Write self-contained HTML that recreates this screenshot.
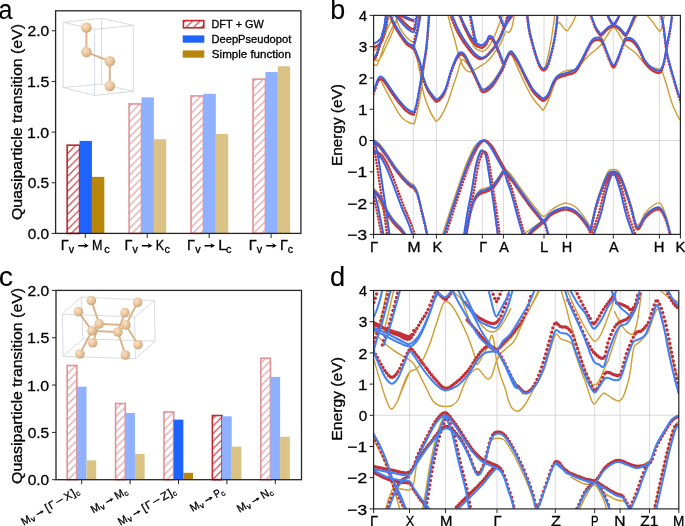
<!DOCTYPE html>
<html><head><meta charset="utf-8"><style>html,body{margin:0;padding:0;background:#fff;}#w{width:685px;height:526px;overflow:hidden;will-change:transform;}svg{display:block;}text{font-family:"Liberation Sans", sans-serif;}</style></head>
<body><div id="w"><svg width="685" height="526" viewBox="0 0 685 526" font-family='"Liberation Sans", sans-serif' fill="#000" style="font-kerning:none"><defs>
<clipPath id="clipb"><rect x="373.6" y="15.4" width="306.8" height="219"/></clipPath>
<clipPath id="clipd"><rect x="373.6" y="290.5" width="305.2" height="218.4"/></clipPath>
<pattern id="hatchS" patternUnits="userSpaceOnUse" width="7.6" height="7.6" patternTransform="translate(0.6,0)">
<path d="M-2,2 L2,-2 M0,7.6 L7.6,0 M5.6,9.6 L9.6,5.6" stroke="#c1272d" stroke-width="1.15"/></pattern>
<pattern id="hatchL" patternUnits="userSpaceOnUse" width="7.6" height="7.6" patternTransform="translate(0.6,0)">
<path d="M-2,2 L2,-2 M0,7.6 L7.6,0 M5.6,9.6 L9.6,5.6" stroke="#df9396" stroke-width="1.15"/></pattern>
<radialGradient id="atomg" cx="0.38" cy="0.35" r="0.7">
<stop offset="0" stop-color="#f7e2c6"/><stop offset="0.55" stop-color="#e9c49a"/><stop offset="1" stop-color="#c9a27a"/></radialGradient>
</defs><rect x="67.17" y="145.17" width="12.39" height="88.23" fill="url(#hatchS)" stroke="#c1272d" stroke-width="1.6"/>
<rect x="79.56" y="140.91" width="12.39" height="92.49" fill="#1f63ff"/>
<rect x="91.94" y="176.87" width="12.39" height="56.53" fill="#b8860b"/>
<rect x="129.11" y="103.94" width="12.39" height="129.46" fill="url(#hatchL)" stroke="#df9396" stroke-width="1.6"/>
<rect x="141.50" y="97.35" width="12.39" height="136.05" fill="#8fb1ff"/>
<rect x="153.88" y="139.29" width="12.39" height="94.11" fill="#dbc285"/>
<rect x="191.05" y="95.94" width="12.39" height="137.46" fill="url(#hatchL)" stroke="#df9396" stroke-width="1.6"/>
<rect x="203.44" y="93.81" width="12.39" height="139.59" fill="#8fb1ff"/>
<rect x="215.82" y="133.92" width="12.39" height="99.48" fill="#dbc285"/>
<rect x="252.99" y="79.12" width="12.39" height="154.28" fill="url(#hatchL)" stroke="#df9396" stroke-width="1.6"/>
<rect x="265.38" y="72.03" width="12.39" height="161.37" fill="#8fb1ff"/>
<rect x="277.76" y="66.26" width="12.39" height="167.14" fill="#dbc285"/>
<rect x="55.6" y="10.8" width="245.3" height="222.6" fill="none" stroke="#262626" stroke-width="1.3"/>
<line x1="51.6" y1="233.40" x2="55.6" y2="233.40" stroke="#262626" stroke-width="1"/>
<text transform="translate(27.70,239.00) scale(1.0179,1)" font-size="15.2" fill="#000" stroke="#000" stroke-width="0.3">0.0</text>
<line x1="51.6" y1="182.75" x2="55.6" y2="182.75" stroke="#262626" stroke-width="1"/>
<text transform="translate(27.69,188.35) scale(1.0202,1)" font-size="15.2" fill="#000" stroke="#000" stroke-width="0.3">0.5</text>
<line x1="51.6" y1="132.10" x2="55.6" y2="132.10" stroke="#262626" stroke-width="1"/>
<text transform="translate(27.09,137.70) scale(1.0476,1)" font-size="15.2" fill="#000" stroke="#000" stroke-width="0.3">1.0</text>
<line x1="51.6" y1="81.45" x2="55.6" y2="81.45" stroke="#262626" stroke-width="1"/>
<text transform="translate(27.08,87.05) scale(1.0500,1)" font-size="15.2" fill="#000" stroke="#000" stroke-width="0.3">1.5</text>
<line x1="51.6" y1="30.80" x2="55.6" y2="30.80" stroke="#262626" stroke-width="1"/>
<text transform="translate(27.52,36.40) scale(1.0267,1)" font-size="15.2" fill="#000" stroke="#000" stroke-width="0.3">2.0</text>
<line x1="85.30" y1="233.4" x2="85.30" y2="238.0" stroke="#262626" stroke-width="1"/>
<text transform="translate(60.71,250.20) scale(1.0222,1)" font-size="14.2" fill="#000" stroke="#000" stroke-width="0.3">Γ</text>
<text transform="translate(68.86,253.00) scale(1.0747,1)" font-size="10" fill="#000" stroke="#000" stroke-width="0.3">v</text>
<path d="M78.20,244.93 L85.13,244.93 L83.94,243.04 L88.70,245.70 L83.94,248.36 L85.13,246.47 L78.20,246.47 Z" fill="#000"/>
<text transform="translate(92.07,250.20) scale(0.8843,1)" font-size="14.2" fill="#000" stroke="#000" stroke-width="0.3">M</text>
<text transform="translate(104.34,252.90) scale(1.0901,1)" font-size="10" fill="#000" stroke="#000" stroke-width="0.3">c</text>
<line x1="147.24" y1="233.4" x2="147.24" y2="238.0" stroke="#262626" stroke-width="1"/>
<text transform="translate(124.41,250.20) scale(1.0222,1)" font-size="14.2" fill="#000" stroke="#000" stroke-width="0.3">Γ</text>
<text transform="translate(132.56,253.00) scale(1.0747,1)" font-size="10" fill="#000" stroke="#000" stroke-width="0.3">v</text>
<path d="M141.90,244.93 L148.83,244.93 L147.64,243.04 L152.40,245.70 L147.64,248.36 L148.83,246.47 L141.90,246.47 Z" fill="#000"/>
<text transform="translate(155.77,250.20) scale(0.8838,1)" font-size="14.2" fill="#000" stroke="#000" stroke-width="0.3">K</text>
<text transform="translate(164.44,252.90) scale(1.0901,1)" font-size="10" fill="#000" stroke="#000" stroke-width="0.3">c</text>
<line x1="209.18" y1="233.4" x2="209.18" y2="238.0" stroke="#262626" stroke-width="1"/>
<text transform="translate(187.01,250.20) scale(1.0222,1)" font-size="14.2" fill="#000" stroke="#000" stroke-width="0.3">Γ</text>
<text transform="translate(195.16,253.00) scale(1.0747,1)" font-size="10" fill="#000" stroke="#000" stroke-width="0.3">v</text>
<path d="M204.50,244.93 L211.43,244.93 L210.24,243.04 L215.00,245.70 L210.24,248.36 L211.43,246.47 L204.50,246.47 Z" fill="#000"/>
<text transform="translate(218.13,250.20) scale(1.0861,1)" font-size="14.2" fill="#000" stroke="#000" stroke-width="0.3">L</text>
<text transform="translate(226.04,252.90) scale(1.0901,1)" font-size="10" fill="#000" stroke="#000" stroke-width="0.3">c</text>
<line x1="271.12" y1="233.4" x2="271.12" y2="238.0" stroke="#262626" stroke-width="1"/>
<text transform="translate(248.71,250.20) scale(1.0222,1)" font-size="14.2" fill="#000" stroke="#000" stroke-width="0.3">Γ</text>
<text transform="translate(256.86,253.00) scale(1.0747,1)" font-size="10" fill="#000" stroke="#000" stroke-width="0.3">v</text>
<path d="M266.20,244.93 L273.13,244.93 L271.94,243.04 L276.70,245.70 L271.94,248.36 L273.13,246.47 L266.20,246.47 Z" fill="#000"/>
<text transform="translate(279.91,250.20) scale(1.0222,1)" font-size="14.2" fill="#000" stroke="#000" stroke-width="0.3">Γ</text>
<text transform="translate(287.64,252.90) scale(1.0901,1)" font-size="10" fill="#000" stroke="#000" stroke-width="0.3">c</text>
<text transform="translate(21.50,220.05) rotate(-90) scale(1.1361,1)" font-size="14" stroke="#000" stroke-width="0.3">Quasiparticle transition (eV)</text>
<rect x="183.4" y="20.6" width="20.4" height="7.2" fill="url(#hatchS)" stroke="#c1272d" stroke-width="1.6"/>
<rect x="182.7" y="35.4" width="21.6" height="7.3" fill="#1f63ff"/>
<rect x="182.7" y="50.4" width="21.6" height="7.3" fill="#b8860b"/>
<text transform="translate(211.50,27.80) scale(1.0198,1)" font-size="10.7" fill="#000" stroke="#000" stroke-width="0.3">DFT + GW</text>
<text transform="translate(211.49,42.80) scale(1.0397,1)" font-size="10.7" fill="#000" stroke="#000" stroke-width="0.3">DeepPseudopot</text>
<text transform="translate(211.87,57.80) scale(1.0823,1)" font-size="10.7" fill="#000" stroke="#000" stroke-width="0.3">Simple function</text>
<rect x="67.18" y="365.46" width="9.68" height="114.24" fill="url(#hatchL)" stroke="#df9396" stroke-width="1.6"/>
<rect x="76.86" y="386.66" width="9.68" height="93.04" fill="#8fb1ff"/>
<rect x="86.54" y="460.39" width="9.68" height="19.31" fill="#dbc285"/>
<rect x="115.58" y="403.51" width="9.68" height="76.19" fill="url(#hatchL)" stroke="#df9396" stroke-width="1.6"/>
<rect x="125.26" y="412.97" width="9.68" height="66.73" fill="#8fb1ff"/>
<rect x="134.94" y="453.86" width="9.68" height="25.84" fill="#dbc285"/>
<rect x="163.98" y="411.93" width="9.68" height="67.77" fill="url(#hatchL)" stroke="#df9396" stroke-width="1.6"/>
<rect x="173.66" y="419.60" width="9.68" height="60.10" fill="#1f63ff"/>
<rect x="183.34" y="472.79" width="9.68" height="6.91" fill="#b8860b"/>
<rect x="212.38" y="415.53" width="9.68" height="64.17" fill="url(#hatchS)" stroke="#c1272d" stroke-width="1.6"/>
<rect x="222.06" y="416.28" width="9.68" height="63.42" fill="#8fb1ff"/>
<rect x="231.74" y="446.57" width="9.68" height="33.13" fill="#dbc285"/>
<rect x="260.78" y="358.26" width="9.68" height="121.44" fill="url(#hatchL)" stroke="#df9396" stroke-width="1.6"/>
<rect x="270.46" y="376.91" width="9.68" height="102.79" fill="#8fb1ff"/>
<rect x="280.14" y="436.73" width="9.68" height="42.97" fill="#dbc285"/>
<rect x="56.0" y="290.4" width="245.5" height="189.3" fill="none" stroke="#262626" stroke-width="1.3"/>
<line x1="52.0" y1="479.70" x2="56.0" y2="479.70" stroke="#262626" stroke-width="1"/>
<text transform="translate(27.70,485.30) scale(1.0179,1)" font-size="15.2" fill="#000" stroke="#000" stroke-width="0.3">0.0</text>
<line x1="52.0" y1="432.38" x2="56.0" y2="432.38" stroke="#262626" stroke-width="1"/>
<text transform="translate(27.69,437.98) scale(1.0202,1)" font-size="15.2" fill="#000" stroke="#000" stroke-width="0.3">0.5</text>
<line x1="52.0" y1="385.05" x2="56.0" y2="385.05" stroke="#262626" stroke-width="1"/>
<text transform="translate(27.09,390.65) scale(1.0476,1)" font-size="15.2" fill="#000" stroke="#000" stroke-width="0.3">1.0</text>
<line x1="52.0" y1="337.72" x2="56.0" y2="337.72" stroke="#262626" stroke-width="1"/>
<text transform="translate(27.08,343.32) scale(1.0500,1)" font-size="15.2" fill="#000" stroke="#000" stroke-width="0.3">1.5</text>
<line x1="52.0" y1="290.40" x2="56.0" y2="290.40" stroke="#262626" stroke-width="1"/>
<text transform="translate(27.52,296.00) scale(1.0267,1)" font-size="15.2" fill="#000" stroke="#000" stroke-width="0.3">2.0</text>
<text transform="translate(21.50,483.95) rotate(-90) scale(1.1361,1)" font-size="14" stroke="#000" stroke-width="0.3">Quasiparticle transition (eV)</text>
<line x1="81.70" y1="479.7" x2="81.70" y2="484.2" stroke="#262626" stroke-width="1"/>
<g transform="translate(23.56,525.74) rotate(-30)">
<text transform="translate(0.18,0.00) scale(0.9971,1)" font-size="10.9" fill="#000" stroke="#000" stroke-width="0.3">M</text>
<text transform="translate(9.61,1.64) scale(1.0787,1)" font-size="7.63" fill="#000" stroke="#000" stroke-width="0.3">v</text>
<path d="M16.84,-3.54 L22.20,-3.54 L21.27,-5.01 L24.98,-2.94 L21.27,-0.87 L22.20,-2.34 L16.84,-2.34 Z" fill="#000"/>
<text transform="translate(27.53,0.00) scale(1.0567,1)" font-size="10.9" fill="#000" stroke="#000" stroke-width="0.3">[</text>
<text transform="translate(31.77,0.00) scale(1.0206,1)" font-size="10.9" fill="#000" stroke="#000" stroke-width="0.3">Γ</text>
<text transform="translate(39.46,0.00) scale(1.2885,1)" font-size="10.9" fill="#000" stroke="#000" stroke-width="0.3">−</text>
<text transform="translate(49.52,0.00) scale(1.0023,1)" font-size="10.9" fill="#000" stroke="#000" stroke-width="0.3">X</text>
<text transform="translate(57.74,0.00) scale(1.0567,1)" font-size="10.9" fill="#000" stroke="#000" stroke-width="0.3">]</text>
<text transform="translate(61.24,1.64) scale(1.0205,1)" font-size="7.63" fill="#000" stroke="#000" stroke-width="0.3">c</text>
</g>
<line x1="130.10" y1="479.7" x2="130.10" y2="484.2" stroke="#262626" stroke-width="1"/>
<g transform="translate(93.14,513.51) rotate(-30)">
<text transform="translate(0.18,0.00) scale(0.9971,1)" font-size="10.9" fill="#000" stroke="#000" stroke-width="0.3">M</text>
<text transform="translate(9.61,1.64) scale(1.0787,1)" font-size="7.63" fill="#000" stroke="#000" stroke-width="0.3">v</text>
<path d="M16.84,-3.54 L22.20,-3.54 L21.27,-5.01 L24.98,-2.94 L21.27,-0.87 L22.20,-2.34 L16.84,-2.34 Z" fill="#000"/>
<text transform="translate(27.46,0.00) scale(0.9971,1)" font-size="10.9" fill="#000" stroke="#000" stroke-width="0.3">M</text>
<text transform="translate(36.78,1.64) scale(1.0205,1)" font-size="7.63" fill="#000" stroke="#000" stroke-width="0.3">c</text>
</g>
<line x1="178.50" y1="479.7" x2="178.50" y2="484.2" stroke="#262626" stroke-width="1"/>
<g transform="translate(120.36,525.74) rotate(-30)">
<text transform="translate(0.18,0.00) scale(0.9971,1)" font-size="10.9" fill="#000" stroke="#000" stroke-width="0.3">M</text>
<text transform="translate(9.61,1.64) scale(1.0787,1)" font-size="7.63" fill="#000" stroke="#000" stroke-width="0.3">v</text>
<path d="M16.84,-3.54 L22.20,-3.54 L21.27,-5.01 L24.98,-2.94 L21.27,-0.87 L22.20,-2.34 L16.84,-2.34 Z" fill="#000"/>
<text transform="translate(27.53,0.00) scale(1.0567,1)" font-size="10.9" fill="#000" stroke="#000" stroke-width="0.3">[</text>
<text transform="translate(31.77,0.00) scale(1.0206,1)" font-size="10.9" fill="#000" stroke="#000" stroke-width="0.3">Γ</text>
<text transform="translate(39.46,0.00) scale(1.2885,1)" font-size="10.9" fill="#000" stroke="#000" stroke-width="0.3">−</text>
<text transform="translate(49.55,0.00) scale(1.0952,1)" font-size="10.9" fill="#000" stroke="#000" stroke-width="0.3">Z</text>
<text transform="translate(57.74,0.00) scale(1.0567,1)" font-size="10.9" fill="#000" stroke="#000" stroke-width="0.3">]</text>
<text transform="translate(61.24,1.64) scale(1.0205,1)" font-size="7.63" fill="#000" stroke="#000" stroke-width="0.3">c</text>
</g>
<line x1="226.90" y1="479.7" x2="226.90" y2="484.2" stroke="#262626" stroke-width="1"/>
<g transform="translate(192.40,512.09) rotate(-30)">
<text transform="translate(0.18,0.00) scale(0.9971,1)" font-size="10.9" fill="#000" stroke="#000" stroke-width="0.3">M</text>
<text transform="translate(9.61,1.64) scale(1.0787,1)" font-size="7.63" fill="#000" stroke="#000" stroke-width="0.3">v</text>
<path d="M16.84,-3.54 L22.20,-3.54 L21.27,-5.01 L24.98,-2.94 L21.27,-0.87 L22.20,-2.34 L16.84,-2.34 Z" fill="#000"/>
<text transform="translate(27.57,0.00) scale(0.8831,1)" font-size="10.9" fill="#000" stroke="#000" stroke-width="0.3">P</text>
<text transform="translate(33.95,1.64) scale(1.0205,1)" font-size="7.63" fill="#000" stroke="#000" stroke-width="0.3">c</text>
</g>
<line x1="275.30" y1="479.7" x2="275.30" y2="484.2" stroke="#262626" stroke-width="1"/>
<g transform="translate(239.43,512.88) rotate(-30)">
<text transform="translate(0.18,0.00) scale(0.9971,1)" font-size="10.9" fill="#000" stroke="#000" stroke-width="0.3">M</text>
<text transform="translate(9.61,1.64) scale(1.0787,1)" font-size="7.63" fill="#000" stroke="#000" stroke-width="0.3">v</text>
<path d="M16.84,-3.54 L22.20,-3.54 L21.27,-5.01 L24.98,-2.94 L21.27,-0.87 L22.20,-2.34 L16.84,-2.34 Z" fill="#000"/>
<text transform="translate(27.47,0.00) scale(0.9882,1)" font-size="10.9" fill="#000" stroke="#000" stroke-width="0.3">N</text>
<text transform="translate(35.53,1.64) scale(1.0205,1)" font-size="7.63" fill="#000" stroke="#000" stroke-width="0.3">c</text>
</g>
<line x1="63.1" y1="22.3" x2="101.6" y2="18.3" stroke="#c9cbd6" stroke-width="0.7"/>
<line x1="101.6" y1="18.3" x2="133.4" y2="25.4" stroke="#c9cbd6" stroke-width="0.7"/>
<line x1="133.4" y1="25.4" x2="94.6" y2="29.3" stroke="#c9cbd6" stroke-width="0.7"/>
<line x1="94.6" y1="29.3" x2="63.1" y2="22.3" stroke="#c9cbd6" stroke-width="0.7"/>
<line x1="63.1" y1="87.5" x2="101.6" y2="84.0" stroke="#c9cbd6" stroke-width="0.7"/>
<line x1="101.6" y1="84.0" x2="133.4" y2="91.3" stroke="#c9cbd6" stroke-width="0.7"/>
<line x1="133.4" y1="91.3" x2="94.6" y2="95.5" stroke="#c9cbd6" stroke-width="0.7"/>
<line x1="94.6" y1="95.5" x2="63.1" y2="87.5" stroke="#c9cbd6" stroke-width="0.7"/>
<line x1="63.1" y1="22.3" x2="63.1" y2="87.5" stroke="#c9cbd6" stroke-width="0.7"/>
<line x1="101.6" y1="18.3" x2="101.6" y2="84.0" stroke="#c9cbd6" stroke-width="0.7"/>
<line x1="133.4" y1="25.4" x2="133.4" y2="91.3" stroke="#c9cbd6" stroke-width="0.7"/>
<line x1="94.6" y1="29.3" x2="94.6" y2="95.5" stroke="#c9cbd6" stroke-width="0.7"/>
<line x1="86.4" y1="27.5" x2="86.4" y2="52.1" stroke="#d9b48a" stroke-width="2.0"/>
<line x1="86.4" y1="52.1" x2="109.8" y2="61.3" stroke="#d9b48a" stroke-width="2.0"/>
<line x1="109.8" y1="61.3" x2="109.8" y2="86.0" stroke="#d9b48a" stroke-width="2.0"/>
<circle cx="86.40" cy="27.50" r="5.3" fill="url(#atomg)"/>
<circle cx="86.40" cy="52.10" r="5.3" fill="url(#atomg)"/>
<circle cx="109.80" cy="61.30" r="5.3" fill="url(#atomg)"/>
<circle cx="109.80" cy="86.00" r="5.3" fill="url(#atomg)"/>
<line x1="81.4" y1="297" x2="154.4" y2="300.5" stroke="#c9cbd6" stroke-width="0.7"/>
<line x1="154.4" y1="300.5" x2="134.6" y2="317" stroke="#c9cbd6" stroke-width="0.7"/>
<line x1="134.6" y1="317" x2="62.4" y2="314.1" stroke="#c9cbd6" stroke-width="0.7"/>
<line x1="62.4" y1="314.1" x2="81.4" y2="297" stroke="#c9cbd6" stroke-width="0.7"/>
<line x1="82.8" y1="338.9" x2="155.1" y2="341.1" stroke="#c9cbd6" stroke-width="0.7"/>
<line x1="155.1" y1="341.1" x2="135.4" y2="358.6" stroke="#c9cbd6" stroke-width="0.7"/>
<line x1="135.4" y1="358.6" x2="63.1" y2="356.4" stroke="#c9cbd6" stroke-width="0.7"/>
<line x1="63.1" y1="356.4" x2="82.8" y2="338.9" stroke="#c9cbd6" stroke-width="0.7"/>
<line x1="81.4" y1="297" x2="82.8" y2="338.9" stroke="#c9cbd6" stroke-width="0.7"/>
<line x1="154.4" y1="300.5" x2="155.1" y2="341.1" stroke="#c9cbd6" stroke-width="0.7"/>
<line x1="62.4" y1="314.1" x2="63.1" y2="356.4" stroke="#c9cbd6" stroke-width="0.7"/>
<line x1="134.6" y1="317" x2="135.4" y2="358.6" stroke="#c9cbd6" stroke-width="0.7"/>
<line x1="78.4" y1="311.6" x2="91.9" y2="330.9" stroke="#d9b48a" stroke-width="2.0"/>
<line x1="91.3" y1="300.5" x2="99.2" y2="323.9" stroke="#d9b48a" stroke-width="2.0"/>
<line x1="99.2" y1="323.9" x2="125.9" y2="325" stroke="#d9b48a" stroke-width="2.0"/>
<line x1="91.9" y1="330.9" x2="117.9" y2="332" stroke="#d9b48a" stroke-width="2.0"/>
<line x1="91.9" y1="330.9" x2="79.9" y2="354" stroke="#d9b48a" stroke-width="2.0"/>
<line x1="99.2" y1="323.9" x2="92.7" y2="342.8" stroke="#d9b48a" stroke-width="2.0"/>
<line x1="137.6" y1="302.4" x2="125.9" y2="325" stroke="#d9b48a" stroke-width="2.0"/>
<line x1="124.9" y1="312.6" x2="117.9" y2="332" stroke="#d9b48a" stroke-width="2.0"/>
<line x1="125.9" y1="325" x2="138" y2="344.7" stroke="#d9b48a" stroke-width="2.0"/>
<line x1="117.9" y1="332" x2="125.4" y2="355" stroke="#d9b48a" stroke-width="2.0"/>
<line x1="99.2" y1="323.9" x2="91.9" y2="330.9" stroke="#d9b48a" stroke-width="2.0"/>
<line x1="125.9" y1="325" x2="117.9" y2="332" stroke="#d9b48a" stroke-width="2.0"/>
<circle cx="91.30" cy="300.50" r="4.8" fill="url(#atomg)"/>
<circle cx="137.60" cy="302.40" r="4.8" fill="url(#atomg)"/>
<circle cx="78.40" cy="311.60" r="4.8" fill="url(#atomg)"/>
<circle cx="124.90" cy="312.60" r="4.8" fill="url(#atomg)"/>
<circle cx="99.20" cy="323.90" r="4.8" fill="url(#atomg)"/>
<circle cx="125.90" cy="325.00" r="4.8" fill="url(#atomg)"/>
<circle cx="91.90" cy="330.90" r="4.8" fill="url(#atomg)"/>
<circle cx="117.90" cy="332.00" r="4.8" fill="url(#atomg)"/>
<circle cx="92.70" cy="342.80" r="4.8" fill="url(#atomg)"/>
<circle cx="138.00" cy="344.70" r="4.8" fill="url(#atomg)"/>
<circle cx="79.90" cy="354.00" r="4.8" fill="url(#atomg)"/>
<circle cx="125.40" cy="355.00" r="4.8" fill="url(#atomg)"/>
<text transform="translate(-1.57,18.80) scale(0.8969,1)" font-size="28" fill="#000" stroke="#000" stroke-width="0.1">a</text>
<text transform="translate(330.37,18.80) scale(0.9609,1)" font-size="28" fill="#000" stroke="#000" stroke-width="0.1">b</text>
<text transform="translate(-1.21,285.50) scale(1.0189,1)" font-size="28" fill="#000" stroke="#000" stroke-width="0.1">c</text>
<text transform="translate(329.95,285.60) scale(0.9768,1)" font-size="28" fill="#000" stroke="#000" stroke-width="0.1">d</text>
<line x1="413.3" y1="15.4" x2="413.3" y2="234.4" stroke="#d0d0d0" stroke-width="0.8"/>
<line x1="436.4" y1="15.4" x2="436.4" y2="234.4" stroke="#d0d0d0" stroke-width="0.8"/>
<line x1="482.3" y1="15.4" x2="482.3" y2="234.4" stroke="#d0d0d0" stroke-width="0.8"/>
<line x1="503.4" y1="15.4" x2="503.4" y2="234.4" stroke="#d0d0d0" stroke-width="0.8"/>
<line x1="544.0" y1="15.4" x2="544.0" y2="234.4" stroke="#d0d0d0" stroke-width="0.8"/>
<line x1="566.6" y1="15.4" x2="566.6" y2="234.4" stroke="#d0d0d0" stroke-width="0.8"/>
<line x1="613.3" y1="15.4" x2="613.3" y2="234.4" stroke="#d0d0d0" stroke-width="0.8"/>
<line x1="659.4" y1="15.4" x2="659.4" y2="234.4" stroke="#d0d0d0" stroke-width="0.8"/>
<line x1="373.6" y1="140.54" x2="680.4" y2="140.54" stroke="#d0d0d0" stroke-width="0.8"/>
<line x1="409.5" y1="290.5" x2="409.5" y2="508.9" stroke="#d0d0d0" stroke-width="0.8"/>
<line x1="445.6" y1="290.5" x2="445.6" y2="508.9" stroke="#d0d0d0" stroke-width="0.8"/>
<line x1="497.0" y1="290.5" x2="497.0" y2="508.9" stroke="#d0d0d0" stroke-width="0.8"/>
<line x1="555.3" y1="290.5" x2="555.3" y2="508.9" stroke="#d0d0d0" stroke-width="0.8"/>
<line x1="594.7" y1="290.5" x2="594.7" y2="508.9" stroke="#d0d0d0" stroke-width="0.8"/>
<line x1="620.1" y1="290.5" x2="620.1" y2="508.9" stroke="#d0d0d0" stroke-width="0.8"/>
<line x1="649.5" y1="290.5" x2="649.5" y2="508.9" stroke="#d0d0d0" stroke-width="0.8"/>
<line x1="373.6" y1="415.30" x2="678.8" y2="415.30" stroke="#d0d0d0" stroke-width="0.8"/>
<g clip-path="url(#clipb)">
<path d="M373.6,91.0C374.1,89.8 375.6,85.8 376.5,84.0C377.4,82.2 378.4,80.7 379.0,80.0C379.6,79.3 379.5,78.3 380.4,79.6C381.3,80.8 383.1,85.1 384.4,87.5C385.6,89.9 386.7,91.9 387.9,94.1C389.1,96.3 390.2,98.5 391.4,100.6C392.6,102.7 393.7,104.7 394.9,106.7C396.1,108.8 397.3,111.2 398.4,112.9C399.5,114.6 400.4,115.7 401.5,117.0C402.6,118.3 404.1,119.6 405.3,120.5C406.6,121.4 407.8,122.0 409.0,122.5C410.2,123.0 411.7,123.5 412.6,123.6C413.5,123.7 413.5,124.8 414.2,123.3C414.9,121.8 415.7,119.0 416.6,114.9C417.5,110.8 418.9,103.5 419.8,98.8C420.7,94.1 421.2,91.2 421.8,86.7C422.4,82.2 423.0,76.5 423.5,72.0C424.0,67.5 424.5,63.7 425.0,60.0C425.5,56.3 426.0,54.7 426.5,50.0C427.0,45.3 427.5,38.0 428.0,32.0C428.5,26.0 429.2,17.0 429.5,14.0M394.5,24.0C395.8,26.3 400.1,34.3 402.4,37.6C404.6,40.9 406.1,41.9 408.0,44.0C409.9,46.1 412.3,47.9 413.7,50.1C415.1,52.3 415.7,54.3 416.6,57.4C417.5,60.5 418.4,65.0 419.1,68.5C419.8,72.0 420.5,75.3 421.0,78.4C421.5,81.5 421.6,83.9 422.2,87.0C422.8,90.1 423.5,93.4 424.7,97.2C425.9,101.0 427.9,106.5 429.5,110.1C431.1,113.7 433.2,117.2 434.4,119.0C435.6,120.8 435.4,121.5 436.5,121.1C437.6,120.7 439.1,119.4 440.9,116.5C442.7,113.6 445.4,108.4 447.3,103.6C449.2,98.8 450.9,92.8 452.5,87.9C454.1,83.0 455.8,78.4 457.1,74.2C458.4,70.0 459.6,65.2 460.5,62.8C461.4,60.3 461.7,59.6 462.5,59.5C463.3,59.4 464.2,60.7 465.5,62.0C466.8,63.3 468.4,65.0 470.0,67.5C471.6,70.0 473.5,74.1 475.0,77.0C476.5,79.9 477.6,82.9 479.0,85.0C480.4,87.1 481.6,89.5 483.3,89.6C485.0,89.7 487.1,87.4 489.0,85.6C490.9,83.8 492.9,81.3 494.7,78.8C496.5,76.3 498.5,73.4 500.0,70.8C501.5,68.2 502.3,65.5 503.5,63.0C504.7,60.5 505.9,57.7 507.0,56.0C508.1,54.3 508.4,50.8 510.2,52.8C512.0,54.8 515.3,62.8 517.8,68.1C520.3,73.4 522.9,79.7 525.4,84.8C527.9,89.9 530.5,94.7 533.0,98.5C535.5,102.3 538.9,105.8 540.7,107.6C542.5,109.4 542.2,111.3 543.7,109.5C545.2,107.7 547.8,101.9 549.8,97.0C551.8,92.1 554.2,84.1 555.9,80.2C557.5,76.3 557.9,75.4 559.7,73.8C561.5,72.2 564.3,71.2 566.9,70.4C569.5,69.7 573.3,70.2 575.5,69.3C577.7,68.4 578.4,66.6 580.0,65.0C581.6,63.4 583.2,61.4 585.0,59.5C586.8,57.6 588.8,55.5 590.7,53.8C592.6,52.1 594.5,50.9 596.4,49.2C598.3,47.5 600.2,46.0 602.1,43.5C604.0,41.0 605.9,37.1 607.8,34.4C609.7,31.7 611.6,27.5 613.5,27.5C615.4,27.5 617.3,31.5 619.2,34.4C621.1,37.2 623.0,42.1 624.9,44.6C626.8,47.1 628.7,47.7 630.6,49.2C632.5,50.7 633.9,51.3 636.3,53.8C638.7,56.3 642.7,61.8 645.0,64.0C647.3,66.2 647.8,66.1 650.2,67.0C652.7,67.9 657.6,68.1 659.7,69.3C661.8,70.5 662.0,71.7 663.0,74.0C664.0,76.3 664.4,77.7 666.0,82.9C667.6,88.2 670.5,99.3 672.8,105.5C675.1,111.7 678.8,117.8 680.0,120.2M447.7,14.0C448.2,16.2 449.8,22.7 451.0,27.0C452.2,31.3 453.6,35.5 454.8,40.0C456.0,44.5 457.2,50.2 458.2,53.7C459.2,57.2 460.2,58.9 461.0,61.0C461.8,63.1 462.1,64.7 463.0,66.2C463.9,67.7 465.1,69.2 466.2,70.2C467.3,71.2 468.5,71.8 469.6,71.9C470.8,72.0 472.0,71.4 473.1,70.8C474.2,70.2 475.2,69.3 476.5,68.5C477.8,67.7 479.5,66.7 481.0,65.7C482.5,64.8 484.1,64.0 485.6,62.8C487.1,61.5 488.7,59.9 490.2,58.2C491.7,56.5 493.1,54.8 494.7,52.5C496.3,50.2 498.5,47.2 500.0,44.6C501.5,42.0 502.5,39.2 503.5,37.0C504.5,34.8 505.1,32.2 506.0,31.5C506.9,30.8 508.0,33.2 509.0,32.5C510.0,31.8 511.1,30.1 512.0,27.0C512.9,23.9 514.1,16.2 514.5,14.0M589.6,14.0C590.5,16.1 593.6,22.9 595.3,26.4C597.0,29.9 598.7,32.7 600.0,35.0C601.3,37.3 602.5,39.2 603.0,40.0M637.4,14.0C636.5,16.1 633.4,22.9 631.7,26.4C630.0,29.9 628.3,32.7 627.0,35.0C625.7,37.3 624.5,39.2 624.0,40.0M373.6,64.0C374.1,64.2 375.6,66.4 376.7,65.2C377.8,64.0 379.1,60.3 380.4,56.8C381.7,53.3 382.8,48.6 384.5,44.3C386.2,39.9 388.9,34.7 390.8,30.7C392.7,26.7 394.6,23.0 396.0,20.2C397.4,17.4 398.5,15.0 399.0,14.0M373.6,51.0C374.3,50.5 376.6,49.5 378.0,48.0C379.4,46.5 380.7,45.0 382.0,42.0C383.3,39.0 384.8,34.7 386.0,30.0C387.2,25.3 388.5,16.7 389.0,14.0M557.0,24.0C557.5,23.8 558.7,22.4 559.7,22.9C560.7,23.4 561.8,25.7 563.0,27.0C564.2,28.3 565.7,30.8 566.9,30.8C568.1,30.8 569.0,28.5 570.0,27.0C571.0,25.5 572.1,24.0 573.2,21.8C574.3,19.6 576.0,15.3 576.6,14.0M555.0,14.0C554.5,17.5 553.0,28.7 552.0,35.0C551.0,41.3 550.0,47.2 549.0,52.0C548.0,56.8 546.9,61.0 546.0,64.0C545.1,67.0 544.5,69.5 543.7,70.0C542.9,70.5 542.0,68.7 541.0,67.0C540.0,65.3 539.2,63.3 538.0,60.0C536.8,56.7 535.3,52.0 534.0,47.0C532.7,42.0 531.0,35.5 530.0,30.0C529.0,24.5 528.3,16.7 528.0,14.0M373.6,139.5C374.6,140.2 377.3,141.5 379.6,144.0C381.9,146.5 384.7,150.8 387.2,154.5C389.7,158.2 392.3,162.5 394.8,166.0C397.3,169.5 399.9,172.5 402.4,175.3C404.9,178.1 408.1,181.2 410.0,182.8C411.9,184.4 412.5,183.4 413.8,185.0C415.1,186.6 416.3,188.3 417.6,192.5C418.9,196.7 420.7,205.2 421.8,210.0C422.9,214.8 423.6,216.8 424.5,221.0C425.4,225.2 426.8,232.7 427.3,235.0M373.6,188.5C374.3,189.2 376.4,190.9 377.7,192.5C379.0,194.1 380.2,195.8 381.5,198.0C382.8,200.2 384.0,203.0 385.3,205.5C386.6,208.0 387.5,210.4 389.1,213.0C390.7,215.6 392.9,218.7 394.8,221.0C396.7,223.3 398.6,224.7 400.5,227.0C402.4,229.3 405.1,233.7 406.0,235.0M378.0,200.0C378.8,201.2 381.2,203.9 382.5,207.2C383.8,210.5 384.9,215.4 386.0,220.0C387.1,224.6 388.5,232.5 389.0,235.0M482.5,149.6C482.1,149.9 481.0,149.0 479.9,151.5C478.8,154.0 477.2,158.2 475.9,164.5C474.6,170.8 473.2,181.1 471.9,189.0C470.6,196.9 469.1,204.3 468.0,212.0C466.9,219.7 465.5,231.2 465.0,235.0M482.5,149.6C483.1,150.4 484.7,149.7 485.9,154.5C487.1,159.3 488.6,170.1 489.9,178.5C491.2,186.9 492.6,195.6 493.9,205.0C495.2,214.4 496.9,230.0 497.5,235.0M466.5,235.0C467.2,231.3 469.1,219.4 470.5,213.0C471.9,206.6 473.4,200.3 475.0,196.5C476.6,192.7 478.8,191.2 480.0,190.0C481.2,188.8 481.2,189.4 482.5,189.0C483.8,188.6 486.2,188.2 488.0,187.5C489.8,186.8 491.2,186.3 493.0,184.5C494.8,182.7 497.2,179.0 499.0,176.5C500.8,174.0 502.1,170.0 503.9,169.5C505.7,169.0 507.3,170.5 510.0,173.5C512.7,176.5 516.7,182.9 520.0,187.5C523.3,192.1 527.0,197.1 530.0,201.0C533.0,204.9 535.7,208.4 538.0,211.0C540.3,213.6 541.7,216.6 543.8,216.5C545.9,216.4 548.0,212.4 550.6,210.5C553.2,208.6 557.0,206.2 559.7,205.0C562.4,203.8 564.3,202.8 566.9,203.1C569.5,203.4 572.9,205.1 575.5,207.0C578.1,208.9 580.2,211.8 582.3,214.5C584.4,217.2 586.6,220.9 588.0,223.0C589.4,225.1 589.2,230.1 590.5,227.0C591.8,223.9 593.9,211.7 595.9,204.5C597.9,197.3 600.6,189.5 602.7,184.0C604.8,178.5 606.5,173.9 608.3,171.5C610.1,169.1 611.6,169.6 613.3,169.6C615.0,169.6 616.7,169.1 618.5,171.5C620.3,173.9 622.1,178.5 624.2,184.0C626.3,189.5 628.7,197.7 630.9,204.5C633.1,211.3 634.8,223.7 637.2,225.0C639.7,226.3 642.9,215.8 645.6,212.5C648.3,209.2 651.2,206.6 653.6,205.0C656.0,203.4 658.0,202.3 659.7,203.1C661.4,203.8 662.5,206.8 663.7,209.5C664.9,212.2 665.9,215.2 667.1,219.5C668.3,223.8 670.4,232.4 671.0,235.0M522.0,235.0C523.0,234.3 525.8,232.5 528.0,231.0C530.2,229.5 532.4,227.9 535.0,226.0C537.6,224.1 542.3,220.6 543.8,219.5M458.7,14.0C459.6,16.2 462.2,22.9 464.0,27.0C465.8,31.1 467.4,35.0 469.2,38.5C471.0,42.0 473.4,45.9 475.0,47.9C476.6,49.9 477.2,49.6 478.5,50.2C479.8,50.8 481.2,51.6 482.6,51.4C484.0,51.2 485.4,50.2 486.7,49.0C488.0,47.8 489.0,46.4 490.2,44.4C491.4,42.4 492.9,39.4 494.0,37.0C495.1,34.6 496.0,32.5 497.0,30.0C498.0,27.5 499.0,24.7 500.0,22.0C501.0,19.3 502.5,15.3 503.0,14.0M373.6,59.6C374.3,59.8 376.4,60.9 377.6,60.5C378.8,60.1 379.7,59.2 381.0,57.0C382.3,54.8 384.0,50.8 385.5,47.5C387.0,44.2 388.8,40.5 390.1,37.5C391.4,34.5 392.3,32.8 393.5,29.5C394.7,26.2 396.7,20.6 397.5,18.0C398.3,15.4 398.3,14.7 398.5,14.0M396.0,18.0C396.7,19.8 398.4,25.5 400.3,28.8C402.2,32.1 404.9,35.6 407.2,37.9C409.4,40.2 412.3,42.1 413.8,42.5C415.3,42.9 415.3,42.1 416.0,40.0C416.7,37.9 417.4,34.3 418.0,30.0C418.6,25.7 419.2,16.7 419.5,14.0M383.0,40.0C383.8,38.0 386.2,31.3 387.8,27.7C389.4,24.1 391.4,20.9 392.4,18.6C393.4,16.3 393.7,14.8 394.0,14.0M442.5,235.0C443.8,230.8 447.8,218.0 450.5,209.8C453.2,201.6 455.8,193.6 458.5,185.9C461.2,178.2 463.8,170.1 466.5,163.5C469.2,156.9 472.1,150.1 474.8,146.2C477.5,142.3 480.6,141.0 482.5,140.2C484.4,139.4 485.4,141.3 486.0,141.5M646.0,14.0C647.0,15.2 649.7,18.2 652.0,21.0C654.3,23.8 658.0,30.5 659.7,31.0C661.5,31.5 661.7,26.8 662.5,24.0C663.3,21.2 664.2,15.7 664.5,14.0" fill="none" stroke="#cf9f36" stroke-width="1.45" stroke-linejoin="round"/>
<path d="M372.2,93.5a1.35,1.35 0 1,0 2.7,0a1.35,1.35 0 1,0 -2.7,0M373.3,90.7a1.35,1.35 0 1,0 2.7,0a1.35,1.35 0 1,0 -2.7,0M374.3,88.0a1.35,1.35 0 1,0 2.7,0a1.35,1.35 0 1,0 -2.7,0M375.3,85.0a1.35,1.35 0 1,0 2.7,0a1.35,1.35 0 1,0 -2.7,0M376.3,82.3a1.35,1.35 0 1,0 2.7,0a1.35,1.35 0 1,0 -2.7,0M377.4,80.3a1.35,1.35 0 1,0 2.7,0a1.35,1.35 0 1,0 -2.7,0M378.5,79.3a1.35,1.35 0 1,0 2.7,0a1.35,1.35 0 1,0 -2.7,0M379.5,79.1a1.35,1.35 0 1,0 2.7,0a1.35,1.35 0 1,0 -2.7,0M380.6,79.4a1.35,1.35 0 1,0 2.7,0a1.35,1.35 0 1,0 -2.7,0M381.6,80.2a1.35,1.35 0 1,0 2.7,0a1.35,1.35 0 1,0 -2.7,0M382.6,81.3a1.35,1.35 0 1,0 2.7,0a1.35,1.35 0 1,0 -2.7,0M383.7,82.9a1.35,1.35 0 1,0 2.7,0a1.35,1.35 0 1,0 -2.7,0M384.8,84.3a1.35,1.35 0 1,0 2.7,0a1.35,1.35 0 1,0 -2.7,0M385.8,85.8a1.35,1.35 0 1,0 2.7,0a1.35,1.35 0 1,0 -2.7,0M386.8,87.3a1.35,1.35 0 1,0 2.7,0a1.35,1.35 0 1,0 -2.7,0M387.8,88.9a1.35,1.35 0 1,0 2.7,0a1.35,1.35 0 1,0 -2.7,0M388.8,90.4a1.35,1.35 0 1,0 2.7,0a1.35,1.35 0 1,0 -2.7,0M389.8,91.9a1.35,1.35 0 1,0 2.7,0a1.35,1.35 0 1,0 -2.7,0M390.8,93.4a1.35,1.35 0 1,0 2.7,0a1.35,1.35 0 1,0 -2.7,0M391.9,94.9a1.35,1.35 0 1,0 2.7,0a1.35,1.35 0 1,0 -2.7,0M392.9,96.4a1.35,1.35 0 1,0 2.7,0a1.35,1.35 0 1,0 -2.7,0M394.0,98.0a1.35,1.35 0 1,0 2.7,0a1.35,1.35 0 1,0 -2.7,0M395.1,99.4a1.35,1.35 0 1,0 2.7,0a1.35,1.35 0 1,0 -2.7,0M396.2,101.0a1.35,1.35 0 1,0 2.7,0a1.35,1.35 0 1,0 -2.7,0M397.3,102.5a1.35,1.35 0 1,0 2.7,0a1.35,1.35 0 1,0 -2.7,0M398.4,103.7a1.35,1.35 0 1,0 2.7,0a1.35,1.35 0 1,0 -2.7,0M399.5,105.0a1.35,1.35 0 1,0 2.7,0a1.35,1.35 0 1,0 -2.7,0M400.5,106.2a1.35,1.35 0 1,0 2.7,0a1.35,1.35 0 1,0 -2.7,0M401.7,107.5a1.35,1.35 0 1,0 2.7,0a1.35,1.35 0 1,0 -2.7,0M402.7,108.8a1.35,1.35 0 1,0 2.7,0a1.35,1.35 0 1,0 -2.7,0M403.8,109.8a1.35,1.35 0 1,0 2.7,0a1.35,1.35 0 1,0 -2.7,0M404.8,110.7a1.35,1.35 0 1,0 2.7,0a1.35,1.35 0 1,0 -2.7,0M405.9,111.5a1.35,1.35 0 1,0 2.7,0a1.35,1.35 0 1,0 -2.7,0M407.0,112.3a1.35,1.35 0 1,0 2.7,0a1.35,1.35 0 1,0 -2.7,0M408.0,113.0a1.35,1.35 0 1,0 2.7,0a1.35,1.35 0 1,0 -2.7,0M409.1,113.6a1.35,1.35 0 1,0 2.7,0a1.35,1.35 0 1,0 -2.7,0M410.2,114.0a1.35,1.35 0 1,0 2.7,0a1.35,1.35 0 1,0 -2.7,0M411.3,114.4a1.35,1.35 0 1,0 2.7,0a1.35,1.35 0 1,0 -2.7,0M412.5,114.5a1.35,1.35 0 1,0 2.7,0a1.35,1.35 0 1,0 -2.7,0M413.6,112.1a1.35,1.35 0 1,0 2.7,0a1.35,1.35 0 1,0 -2.7,0M414.6,109.0a1.35,1.35 0 1,0 2.7,0a1.35,1.35 0 1,0 -2.7,0M415.3,106.0a1.35,1.35 0 1,0 2.7,0a1.35,1.35 0 1,0 -2.7,0M415.9,102.9a1.35,1.35 0 1,0 2.7,0a1.35,1.35 0 1,0 -2.7,0M416.5,99.8a1.35,1.35 0 1,0 2.7,0a1.35,1.35 0 1,0 -2.7,0M417.0,96.7a1.35,1.35 0 1,0 2.7,0a1.35,1.35 0 1,0 -2.7,0M417.6,93.6a1.35,1.35 0 1,0 2.7,0a1.35,1.35 0 1,0 -2.7,0M418.1,90.6a1.35,1.35 0 1,0 2.7,0a1.35,1.35 0 1,0 -2.7,0M418.6,87.6a1.35,1.35 0 1,0 2.7,0a1.35,1.35 0 1,0 -2.7,0M419.1,84.5a1.35,1.35 0 1,0 2.7,0a1.35,1.35 0 1,0 -2.7,0M419.7,81.5a1.35,1.35 0 1,0 2.7,0a1.35,1.35 0 1,0 -2.7,0M420.1,78.5a1.35,1.35 0 1,0 2.7,0a1.35,1.35 0 1,0 -2.7,0M420.6,75.5a1.35,1.35 0 1,0 2.7,0a1.35,1.35 0 1,0 -2.7,0M421.1,72.5a1.35,1.35 0 1,0 2.7,0a1.35,1.35 0 1,0 -2.7,0M421.7,69.4a1.35,1.35 0 1,0 2.7,0a1.35,1.35 0 1,0 -2.7,0M422.2,66.4a1.35,1.35 0 1,0 2.7,0a1.35,1.35 0 1,0 -2.7,0M422.7,63.4a1.35,1.35 0 1,0 2.7,0a1.35,1.35 0 1,0 -2.7,0M423.2,60.4a1.35,1.35 0 1,0 2.7,0a1.35,1.35 0 1,0 -2.7,0M423.8,57.4a1.35,1.35 0 1,0 2.7,0a1.35,1.35 0 1,0 -2.7,0M424.3,54.3a1.35,1.35 0 1,0 2.7,0a1.35,1.35 0 1,0 -2.7,0M424.7,51.3a1.35,1.35 0 1,0 2.7,0a1.35,1.35 0 1,0 -2.7,0M425.1,48.2a1.35,1.35 0 1,0 2.7,0a1.35,1.35 0 1,0 -2.7,0M425.4,45.1a1.35,1.35 0 1,0 2.7,0a1.35,1.35 0 1,0 -2.7,0M425.7,42.0a1.35,1.35 0 1,0 2.7,0a1.35,1.35 0 1,0 -2.7,0M426.0,38.9a1.35,1.35 0 1,0 2.7,0a1.35,1.35 0 1,0 -2.7,0M426.3,35.8a1.35,1.35 0 1,0 2.7,0a1.35,1.35 0 1,0 -2.7,0M426.5,32.7a1.35,1.35 0 1,0 2.7,0a1.35,1.35 0 1,0 -2.7,0M426.8,29.5a1.35,1.35 0 1,0 2.7,0a1.35,1.35 0 1,0 -2.7,0M427.0,26.4a1.35,1.35 0 1,0 2.7,0a1.35,1.35 0 1,0 -2.7,0M427.2,23.2a1.35,1.35 0 1,0 2.7,0a1.35,1.35 0 1,0 -2.7,0M427.4,20.2a1.35,1.35 0 1,0 2.7,0a1.35,1.35 0 1,0 -2.7,0M427.6,17.2a1.35,1.35 0 1,0 2.7,0a1.35,1.35 0 1,0 -2.7,0M388.6,16.2a1.35,1.35 0 1,0 2.7,0a1.35,1.35 0 1,0 -2.7,0M389.7,18.8a1.35,1.35 0 1,0 2.7,0a1.35,1.35 0 1,0 -2.7,0M390.7,21.3a1.35,1.35 0 1,0 2.7,0a1.35,1.35 0 1,0 -2.7,0M391.8,23.5a1.35,1.35 0 1,0 2.7,0a1.35,1.35 0 1,0 -2.7,0M392.9,25.6a1.35,1.35 0 1,0 2.7,0a1.35,1.35 0 1,0 -2.7,0M394.0,27.5a1.35,1.35 0 1,0 2.7,0a1.35,1.35 0 1,0 -2.7,0M395.0,29.3a1.35,1.35 0 1,0 2.7,0a1.35,1.35 0 1,0 -2.7,0M396.1,31.1a1.35,1.35 0 1,0 2.7,0a1.35,1.35 0 1,0 -2.7,0M397.1,32.8a1.35,1.35 0 1,0 2.7,0a1.35,1.35 0 1,0 -2.7,0M398.2,34.5a1.35,1.35 0 1,0 2.7,0a1.35,1.35 0 1,0 -2.7,0M399.2,36.0a1.35,1.35 0 1,0 2.7,0a1.35,1.35 0 1,0 -2.7,0M400.3,37.6a1.35,1.35 0 1,0 2.7,0a1.35,1.35 0 1,0 -2.7,0M401.4,39.2a1.35,1.35 0 1,0 2.7,0a1.35,1.35 0 1,0 -2.7,0M402.5,40.7a1.35,1.35 0 1,0 2.7,0a1.35,1.35 0 1,0 -2.7,0M403.6,42.1a1.35,1.35 0 1,0 2.7,0a1.35,1.35 0 1,0 -2.7,0M404.7,43.4a1.35,1.35 0 1,0 2.7,0a1.35,1.35 0 1,0 -2.7,0M405.7,44.5a1.35,1.35 0 1,0 2.7,0a1.35,1.35 0 1,0 -2.7,0M406.8,45.3a1.35,1.35 0 1,0 2.7,0a1.35,1.35 0 1,0 -2.7,0M407.8,46.0a1.35,1.35 0 1,0 2.7,0a1.35,1.35 0 1,0 -2.7,0M408.9,46.6a1.35,1.35 0 1,0 2.7,0a1.35,1.35 0 1,0 -2.7,0M410.0,47.2a1.35,1.35 0 1,0 2.7,0a1.35,1.35 0 1,0 -2.7,0M411.1,47.9a1.35,1.35 0 1,0 2.7,0a1.35,1.35 0 1,0 -2.7,0M412.2,48.8a1.35,1.35 0 1,0 2.7,0a1.35,1.35 0 1,0 -2.7,0M413.3,50.2a1.35,1.35 0 1,0 2.7,0a1.35,1.35 0 1,0 -2.7,0M414.3,52.8a1.35,1.35 0 1,0 2.7,0a1.35,1.35 0 1,0 -2.7,0M415.4,55.7a1.35,1.35 0 1,0 2.7,0a1.35,1.35 0 1,0 -2.7,0M416.4,58.3a1.35,1.35 0 1,0 2.7,0a1.35,1.35 0 1,0 -2.7,0M417.5,61.0a1.35,1.35 0 1,0 2.7,0a1.35,1.35 0 1,0 -2.7,0M418.5,64.0a1.35,1.35 0 1,0 2.7,0a1.35,1.35 0 1,0 -2.7,0M419.2,66.9a1.35,1.35 0 1,0 2.7,0a1.35,1.35 0 1,0 -2.7,0M419.8,69.9a1.35,1.35 0 1,0 2.7,0a1.35,1.35 0 1,0 -2.7,0M420.5,73.0a1.35,1.35 0 1,0 2.7,0a1.35,1.35 0 1,0 -2.7,0M421.1,76.0a1.35,1.35 0 1,0 2.7,0a1.35,1.35 0 1,0 -2.7,0M421.9,79.1a1.35,1.35 0 1,0 2.7,0a1.35,1.35 0 1,0 -2.7,0M422.8,82.0a1.35,1.35 0 1,0 2.7,0a1.35,1.35 0 1,0 -2.7,0M423.8,84.9a1.35,1.35 0 1,0 2.7,0a1.35,1.35 0 1,0 -2.7,0M424.9,87.5a1.35,1.35 0 1,0 2.7,0a1.35,1.35 0 1,0 -2.7,0M425.9,89.5a1.35,1.35 0 1,0 2.7,0a1.35,1.35 0 1,0 -2.7,0M427.0,91.3a1.35,1.35 0 1,0 2.7,0a1.35,1.35 0 1,0 -2.7,0M428.0,92.9a1.35,1.35 0 1,0 2.7,0a1.35,1.35 0 1,0 -2.7,0M429.1,94.6a1.35,1.35 0 1,0 2.7,0a1.35,1.35 0 1,0 -2.7,0M430.1,96.0a1.35,1.35 0 1,0 2.7,0a1.35,1.35 0 1,0 -2.7,0M431.1,97.4a1.35,1.35 0 1,0 2.7,0a1.35,1.35 0 1,0 -2.7,0M432.2,98.7a1.35,1.35 0 1,0 2.7,0a1.35,1.35 0 1,0 -2.7,0M433.3,100.2a1.35,1.35 0 1,0 2.7,0a1.35,1.35 0 1,0 -2.7,0M434.4,101.4a1.35,1.35 0 1,0 2.7,0a1.35,1.35 0 1,0 -2.7,0M435.6,101.4a1.35,1.35 0 1,0 2.7,0a1.35,1.35 0 1,0 -2.7,0M436.7,101.0a1.35,1.35 0 1,0 2.7,0a1.35,1.35 0 1,0 -2.7,0M437.7,100.3a1.35,1.35 0 1,0 2.7,0a1.35,1.35 0 1,0 -2.7,0M438.8,99.3a1.35,1.35 0 1,0 2.7,0a1.35,1.35 0 1,0 -2.7,0M439.8,98.1a1.35,1.35 0 1,0 2.7,0a1.35,1.35 0 1,0 -2.7,0M440.9,96.9a1.35,1.35 0 1,0 2.7,0a1.35,1.35 0 1,0 -2.7,0M441.9,95.5a1.35,1.35 0 1,0 2.7,0a1.35,1.35 0 1,0 -2.7,0M442.9,93.7a1.35,1.35 0 1,0 2.7,0a1.35,1.35 0 1,0 -2.7,0M444.0,91.3a1.35,1.35 0 1,0 2.7,0a1.35,1.35 0 1,0 -2.7,0M445.0,88.6a1.35,1.35 0 1,0 2.7,0a1.35,1.35 0 1,0 -2.7,0M446.0,85.7a1.35,1.35 0 1,0 2.7,0a1.35,1.35 0 1,0 -2.7,0M446.8,82.8a1.35,1.35 0 1,0 2.7,0a1.35,1.35 0 1,0 -2.7,0M447.7,79.7a1.35,1.35 0 1,0 2.7,0a1.35,1.35 0 1,0 -2.7,0M448.5,76.8a1.35,1.35 0 1,0 2.7,0a1.35,1.35 0 1,0 -2.7,0M449.4,73.8a1.35,1.35 0 1,0 2.7,0a1.35,1.35 0 1,0 -2.7,0M450.4,70.8a1.35,1.35 0 1,0 2.7,0a1.35,1.35 0 1,0 -2.7,0M451.4,67.9a1.35,1.35 0 1,0 2.7,0a1.35,1.35 0 1,0 -2.7,0M452.5,65.2a1.35,1.35 0 1,0 2.7,0a1.35,1.35 0 1,0 -2.7,0M453.5,62.8a1.35,1.35 0 1,0 2.7,0a1.35,1.35 0 1,0 -2.7,0M454.6,60.5a1.35,1.35 0 1,0 2.7,0a1.35,1.35 0 1,0 -2.7,0M455.6,58.5a1.35,1.35 0 1,0 2.7,0a1.35,1.35 0 1,0 -2.7,0M456.7,56.8a1.35,1.35 0 1,0 2.7,0a1.35,1.35 0 1,0 -2.7,0M457.7,55.4a1.35,1.35 0 1,0 2.7,0a1.35,1.35 0 1,0 -2.7,0M458.8,54.6a1.35,1.35 0 1,0 2.7,0a1.35,1.35 0 1,0 -2.7,0M460.0,54.3a1.35,1.35 0 1,0 2.7,0a1.35,1.35 0 1,0 -2.7,0M461.1,54.7a1.35,1.35 0 1,0 2.7,0a1.35,1.35 0 1,0 -2.7,0M462.3,55.7a1.35,1.35 0 1,0 2.7,0a1.35,1.35 0 1,0 -2.7,0M463.4,57.0a1.35,1.35 0 1,0 2.7,0a1.35,1.35 0 1,0 -2.7,0M464.4,58.7a1.35,1.35 0 1,0 2.7,0a1.35,1.35 0 1,0 -2.7,0M465.5,60.8a1.35,1.35 0 1,0 2.7,0a1.35,1.35 0 1,0 -2.7,0M466.6,62.8a1.35,1.35 0 1,0 2.7,0a1.35,1.35 0 1,0 -2.7,0M467.7,64.9a1.35,1.35 0 1,0 2.7,0a1.35,1.35 0 1,0 -2.7,0M468.7,66.9a1.35,1.35 0 1,0 2.7,0a1.35,1.35 0 1,0 -2.7,0M469.8,69.0a1.35,1.35 0 1,0 2.7,0a1.35,1.35 0 1,0 -2.7,0M470.8,71.1a1.35,1.35 0 1,0 2.7,0a1.35,1.35 0 1,0 -2.7,0M471.8,73.2a1.35,1.35 0 1,0 2.7,0a1.35,1.35 0 1,0 -2.7,0M472.8,75.3a1.35,1.35 0 1,0 2.7,0a1.35,1.35 0 1,0 -2.7,0M473.9,77.5a1.35,1.35 0 1,0 2.7,0a1.35,1.35 0 1,0 -2.7,0M474.9,79.8a1.35,1.35 0 1,0 2.7,0a1.35,1.35 0 1,0 -2.7,0M476.0,82.3a1.35,1.35 0 1,0 2.7,0a1.35,1.35 0 1,0 -2.7,0M477.0,84.6a1.35,1.35 0 1,0 2.7,0a1.35,1.35 0 1,0 -2.7,0M478.1,86.9a1.35,1.35 0 1,0 2.7,0a1.35,1.35 0 1,0 -2.7,0M479.1,89.4a1.35,1.35 0 1,0 2.7,0a1.35,1.35 0 1,0 -2.7,0M480.2,91.1a1.35,1.35 0 1,0 2.7,0a1.35,1.35 0 1,0 -2.7,0M481.3,91.9a1.35,1.35 0 1,0 2.7,0a1.35,1.35 0 1,0 -2.7,0M482.3,92.0a1.35,1.35 0 1,0 2.7,0a1.35,1.35 0 1,0 -2.7,0M483.5,91.7a1.35,1.35 0 1,0 2.7,0a1.35,1.35 0 1,0 -2.7,0M484.5,91.3a1.35,1.35 0 1,0 2.7,0a1.35,1.35 0 1,0 -2.7,0M485.6,90.7a1.35,1.35 0 1,0 2.7,0a1.35,1.35 0 1,0 -2.7,0M486.7,90.0a1.35,1.35 0 1,0 2.7,0a1.35,1.35 0 1,0 -2.7,0M487.8,89.2a1.35,1.35 0 1,0 2.7,0a1.35,1.35 0 1,0 -2.7,0M488.9,88.2a1.35,1.35 0 1,0 2.7,0a1.35,1.35 0 1,0 -2.7,0M490.1,87.0a1.35,1.35 0 1,0 2.7,0a1.35,1.35 0 1,0 -2.7,0M491.1,85.9a1.35,1.35 0 1,0 2.7,0a1.35,1.35 0 1,0 -2.7,0M492.1,84.6a1.35,1.35 0 1,0 2.7,0a1.35,1.35 0 1,0 -2.7,0M493.1,83.2a1.35,1.35 0 1,0 2.7,0a1.35,1.35 0 1,0 -2.7,0M494.1,81.7a1.35,1.35 0 1,0 2.7,0a1.35,1.35 0 1,0 -2.7,0M495.1,80.0a1.35,1.35 0 1,0 2.7,0a1.35,1.35 0 1,0 -2.7,0M496.1,78.4a1.35,1.35 0 1,0 2.7,0a1.35,1.35 0 1,0 -2.7,0M497.2,76.6a1.35,1.35 0 1,0 2.7,0a1.35,1.35 0 1,0 -2.7,0M498.2,74.8a1.35,1.35 0 1,0 2.7,0a1.35,1.35 0 1,0 -2.7,0M499.3,73.0a1.35,1.35 0 1,0 2.7,0a1.35,1.35 0 1,0 -2.7,0M500.4,71.2a1.35,1.35 0 1,0 2.7,0a1.35,1.35 0 1,0 -2.7,0M501.5,69.2a1.35,1.35 0 1,0 2.7,0a1.35,1.35 0 1,0 -2.7,0M502.5,67.0a1.35,1.35 0 1,0 2.7,0a1.35,1.35 0 1,0 -2.7,0M503.6,64.2a1.35,1.35 0 1,0 2.7,0a1.35,1.35 0 1,0 -2.7,0M504.6,61.5a1.35,1.35 0 1,0 2.7,0a1.35,1.35 0 1,0 -2.7,0M505.6,59.2a1.35,1.35 0 1,0 2.7,0a1.35,1.35 0 1,0 -2.7,0M506.7,56.8a1.35,1.35 0 1,0 2.7,0a1.35,1.35 0 1,0 -2.7,0M507.8,54.6a1.35,1.35 0 1,0 2.7,0a1.35,1.35 0 1,0 -2.7,0M508.9,53.5a1.35,1.35 0 1,0 2.7,0a1.35,1.35 0 1,0 -2.7,0M509.9,53.6a1.35,1.35 0 1,0 2.7,0a1.35,1.35 0 1,0 -2.7,0M511.0,54.5a1.35,1.35 0 1,0 2.7,0a1.35,1.35 0 1,0 -2.7,0M512.1,55.7a1.35,1.35 0 1,0 2.7,0a1.35,1.35 0 1,0 -2.7,0M513.2,57.3a1.35,1.35 0 1,0 2.7,0a1.35,1.35 0 1,0 -2.7,0M514.2,58.9a1.35,1.35 0 1,0 2.7,0a1.35,1.35 0 1,0 -2.7,0M515.3,60.6a1.35,1.35 0 1,0 2.7,0a1.35,1.35 0 1,0 -2.7,0M516.3,62.4a1.35,1.35 0 1,0 2.7,0a1.35,1.35 0 1,0 -2.7,0M517.4,64.3a1.35,1.35 0 1,0 2.7,0a1.35,1.35 0 1,0 -2.7,0M518.4,66.3a1.35,1.35 0 1,0 2.7,0a1.35,1.35 0 1,0 -2.7,0M519.5,68.5a1.35,1.35 0 1,0 2.7,0a1.35,1.35 0 1,0 -2.7,0M520.6,70.8a1.35,1.35 0 1,0 2.7,0a1.35,1.35 0 1,0 -2.7,0M521.6,72.9a1.35,1.35 0 1,0 2.7,0a1.35,1.35 0 1,0 -2.7,0M522.7,75.2a1.35,1.35 0 1,0 2.7,0a1.35,1.35 0 1,0 -2.7,0M523.8,77.4a1.35,1.35 0 1,0 2.7,0a1.35,1.35 0 1,0 -2.7,0M524.8,79.4a1.35,1.35 0 1,0 2.7,0a1.35,1.35 0 1,0 -2.7,0M525.9,81.5a1.35,1.35 0 1,0 2.7,0a1.35,1.35 0 1,0 -2.7,0M527.0,83.6a1.35,1.35 0 1,0 2.7,0a1.35,1.35 0 1,0 -2.7,0M528.0,85.6a1.35,1.35 0 1,0 2.7,0a1.35,1.35 0 1,0 -2.7,0M529.1,87.5a1.35,1.35 0 1,0 2.7,0a1.35,1.35 0 1,0 -2.7,0M530.2,89.4a1.35,1.35 0 1,0 2.7,0a1.35,1.35 0 1,0 -2.7,0M531.3,91.0a1.35,1.35 0 1,0 2.7,0a1.35,1.35 0 1,0 -2.7,0M532.4,92.6a1.35,1.35 0 1,0 2.7,0a1.35,1.35 0 1,0 -2.7,0M533.4,93.8a1.35,1.35 0 1,0 2.7,0a1.35,1.35 0 1,0 -2.7,0M534.5,95.0a1.35,1.35 0 1,0 2.7,0a1.35,1.35 0 1,0 -2.7,0M535.6,96.0a1.35,1.35 0 1,0 2.7,0a1.35,1.35 0 1,0 -2.7,0M536.7,97.0a1.35,1.35 0 1,0 2.7,0a1.35,1.35 0 1,0 -2.7,0M537.8,97.9a1.35,1.35 0 1,0 2.7,0a1.35,1.35 0 1,0 -2.7,0M538.9,98.9a1.35,1.35 0 1,0 2.7,0a1.35,1.35 0 1,0 -2.7,0M539.9,99.7a1.35,1.35 0 1,0 2.7,0a1.35,1.35 0 1,0 -2.7,0M540.9,100.5a1.35,1.35 0 1,0 2.7,0a1.35,1.35 0 1,0 -2.7,0M542.0,100.7a1.35,1.35 0 1,0 2.7,0a1.35,1.35 0 1,0 -2.7,0M543.1,100.2a1.35,1.35 0 1,0 2.7,0a1.35,1.35 0 1,0 -2.7,0M544.2,99.4a1.35,1.35 0 1,0 2.7,0a1.35,1.35 0 1,0 -2.7,0M545.3,98.4a1.35,1.35 0 1,0 2.7,0a1.35,1.35 0 1,0 -2.7,0M546.4,97.0a1.35,1.35 0 1,0 2.7,0a1.35,1.35 0 1,0 -2.7,0M547.4,95.2a1.35,1.35 0 1,0 2.7,0a1.35,1.35 0 1,0 -2.7,0M548.4,92.9a1.35,1.35 0 1,0 2.7,0a1.35,1.35 0 1,0 -2.7,0M549.4,90.2a1.35,1.35 0 1,0 2.7,0a1.35,1.35 0 1,0 -2.7,0M550.4,87.5a1.35,1.35 0 1,0 2.7,0a1.35,1.35 0 1,0 -2.7,0M551.4,85.2a1.35,1.35 0 1,0 2.7,0a1.35,1.35 0 1,0 -2.7,0M552.5,83.2a1.35,1.35 0 1,0 2.7,0a1.35,1.35 0 1,0 -2.7,0M553.5,81.2a1.35,1.35 0 1,0 2.7,0a1.35,1.35 0 1,0 -2.7,0M554.6,79.6a1.35,1.35 0 1,0 2.7,0a1.35,1.35 0 1,0 -2.7,0M555.7,78.6a1.35,1.35 0 1,0 2.7,0a1.35,1.35 0 1,0 -2.7,0M556.8,77.8a1.35,1.35 0 1,0 2.7,0a1.35,1.35 0 1,0 -2.7,0M557.8,77.3a1.35,1.35 0 1,0 2.7,0a1.35,1.35 0 1,0 -2.7,0M559.0,76.9a1.35,1.35 0 1,0 2.7,0a1.35,1.35 0 1,0 -2.7,0M560.1,76.5a1.35,1.35 0 1,0 2.7,0a1.35,1.35 0 1,0 -2.7,0M561.2,76.2a1.35,1.35 0 1,0 2.7,0a1.35,1.35 0 1,0 -2.7,0M562.2,75.9a1.35,1.35 0 1,0 2.7,0a1.35,1.35 0 1,0 -2.7,0M563.2,75.6a1.35,1.35 0 1,0 2.7,0a1.35,1.35 0 1,0 -2.7,0M564.2,75.3a1.35,1.35 0 1,0 2.7,0a1.35,1.35 0 1,0 -2.7,0M565.4,75.0a1.35,1.35 0 1,0 2.7,0a1.35,1.35 0 1,0 -2.7,0M566.5,74.6a1.35,1.35 0 1,0 2.7,0a1.35,1.35 0 1,0 -2.7,0M567.7,74.2a1.35,1.35 0 1,0 2.7,0a1.35,1.35 0 1,0 -2.7,0M568.9,73.9a1.35,1.35 0 1,0 2.7,0a1.35,1.35 0 1,0 -2.7,0M570.0,73.6a1.35,1.35 0 1,0 2.7,0a1.35,1.35 0 1,0 -2.7,0M571.2,73.3a1.35,1.35 0 1,0 2.7,0a1.35,1.35 0 1,0 -2.7,0M572.3,72.8a1.35,1.35 0 1,0 2.7,0a1.35,1.35 0 1,0 -2.7,0M573.3,72.2a1.35,1.35 0 1,0 2.7,0a1.35,1.35 0 1,0 -2.7,0M574.4,71.3a1.35,1.35 0 1,0 2.7,0a1.35,1.35 0 1,0 -2.7,0M575.5,70.0a1.35,1.35 0 1,0 2.7,0a1.35,1.35 0 1,0 -2.7,0M576.5,68.6a1.35,1.35 0 1,0 2.7,0a1.35,1.35 0 1,0 -2.7,0M577.6,66.8a1.35,1.35 0 1,0 2.7,0a1.35,1.35 0 1,0 -2.7,0M578.7,64.9a1.35,1.35 0 1,0 2.7,0a1.35,1.35 0 1,0 -2.7,0M579.7,63.0a1.35,1.35 0 1,0 2.7,0a1.35,1.35 0 1,0 -2.7,0M580.8,61.0a1.35,1.35 0 1,0 2.7,0a1.35,1.35 0 1,0 -2.7,0M581.8,59.1a1.35,1.35 0 1,0 2.7,0a1.35,1.35 0 1,0 -2.7,0M582.8,57.1a1.35,1.35 0 1,0 2.7,0a1.35,1.35 0 1,0 -2.7,0M583.9,54.8a1.35,1.35 0 1,0 2.7,0a1.35,1.35 0 1,0 -2.7,0M584.9,52.7a1.35,1.35 0 1,0 2.7,0a1.35,1.35 0 1,0 -2.7,0M586.0,50.6a1.35,1.35 0 1,0 2.7,0a1.35,1.35 0 1,0 -2.7,0M587.0,48.5a1.35,1.35 0 1,0 2.7,0a1.35,1.35 0 1,0 -2.7,0M588.1,46.5a1.35,1.35 0 1,0 2.7,0a1.35,1.35 0 1,0 -2.7,0M589.1,44.5a1.35,1.35 0 1,0 2.7,0a1.35,1.35 0 1,0 -2.7,0M590.3,42.8a1.35,1.35 0 1,0 2.7,0a1.35,1.35 0 1,0 -2.7,0M591.3,41.5a1.35,1.35 0 1,0 2.7,0a1.35,1.35 0 1,0 -2.7,0M592.4,40.8a1.35,1.35 0 1,0 2.7,0a1.35,1.35 0 1,0 -2.7,0M593.5,40.3a1.35,1.35 0 1,0 2.7,0a1.35,1.35 0 1,0 -2.7,0M594.5,40.1a1.35,1.35 0 1,0 2.7,0a1.35,1.35 0 1,0 -2.7,0M595.6,39.9a1.35,1.35 0 1,0 2.7,0a1.35,1.35 0 1,0 -2.7,0M596.7,39.9a1.35,1.35 0 1,0 2.7,0a1.35,1.35 0 1,0 -2.7,0M597.8,40.0a1.35,1.35 0 1,0 2.7,0a1.35,1.35 0 1,0 -2.7,0M598.9,40.3a1.35,1.35 0 1,0 2.7,0a1.35,1.35 0 1,0 -2.7,0M600.0,41.2a1.35,1.35 0 1,0 2.7,0a1.35,1.35 0 1,0 -2.7,0M601.0,42.8a1.35,1.35 0 1,0 2.7,0a1.35,1.35 0 1,0 -2.7,0M602.0,45.0a1.35,1.35 0 1,0 2.7,0a1.35,1.35 0 1,0 -2.7,0M603.1,47.6a1.35,1.35 0 1,0 2.7,0a1.35,1.35 0 1,0 -2.7,0M604.1,50.3a1.35,1.35 0 1,0 2.7,0a1.35,1.35 0 1,0 -2.7,0M605.2,53.1a1.35,1.35 0 1,0 2.7,0a1.35,1.35 0 1,0 -2.7,0M606.3,56.0a1.35,1.35 0 1,0 2.7,0a1.35,1.35 0 1,0 -2.7,0M607.3,58.7a1.35,1.35 0 1,0 2.7,0a1.35,1.35 0 1,0 -2.7,0M608.4,61.1a1.35,1.35 0 1,0 2.7,0a1.35,1.35 0 1,0 -2.7,0M609.5,63.7a1.35,1.35 0 1,0 2.7,0a1.35,1.35 0 1,0 -2.7,0M610.5,65.8a1.35,1.35 0 1,0 2.7,0a1.35,1.35 0 1,0 -2.7,0M611.5,67.1a1.35,1.35 0 1,0 2.7,0a1.35,1.35 0 1,0 -2.7,0M612.6,67.3a1.35,1.35 0 1,0 2.7,0a1.35,1.35 0 1,0 -2.7,0M613.6,66.2a1.35,1.35 0 1,0 2.7,0a1.35,1.35 0 1,0 -2.7,0M614.6,64.3a1.35,1.35 0 1,0 2.7,0a1.35,1.35 0 1,0 -2.7,0M615.6,62.0a1.35,1.35 0 1,0 2.7,0a1.35,1.35 0 1,0 -2.7,0M616.7,59.6a1.35,1.35 0 1,0 2.7,0a1.35,1.35 0 1,0 -2.7,0M617.7,57.2a1.35,1.35 0 1,0 2.7,0a1.35,1.35 0 1,0 -2.7,0M618.7,54.3a1.35,1.35 0 1,0 2.7,0a1.35,1.35 0 1,0 -2.7,0M619.7,51.4a1.35,1.35 0 1,0 2.7,0a1.35,1.35 0 1,0 -2.7,0M620.8,48.5a1.35,1.35 0 1,0 2.7,0a1.35,1.35 0 1,0 -2.7,0M621.8,45.5a1.35,1.35 0 1,0 2.7,0a1.35,1.35 0 1,0 -2.7,0M622.9,42.6a1.35,1.35 0 1,0 2.7,0a1.35,1.35 0 1,0 -2.7,0M623.9,40.6a1.35,1.35 0 1,0 2.7,0a1.35,1.35 0 1,0 -2.7,0M625.0,39.9a1.35,1.35 0 1,0 2.7,0a1.35,1.35 0 1,0 -2.7,0M626.2,40.0a1.35,1.35 0 1,0 2.7,0a1.35,1.35 0 1,0 -2.7,0M627.3,40.1a1.35,1.35 0 1,0 2.7,0a1.35,1.35 0 1,0 -2.7,0M628.4,40.2a1.35,1.35 0 1,0 2.7,0a1.35,1.35 0 1,0 -2.7,0M629.4,40.5a1.35,1.35 0 1,0 2.7,0a1.35,1.35 0 1,0 -2.7,0M630.5,41.0a1.35,1.35 0 1,0 2.7,0a1.35,1.35 0 1,0 -2.7,0M631.5,41.7a1.35,1.35 0 1,0 2.7,0a1.35,1.35 0 1,0 -2.7,0M632.6,42.7a1.35,1.35 0 1,0 2.7,0a1.35,1.35 0 1,0 -2.7,0M633.7,43.9a1.35,1.35 0 1,0 2.7,0a1.35,1.35 0 1,0 -2.7,0M634.8,45.3a1.35,1.35 0 1,0 2.7,0a1.35,1.35 0 1,0 -2.7,0M635.8,46.8a1.35,1.35 0 1,0 2.7,0a1.35,1.35 0 1,0 -2.7,0M636.9,48.4a1.35,1.35 0 1,0 2.7,0a1.35,1.35 0 1,0 -2.7,0M637.9,50.3a1.35,1.35 0 1,0 2.7,0a1.35,1.35 0 1,0 -2.7,0M639.0,52.7a1.35,1.35 0 1,0 2.7,0a1.35,1.35 0 1,0 -2.7,0M640.0,55.0a1.35,1.35 0 1,0 2.7,0a1.35,1.35 0 1,0 -2.7,0M641.0,57.5a1.35,1.35 0 1,0 2.7,0a1.35,1.35 0 1,0 -2.7,0M642.0,59.8a1.35,1.35 0 1,0 2.7,0a1.35,1.35 0 1,0 -2.7,0M643.1,61.9a1.35,1.35 0 1,0 2.7,0a1.35,1.35 0 1,0 -2.7,0M644.2,63.6a1.35,1.35 0 1,0 2.7,0a1.35,1.35 0 1,0 -2.7,0M645.3,65.0a1.35,1.35 0 1,0 2.7,0a1.35,1.35 0 1,0 -2.7,0M646.4,66.4a1.35,1.35 0 1,0 2.7,0a1.35,1.35 0 1,0 -2.7,0M647.5,67.5a1.35,1.35 0 1,0 2.7,0a1.35,1.35 0 1,0 -2.7,0M648.6,68.6a1.35,1.35 0 1,0 2.7,0a1.35,1.35 0 1,0 -2.7,0M649.8,69.5a1.35,1.35 0 1,0 2.7,0a1.35,1.35 0 1,0 -2.7,0M650.9,70.3a1.35,1.35 0 1,0 2.7,0a1.35,1.35 0 1,0 -2.7,0M652.0,71.0a1.35,1.35 0 1,0 2.7,0a1.35,1.35 0 1,0 -2.7,0M653.1,71.6a1.35,1.35 0 1,0 2.7,0a1.35,1.35 0 1,0 -2.7,0M654.1,72.1a1.35,1.35 0 1,0 2.7,0a1.35,1.35 0 1,0 -2.7,0M655.1,72.5a1.35,1.35 0 1,0 2.7,0a1.35,1.35 0 1,0 -2.7,0M656.3,72.8a1.35,1.35 0 1,0 2.7,0a1.35,1.35 0 1,0 -2.7,0M657.4,72.9a1.35,1.35 0 1,0 2.7,0a1.35,1.35 0 1,0 -2.7,0M658.5,72.5a1.35,1.35 0 1,0 2.7,0a1.35,1.35 0 1,0 -2.7,0M659.5,71.7a1.35,1.35 0 1,0 2.7,0a1.35,1.35 0 1,0 -2.7,0M660.5,70.1a1.35,1.35 0 1,0 2.7,0a1.35,1.35 0 1,0 -2.7,0M661.5,67.4a1.35,1.35 0 1,0 2.7,0a1.35,1.35 0 1,0 -2.7,0M662.4,64.4a1.35,1.35 0 1,0 2.7,0a1.35,1.35 0 1,0 -2.7,0M663.1,61.4a1.35,1.35 0 1,0 2.7,0a1.35,1.35 0 1,0 -2.7,0M663.7,58.4a1.35,1.35 0 1,0 2.7,0a1.35,1.35 0 1,0 -2.7,0M664.3,55.2a1.35,1.35 0 1,0 2.7,0a1.35,1.35 0 1,0 -2.7,0M664.8,52.2a1.35,1.35 0 1,0 2.7,0a1.35,1.35 0 1,0 -2.7,0M665.3,49.2a1.35,1.35 0 1,0 2.7,0a1.35,1.35 0 1,0 -2.7,0M665.8,46.2a1.35,1.35 0 1,0 2.7,0a1.35,1.35 0 1,0 -2.7,0M666.4,43.2a1.35,1.35 0 1,0 2.7,0a1.35,1.35 0 1,0 -2.7,0M667.0,40.1a1.35,1.35 0 1,0 2.7,0a1.35,1.35 0 1,0 -2.7,0M667.6,37.0a1.35,1.35 0 1,0 2.7,0a1.35,1.35 0 1,0 -2.7,0M668.2,34.0a1.35,1.35 0 1,0 2.7,0a1.35,1.35 0 1,0 -2.7,0M668.7,30.9a1.35,1.35 0 1,0 2.7,0a1.35,1.35 0 1,0 -2.7,0M669.3,27.8a1.35,1.35 0 1,0 2.7,0a1.35,1.35 0 1,0 -2.7,0M669.7,24.6a1.35,1.35 0 1,0 2.7,0a1.35,1.35 0 1,0 -2.7,0M670.1,21.4a1.35,1.35 0 1,0 2.7,0a1.35,1.35 0 1,0 -2.7,0M670.5,18.4a1.35,1.35 0 1,0 2.7,0a1.35,1.35 0 1,0 -2.7,0M458.5,16.5a1.35,1.35 0 1,0 2.7,0a1.35,1.35 0 1,0 -2.7,0M459.6,19.1a1.35,1.35 0 1,0 2.7,0a1.35,1.35 0 1,0 -2.7,0M460.6,21.7a1.35,1.35 0 1,0 2.7,0a1.35,1.35 0 1,0 -2.7,0M461.7,24.3a1.35,1.35 0 1,0 2.7,0a1.35,1.35 0 1,0 -2.7,0M462.7,26.7a1.35,1.35 0 1,0 2.7,0a1.35,1.35 0 1,0 -2.7,0M463.8,28.9a1.35,1.35 0 1,0 2.7,0a1.35,1.35 0 1,0 -2.7,0M464.8,30.9a1.35,1.35 0 1,0 2.7,0a1.35,1.35 0 1,0 -2.7,0M465.9,32.9a1.35,1.35 0 1,0 2.7,0a1.35,1.35 0 1,0 -2.7,0M467.0,34.9a1.35,1.35 0 1,0 2.7,0a1.35,1.35 0 1,0 -2.7,0M468.0,36.6a1.35,1.35 0 1,0 2.7,0a1.35,1.35 0 1,0 -2.7,0M469.0,38.3a1.35,1.35 0 1,0 2.7,0a1.35,1.35 0 1,0 -2.7,0M470.1,39.9a1.35,1.35 0 1,0 2.7,0a1.35,1.35 0 1,0 -2.7,0M471.3,41.5a1.35,1.35 0 1,0 2.7,0a1.35,1.35 0 1,0 -2.7,0M472.3,42.9a1.35,1.35 0 1,0 2.7,0a1.35,1.35 0 1,0 -2.7,0M473.3,44.2a1.35,1.35 0 1,0 2.7,0a1.35,1.35 0 1,0 -2.7,0M474.5,45.3a1.35,1.35 0 1,0 2.7,0a1.35,1.35 0 1,0 -2.7,0M475.5,46.1a1.35,1.35 0 1,0 2.7,0a1.35,1.35 0 1,0 -2.7,0M476.7,46.6a1.35,1.35 0 1,0 2.7,0a1.35,1.35 0 1,0 -2.7,0M477.9,47.1a1.35,1.35 0 1,0 2.7,0a1.35,1.35 0 1,0 -2.7,0M478.9,47.5a1.35,1.35 0 1,0 2.7,0a1.35,1.35 0 1,0 -2.7,0M480.0,47.7a1.35,1.35 0 1,0 2.7,0a1.35,1.35 0 1,0 -2.7,0M481.0,47.6a1.35,1.35 0 1,0 2.7,0a1.35,1.35 0 1,0 -2.7,0M482.1,46.9a1.35,1.35 0 1,0 2.7,0a1.35,1.35 0 1,0 -2.7,0M483.2,45.9a1.35,1.35 0 1,0 2.7,0a1.35,1.35 0 1,0 -2.7,0M484.3,44.8a1.35,1.35 0 1,0 2.7,0a1.35,1.35 0 1,0 -2.7,0M485.3,43.4a1.35,1.35 0 1,0 2.7,0a1.35,1.35 0 1,0 -2.7,0M486.4,41.2a1.35,1.35 0 1,0 2.7,0a1.35,1.35 0 1,0 -2.7,0M487.4,38.8a1.35,1.35 0 1,0 2.7,0a1.35,1.35 0 1,0 -2.7,0M488.5,38.3a1.35,1.35 0 1,0 2.7,0a1.35,1.35 0 1,0 -2.7,0M489.6,38.5a1.35,1.35 0 1,0 2.7,0a1.35,1.35 0 1,0 -2.7,0M490.7,39.3a1.35,1.35 0 1,0 2.7,0a1.35,1.35 0 1,0 -2.7,0M491.7,40.5a1.35,1.35 0 1,0 2.7,0a1.35,1.35 0 1,0 -2.7,0M492.8,42.5a1.35,1.35 0 1,0 2.7,0a1.35,1.35 0 1,0 -2.7,0M493.9,44.9a1.35,1.35 0 1,0 2.7,0a1.35,1.35 0 1,0 -2.7,0M494.9,47.2a1.35,1.35 0 1,0 2.7,0a1.35,1.35 0 1,0 -2.7,0M495.9,49.5a1.35,1.35 0 1,0 2.7,0a1.35,1.35 0 1,0 -2.7,0M496.9,51.9a1.35,1.35 0 1,0 2.7,0a1.35,1.35 0 1,0 -2.7,0M498.0,54.5a1.35,1.35 0 1,0 2.7,0a1.35,1.35 0 1,0 -2.7,0M499.0,57.2a1.35,1.35 0 1,0 2.7,0a1.35,1.35 0 1,0 -2.7,0M500.1,60.0a1.35,1.35 0 1,0 2.7,0a1.35,1.35 0 1,0 -2.7,0M501.1,62.7a1.35,1.35 0 1,0 2.7,0a1.35,1.35 0 1,0 -2.7,0M502.2,65.6a1.35,1.35 0 1,0 2.7,0a1.35,1.35 0 1,0 -2.7,0M448.8,15.0a1.35,1.35 0 1,0 2.7,0a1.35,1.35 0 1,0 -2.7,0M449.9,17.6a1.35,1.35 0 1,0 2.7,0a1.35,1.35 0 1,0 -2.7,0M450.9,20.2a1.35,1.35 0 1,0 2.7,0a1.35,1.35 0 1,0 -2.7,0M452.0,22.8a1.35,1.35 0 1,0 2.7,0a1.35,1.35 0 1,0 -2.7,0M453.0,25.4a1.35,1.35 0 1,0 2.7,0a1.35,1.35 0 1,0 -2.7,0M454.1,27.8a1.35,1.35 0 1,0 2.7,0a1.35,1.35 0 1,0 -2.7,0M455.1,30.0a1.35,1.35 0 1,0 2.7,0a1.35,1.35 0 1,0 -2.7,0M456.2,32.1a1.35,1.35 0 1,0 2.7,0a1.35,1.35 0 1,0 -2.7,0M457.3,34.1a1.35,1.35 0 1,0 2.7,0a1.35,1.35 0 1,0 -2.7,0M458.4,36.0a1.35,1.35 0 1,0 2.7,0a1.35,1.35 0 1,0 -2.7,0M459.5,37.8a1.35,1.35 0 1,0 2.7,0a1.35,1.35 0 1,0 -2.7,0M460.5,39.5a1.35,1.35 0 1,0 2.7,0a1.35,1.35 0 1,0 -2.7,0M461.6,41.1a1.35,1.35 0 1,0 2.7,0a1.35,1.35 0 1,0 -2.7,0M462.6,42.7a1.35,1.35 0 1,0 2.7,0a1.35,1.35 0 1,0 -2.7,0M463.7,44.1a1.35,1.35 0 1,0 2.7,0a1.35,1.35 0 1,0 -2.7,0M464.7,45.6a1.35,1.35 0 1,0 2.7,0a1.35,1.35 0 1,0 -2.7,0M465.8,46.9a1.35,1.35 0 1,0 2.7,0a1.35,1.35 0 1,0 -2.7,0M466.9,48.4a1.35,1.35 0 1,0 2.7,0a1.35,1.35 0 1,0 -2.7,0M467.9,49.7a1.35,1.35 0 1,0 2.7,0a1.35,1.35 0 1,0 -2.7,0M469.0,51.1a1.35,1.35 0 1,0 2.7,0a1.35,1.35 0 1,0 -2.7,0M470.0,52.4a1.35,1.35 0 1,0 2.7,0a1.35,1.35 0 1,0 -2.7,0M471.1,53.5a1.35,1.35 0 1,0 2.7,0a1.35,1.35 0 1,0 -2.7,0M472.1,54.7a1.35,1.35 0 1,0 2.7,0a1.35,1.35 0 1,0 -2.7,0M473.2,55.7a1.35,1.35 0 1,0 2.7,0a1.35,1.35 0 1,0 -2.7,0M474.3,56.5a1.35,1.35 0 1,0 2.7,0a1.35,1.35 0 1,0 -2.7,0M475.4,57.3a1.35,1.35 0 1,0 2.7,0a1.35,1.35 0 1,0 -2.7,0M476.4,58.0a1.35,1.35 0 1,0 2.7,0a1.35,1.35 0 1,0 -2.7,0M477.6,58.6a1.35,1.35 0 1,0 2.7,0a1.35,1.35 0 1,0 -2.7,0M478.7,58.9a1.35,1.35 0 1,0 2.7,0a1.35,1.35 0 1,0 -2.7,0M479.8,58.8a1.35,1.35 0 1,0 2.7,0a1.35,1.35 0 1,0 -2.7,0M480.8,58.6a1.35,1.35 0 1,0 2.7,0a1.35,1.35 0 1,0 -2.7,0M481.9,58.2a1.35,1.35 0 1,0 2.7,0a1.35,1.35 0 1,0 -2.7,0M483.1,57.6a1.35,1.35 0 1,0 2.7,0a1.35,1.35 0 1,0 -2.7,0M484.1,56.9a1.35,1.35 0 1,0 2.7,0a1.35,1.35 0 1,0 -2.7,0M485.2,55.9a1.35,1.35 0 1,0 2.7,0a1.35,1.35 0 1,0 -2.7,0M486.2,54.9a1.35,1.35 0 1,0 2.7,0a1.35,1.35 0 1,0 -2.7,0M487.3,53.8a1.35,1.35 0 1,0 2.7,0a1.35,1.35 0 1,0 -2.7,0M488.3,52.7a1.35,1.35 0 1,0 2.7,0a1.35,1.35 0 1,0 -2.7,0M489.3,51.5a1.35,1.35 0 1,0 2.7,0a1.35,1.35 0 1,0 -2.7,0M490.3,50.4a1.35,1.35 0 1,0 2.7,0a1.35,1.35 0 1,0 -2.7,0M491.4,49.1a1.35,1.35 0 1,0 2.7,0a1.35,1.35 0 1,0 -2.7,0M492.4,47.8a1.35,1.35 0 1,0 2.7,0a1.35,1.35 0 1,0 -2.7,0M493.5,46.2a1.35,1.35 0 1,0 2.7,0a1.35,1.35 0 1,0 -2.7,0M494.5,44.5a1.35,1.35 0 1,0 2.7,0a1.35,1.35 0 1,0 -2.7,0M495.6,42.7a1.35,1.35 0 1,0 2.7,0a1.35,1.35 0 1,0 -2.7,0M496.6,40.9a1.35,1.35 0 1,0 2.7,0a1.35,1.35 0 1,0 -2.7,0M497.6,38.9a1.35,1.35 0 1,0 2.7,0a1.35,1.35 0 1,0 -2.7,0M498.7,36.7a1.35,1.35 0 1,0 2.7,0a1.35,1.35 0 1,0 -2.7,0M499.7,34.3a1.35,1.35 0 1,0 2.7,0a1.35,1.35 0 1,0 -2.7,0M500.7,31.8a1.35,1.35 0 1,0 2.7,0a1.35,1.35 0 1,0 -2.7,0M501.7,29.4a1.35,1.35 0 1,0 2.7,0a1.35,1.35 0 1,0 -2.7,0M502.7,27.1a1.35,1.35 0 1,0 2.7,0a1.35,1.35 0 1,0 -2.7,0M503.8,24.3a1.35,1.35 0 1,0 2.7,0a1.35,1.35 0 1,0 -2.7,0M504.6,21.4a1.35,1.35 0 1,0 2.7,0a1.35,1.35 0 1,0 -2.7,0M505.3,18.4a1.35,1.35 0 1,0 2.7,0a1.35,1.35 0 1,0 -2.7,0M505.9,15.5a1.35,1.35 0 1,0 2.7,0a1.35,1.35 0 1,0 -2.7,0M497.6,15.5a1.35,1.35 0 1,0 2.7,0a1.35,1.35 0 1,0 -2.7,0M498.7,18.0a1.35,1.35 0 1,0 2.7,0a1.35,1.35 0 1,0 -2.7,0M499.7,20.6a1.35,1.35 0 1,0 2.7,0a1.35,1.35 0 1,0 -2.7,0M500.8,23.1a1.35,1.35 0 1,0 2.7,0a1.35,1.35 0 1,0 -2.7,0M501.8,25.8a1.35,1.35 0 1,0 2.7,0a1.35,1.35 0 1,0 -2.7,0M502.9,26.5a1.35,1.35 0 1,0 2.7,0a1.35,1.35 0 1,0 -2.7,0M503.9,25.6a1.35,1.35 0 1,0 2.7,0a1.35,1.35 0 1,0 -2.7,0M504.9,24.1a1.35,1.35 0 1,0 2.7,0a1.35,1.35 0 1,0 -2.7,0M506.0,22.4a1.35,1.35 0 1,0 2.7,0a1.35,1.35 0 1,0 -2.7,0M507.0,21.0a1.35,1.35 0 1,0 2.7,0a1.35,1.35 0 1,0 -2.7,0M508.1,19.6a1.35,1.35 0 1,0 2.7,0a1.35,1.35 0 1,0 -2.7,0M509.2,18.1a1.35,1.35 0 1,0 2.7,0a1.35,1.35 0 1,0 -2.7,0M510.3,16.6a1.35,1.35 0 1,0 2.7,0a1.35,1.35 0 1,0 -2.7,0M468.0,14.0a1.35,1.35 0 1,0 2.7,0a1.35,1.35 0 1,0 -2.7,0M468.7,17.1a1.35,1.35 0 1,0 2.7,0a1.35,1.35 0 1,0 -2.7,0M469.3,20.1a1.35,1.35 0 1,0 2.7,0a1.35,1.35 0 1,0 -2.7,0M469.8,23.1a1.35,1.35 0 1,0 2.7,0a1.35,1.35 0 1,0 -2.7,0M470.4,26.1a1.35,1.35 0 1,0 2.7,0a1.35,1.35 0 1,0 -2.7,0M471.0,29.1a1.35,1.35 0 1,0 2.7,0a1.35,1.35 0 1,0 -2.7,0M471.6,32.2a1.35,1.35 0 1,0 2.7,0a1.35,1.35 0 1,0 -2.7,0M472.2,35.2a1.35,1.35 0 1,0 2.7,0a1.35,1.35 0 1,0 -2.7,0M472.8,38.1a1.35,1.35 0 1,0 2.7,0a1.35,1.35 0 1,0 -2.7,0M473.9,40.5a1.35,1.35 0 1,0 2.7,0a1.35,1.35 0 1,0 -2.7,0M525.6,15.5a1.35,1.35 0 1,0 2.7,0a1.35,1.35 0 1,0 -2.7,0M526.0,18.6a1.35,1.35 0 1,0 2.7,0a1.35,1.35 0 1,0 -2.7,0M526.4,21.7a1.35,1.35 0 1,0 2.7,0a1.35,1.35 0 1,0 -2.7,0M526.8,24.9a1.35,1.35 0 1,0 2.7,0a1.35,1.35 0 1,0 -2.7,0M527.2,27.9a1.35,1.35 0 1,0 2.7,0a1.35,1.35 0 1,0 -2.7,0M527.7,30.9a1.35,1.35 0 1,0 2.7,0a1.35,1.35 0 1,0 -2.7,0M528.3,33.9a1.35,1.35 0 1,0 2.7,0a1.35,1.35 0 1,0 -2.7,0M529.0,36.8a1.35,1.35 0 1,0 2.7,0a1.35,1.35 0 1,0 -2.7,0M529.8,39.7a1.35,1.35 0 1,0 2.7,0a1.35,1.35 0 1,0 -2.7,0M530.5,42.6a1.35,1.35 0 1,0 2.7,0a1.35,1.35 0 1,0 -2.7,0M531.3,45.5a1.35,1.35 0 1,0 2.7,0a1.35,1.35 0 1,0 -2.7,0M532.1,48.5a1.35,1.35 0 1,0 2.7,0a1.35,1.35 0 1,0 -2.7,0M533.0,51.4a1.35,1.35 0 1,0 2.7,0a1.35,1.35 0 1,0 -2.7,0M533.8,54.3a1.35,1.35 0 1,0 2.7,0a1.35,1.35 0 1,0 -2.7,0M534.8,57.4a1.35,1.35 0 1,0 2.7,0a1.35,1.35 0 1,0 -2.7,0M535.7,60.3a1.35,1.35 0 1,0 2.7,0a1.35,1.35 0 1,0 -2.7,0M536.7,63.1a1.35,1.35 0 1,0 2.7,0a1.35,1.35 0 1,0 -2.7,0M537.7,65.4a1.35,1.35 0 1,0 2.7,0a1.35,1.35 0 1,0 -2.7,0M538.7,67.1a1.35,1.35 0 1,0 2.7,0a1.35,1.35 0 1,0 -2.7,0M539.8,68.7a1.35,1.35 0 1,0 2.7,0a1.35,1.35 0 1,0 -2.7,0M541.0,69.9a1.35,1.35 0 1,0 2.7,0a1.35,1.35 0 1,0 -2.7,0M542.0,70.3a1.35,1.35 0 1,0 2.7,0a1.35,1.35 0 1,0 -2.7,0M543.0,70.1a1.35,1.35 0 1,0 2.7,0a1.35,1.35 0 1,0 -2.7,0M544.1,69.4a1.35,1.35 0 1,0 2.7,0a1.35,1.35 0 1,0 -2.7,0M545.1,68.3a1.35,1.35 0 1,0 2.7,0a1.35,1.35 0 1,0 -2.7,0M546.1,66.5a1.35,1.35 0 1,0 2.7,0a1.35,1.35 0 1,0 -2.7,0M547.2,63.9a1.35,1.35 0 1,0 2.7,0a1.35,1.35 0 1,0 -2.7,0M548.1,60.9a1.35,1.35 0 1,0 2.7,0a1.35,1.35 0 1,0 -2.7,0M549.0,57.9a1.35,1.35 0 1,0 2.7,0a1.35,1.35 0 1,0 -2.7,0M549.8,54.9a1.35,1.35 0 1,0 2.7,0a1.35,1.35 0 1,0 -2.7,0M550.6,51.9a1.35,1.35 0 1,0 2.7,0a1.35,1.35 0 1,0 -2.7,0M551.3,48.8a1.35,1.35 0 1,0 2.7,0a1.35,1.35 0 1,0 -2.7,0M552.0,45.8a1.35,1.35 0 1,0 2.7,0a1.35,1.35 0 1,0 -2.7,0M552.6,42.8a1.35,1.35 0 1,0 2.7,0a1.35,1.35 0 1,0 -2.7,0M553.2,39.8a1.35,1.35 0 1,0 2.7,0a1.35,1.35 0 1,0 -2.7,0M553.7,36.8a1.35,1.35 0 1,0 2.7,0a1.35,1.35 0 1,0 -2.7,0M554.2,33.7a1.35,1.35 0 1,0 2.7,0a1.35,1.35 0 1,0 -2.7,0M554.6,30.7a1.35,1.35 0 1,0 2.7,0a1.35,1.35 0 1,0 -2.7,0M555.0,27.6a1.35,1.35 0 1,0 2.7,0a1.35,1.35 0 1,0 -2.7,0M555.4,24.4a1.35,1.35 0 1,0 2.7,0a1.35,1.35 0 1,0 -2.7,0M555.7,21.3a1.35,1.35 0 1,0 2.7,0a1.35,1.35 0 1,0 -2.7,0M555.9,18.2a1.35,1.35 0 1,0 2.7,0a1.35,1.35 0 1,0 -2.7,0M589.4,15.5a1.35,1.35 0 1,0 2.7,0a1.35,1.35 0 1,0 -2.7,0M590.4,18.5a1.35,1.35 0 1,0 2.7,0a1.35,1.35 0 1,0 -2.7,0M591.4,21.5a1.35,1.35 0 1,0 2.7,0a1.35,1.35 0 1,0 -2.7,0M592.5,24.4a1.35,1.35 0 1,0 2.7,0a1.35,1.35 0 1,0 -2.7,0M593.5,26.9a1.35,1.35 0 1,0 2.7,0a1.35,1.35 0 1,0 -2.7,0M594.5,29.1a1.35,1.35 0 1,0 2.7,0a1.35,1.35 0 1,0 -2.7,0M595.6,30.9a1.35,1.35 0 1,0 2.7,0a1.35,1.35 0 1,0 -2.7,0M596.7,32.5a1.35,1.35 0 1,0 2.7,0a1.35,1.35 0 1,0 -2.7,0M597.8,33.9a1.35,1.35 0 1,0 2.7,0a1.35,1.35 0 1,0 -2.7,0M598.9,35.4a1.35,1.35 0 1,0 2.7,0a1.35,1.35 0 1,0 -2.7,0M600.1,35.3a1.35,1.35 0 1,0 2.7,0a1.35,1.35 0 1,0 -2.7,0M601.2,34.4a1.35,1.35 0 1,0 2.7,0a1.35,1.35 0 1,0 -2.7,0M602.3,33.2a1.35,1.35 0 1,0 2.7,0a1.35,1.35 0 1,0 -2.7,0M603.4,32.0a1.35,1.35 0 1,0 2.7,0a1.35,1.35 0 1,0 -2.7,0M604.5,30.8a1.35,1.35 0 1,0 2.7,0a1.35,1.35 0 1,0 -2.7,0M605.6,29.7a1.35,1.35 0 1,0 2.7,0a1.35,1.35 0 1,0 -2.7,0M606.6,28.9a1.35,1.35 0 1,0 2.7,0a1.35,1.35 0 1,0 -2.7,0M607.8,28.0a1.35,1.35 0 1,0 2.7,0a1.35,1.35 0 1,0 -2.7,0M608.9,27.3a1.35,1.35 0 1,0 2.7,0a1.35,1.35 0 1,0 -2.7,0M610.0,26.7a1.35,1.35 0 1,0 2.7,0a1.35,1.35 0 1,0 -2.7,0M611.1,26.3a1.35,1.35 0 1,0 2.7,0a1.35,1.35 0 1,0 -2.7,0M612.1,26.2a1.35,1.35 0 1,0 2.7,0a1.35,1.35 0 1,0 -2.7,0M613.3,26.3a1.35,1.35 0 1,0 2.7,0a1.35,1.35 0 1,0 -2.7,0M614.4,26.7a1.35,1.35 0 1,0 2.7,0a1.35,1.35 0 1,0 -2.7,0M615.5,27.3a1.35,1.35 0 1,0 2.7,0a1.35,1.35 0 1,0 -2.7,0M616.6,28.0a1.35,1.35 0 1,0 2.7,0a1.35,1.35 0 1,0 -2.7,0M617.7,28.9a1.35,1.35 0 1,0 2.7,0a1.35,1.35 0 1,0 -2.7,0M618.7,29.8a1.35,1.35 0 1,0 2.7,0a1.35,1.35 0 1,0 -2.7,0M619.7,30.9a1.35,1.35 0 1,0 2.7,0a1.35,1.35 0 1,0 -2.7,0M620.8,32.2a1.35,1.35 0 1,0 2.7,0a1.35,1.35 0 1,0 -2.7,0M621.8,33.4a1.35,1.35 0 1,0 2.7,0a1.35,1.35 0 1,0 -2.7,0M622.8,34.6a1.35,1.35 0 1,0 2.7,0a1.35,1.35 0 1,0 -2.7,0M623.9,35.6a1.35,1.35 0 1,0 2.7,0a1.35,1.35 0 1,0 -2.7,0M625.1,34.7a1.35,1.35 0 1,0 2.7,0a1.35,1.35 0 1,0 -2.7,0M626.2,33.0a1.35,1.35 0 1,0 2.7,0a1.35,1.35 0 1,0 -2.7,0M627.3,30.9a1.35,1.35 0 1,0 2.7,0a1.35,1.35 0 1,0 -2.7,0M628.3,28.6a1.35,1.35 0 1,0 2.7,0a1.35,1.35 0 1,0 -2.7,0M629.4,26.1a1.35,1.35 0 1,0 2.7,0a1.35,1.35 0 1,0 -2.7,0M630.5,23.6a1.35,1.35 0 1,0 2.7,0a1.35,1.35 0 1,0 -2.7,0M631.5,21.1a1.35,1.35 0 1,0 2.7,0a1.35,1.35 0 1,0 -2.7,0M632.5,18.6a1.35,1.35 0 1,0 2.7,0a1.35,1.35 0 1,0 -2.7,0M633.6,16.2a1.35,1.35 0 1,0 2.7,0a1.35,1.35 0 1,0 -2.7,0M605.9,15.0a1.35,1.35 0 1,0 2.7,0a1.35,1.35 0 1,0 -2.7,0M606.9,17.3a1.35,1.35 0 1,0 2.7,0a1.35,1.35 0 1,0 -2.7,0M608.0,19.4a1.35,1.35 0 1,0 2.7,0a1.35,1.35 0 1,0 -2.7,0M609.1,21.3a1.35,1.35 0 1,0 2.7,0a1.35,1.35 0 1,0 -2.7,0M610.2,23.2a1.35,1.35 0 1,0 2.7,0a1.35,1.35 0 1,0 -2.7,0M611.3,24.6a1.35,1.35 0 1,0 2.7,0a1.35,1.35 0 1,0 -2.7,0M612.3,25.1a1.35,1.35 0 1,0 2.7,0a1.35,1.35 0 1,0 -2.7,0M613.3,24.3a1.35,1.35 0 1,0 2.7,0a1.35,1.35 0 1,0 -2.7,0M614.3,22.8a1.35,1.35 0 1,0 2.7,0a1.35,1.35 0 1,0 -2.7,0M615.4,20.9a1.35,1.35 0 1,0 2.7,0a1.35,1.35 0 1,0 -2.7,0M616.5,19.0a1.35,1.35 0 1,0 2.7,0a1.35,1.35 0 1,0 -2.7,0M617.6,16.8a1.35,1.35 0 1,0 2.7,0a1.35,1.35 0 1,0 -2.7,0M372.2,47.7a1.35,1.35 0 1,0 2.7,0a1.35,1.35 0 1,0 -2.7,0M373.4,47.2a1.35,1.35 0 1,0 2.7,0a1.35,1.35 0 1,0 -2.7,0M374.6,46.6a1.35,1.35 0 1,0 2.7,0a1.35,1.35 0 1,0 -2.7,0M375.6,46.1a1.35,1.35 0 1,0 2.7,0a1.35,1.35 0 1,0 -2.7,0M376.8,45.2a1.35,1.35 0 1,0 2.7,0a1.35,1.35 0 1,0 -2.7,0M377.9,44.3a1.35,1.35 0 1,0 2.7,0a1.35,1.35 0 1,0 -2.7,0M378.9,43.2a1.35,1.35 0 1,0 2.7,0a1.35,1.35 0 1,0 -2.7,0M380.0,41.8a1.35,1.35 0 1,0 2.7,0a1.35,1.35 0 1,0 -2.7,0M381.0,39.9a1.35,1.35 0 1,0 2.7,0a1.35,1.35 0 1,0 -2.7,0M382.1,37.2a1.35,1.35 0 1,0 2.7,0a1.35,1.35 0 1,0 -2.7,0M383.0,34.2a1.35,1.35 0 1,0 2.7,0a1.35,1.35 0 1,0 -2.7,0M383.8,31.3a1.35,1.35 0 1,0 2.7,0a1.35,1.35 0 1,0 -2.7,0M384.5,28.2a1.35,1.35 0 1,0 2.7,0a1.35,1.35 0 1,0 -2.7,0M385.0,25.0a1.35,1.35 0 1,0 2.7,0a1.35,1.35 0 1,0 -2.7,0M385.4,21.8a1.35,1.35 0 1,0 2.7,0a1.35,1.35 0 1,0 -2.7,0M385.8,18.7a1.35,1.35 0 1,0 2.7,0a1.35,1.35 0 1,0 -2.7,0M372.2,59.3a1.35,1.35 0 1,0 2.7,0a1.35,1.35 0 1,0 -2.7,0M373.4,58.7a1.35,1.35 0 1,0 2.7,0a1.35,1.35 0 1,0 -2.7,0M374.5,57.4a1.35,1.35 0 1,0 2.7,0a1.35,1.35 0 1,0 -2.7,0M375.5,55.1a1.35,1.35 0 1,0 2.7,0a1.35,1.35 0 1,0 -2.7,0M376.5,52.4a1.35,1.35 0 1,0 2.7,0a1.35,1.35 0 1,0 -2.7,0M377.5,49.4a1.35,1.35 0 1,0 2.7,0a1.35,1.35 0 1,0 -2.7,0M378.4,46.4a1.35,1.35 0 1,0 2.7,0a1.35,1.35 0 1,0 -2.7,0M379.3,43.4a1.35,1.35 0 1,0 2.7,0a1.35,1.35 0 1,0 -2.7,0M379.9,40.2a1.35,1.35 0 1,0 2.7,0a1.35,1.35 0 1,0 -2.7,0M380.6,37.2a1.35,1.35 0 1,0 2.7,0a1.35,1.35 0 1,0 -2.7,0M381.4,34.1a1.35,1.35 0 1,0 2.7,0a1.35,1.35 0 1,0 -2.7,0M382.3,31.1a1.35,1.35 0 1,0 2.7,0a1.35,1.35 0 1,0 -2.7,0M383.0,28.1a1.35,1.35 0 1,0 2.7,0a1.35,1.35 0 1,0 -2.7,0M383.5,25.1a1.35,1.35 0 1,0 2.7,0a1.35,1.35 0 1,0 -2.7,0M383.9,22.1a1.35,1.35 0 1,0 2.7,0a1.35,1.35 0 1,0 -2.7,0M384.3,19.0a1.35,1.35 0 1,0 2.7,0a1.35,1.35 0 1,0 -2.7,0M384.6,16.0a1.35,1.35 0 1,0 2.7,0a1.35,1.35 0 1,0 -2.7,0M411.3,48.0a1.35,1.35 0 1,0 2.7,0a1.35,1.35 0 1,0 -2.7,0M412.0,45.1a1.35,1.35 0 1,0 2.7,0a1.35,1.35 0 1,0 -2.7,0M412.7,42.0a1.35,1.35 0 1,0 2.7,0a1.35,1.35 0 1,0 -2.7,0M413.4,39.1a1.35,1.35 0 1,0 2.7,0a1.35,1.35 0 1,0 -2.7,0M414.1,36.1a1.35,1.35 0 1,0 2.7,0a1.35,1.35 0 1,0 -2.7,0M414.8,33.1a1.35,1.35 0 1,0 2.7,0a1.35,1.35 0 1,0 -2.7,0M415.5,30.1a1.35,1.35 0 1,0 2.7,0a1.35,1.35 0 1,0 -2.7,0M416.1,27.0a1.35,1.35 0 1,0 2.7,0a1.35,1.35 0 1,0 -2.7,0M416.7,23.9a1.35,1.35 0 1,0 2.7,0a1.35,1.35 0 1,0 -2.7,0M417.2,20.9a1.35,1.35 0 1,0 2.7,0a1.35,1.35 0 1,0 -2.7,0M417.7,17.7a1.35,1.35 0 1,0 2.7,0a1.35,1.35 0 1,0 -2.7,0M418.2,14.7a1.35,1.35 0 1,0 2.7,0a1.35,1.35 0 1,0 -2.7,0M392.6,11.0a1.35,1.35 0 1,0 2.7,0a1.35,1.35 0 1,0 -2.7,0M393.7,12.2a1.35,1.35 0 1,0 2.7,0a1.35,1.35 0 1,0 -2.7,0M394.8,13.5a1.35,1.35 0 1,0 2.7,0a1.35,1.35 0 1,0 -2.7,0M395.9,14.7a1.35,1.35 0 1,0 2.7,0a1.35,1.35 0 1,0 -2.7,0M397.0,15.9a1.35,1.35 0 1,0 2.7,0a1.35,1.35 0 1,0 -2.7,0M398.0,17.1a1.35,1.35 0 1,0 2.7,0a1.35,1.35 0 1,0 -2.7,0M399.1,18.4a1.35,1.35 0 1,0 2.7,0a1.35,1.35 0 1,0 -2.7,0M400.1,19.5a1.35,1.35 0 1,0 2.7,0a1.35,1.35 0 1,0 -2.7,0M401.2,20.7a1.35,1.35 0 1,0 2.7,0a1.35,1.35 0 1,0 -2.7,0M402.2,21.9a1.35,1.35 0 1,0 2.7,0a1.35,1.35 0 1,0 -2.7,0M403.3,23.1a1.35,1.35 0 1,0 2.7,0a1.35,1.35 0 1,0 -2.7,0M404.4,24.2a1.35,1.35 0 1,0 2.7,0a1.35,1.35 0 1,0 -2.7,0M405.4,25.2a1.35,1.35 0 1,0 2.7,0a1.35,1.35 0 1,0 -2.7,0M406.6,26.2a1.35,1.35 0 1,0 2.7,0a1.35,1.35 0 1,0 -2.7,0M407.6,27.1a1.35,1.35 0 1,0 2.7,0a1.35,1.35 0 1,0 -2.7,0M408.8,28.0a1.35,1.35 0 1,0 2.7,0a1.35,1.35 0 1,0 -2.7,0M409.9,28.7a1.35,1.35 0 1,0 2.7,0a1.35,1.35 0 1,0 -2.7,0M410.9,29.2a1.35,1.35 0 1,0 2.7,0a1.35,1.35 0 1,0 -2.7,0M412.0,29.2a1.35,1.35 0 1,0 2.7,0a1.35,1.35 0 1,0 -2.7,0M413.0,28.0a1.35,1.35 0 1,0 2.7,0a1.35,1.35 0 1,0 -2.7,0M413.8,25.1a1.35,1.35 0 1,0 2.7,0a1.35,1.35 0 1,0 -2.7,0M414.2,22.0a1.35,1.35 0 1,0 2.7,0a1.35,1.35 0 1,0 -2.7,0M414.6,19.0a1.35,1.35 0 1,0 2.7,0a1.35,1.35 0 1,0 -2.7,0M415.3,16.0a1.35,1.35 0 1,0 2.7,0a1.35,1.35 0 1,0 -2.7,0M415.8,12.9a1.35,1.35 0 1,0 2.7,0a1.35,1.35 0 1,0 -2.7,0M398.6,15.0a1.35,1.35 0 1,0 2.7,0a1.35,1.35 0 1,0 -2.7,0M399.7,15.5a1.35,1.35 0 1,0 2.7,0a1.35,1.35 0 1,0 -2.7,0M400.7,16.1a1.35,1.35 0 1,0 2.7,0a1.35,1.35 0 1,0 -2.7,0M401.9,16.7a1.35,1.35 0 1,0 2.7,0a1.35,1.35 0 1,0 -2.7,0M402.9,17.2a1.35,1.35 0 1,0 2.7,0a1.35,1.35 0 1,0 -2.7,0M404.0,17.8a1.35,1.35 0 1,0 2.7,0a1.35,1.35 0 1,0 -2.7,0M405.0,18.2a1.35,1.35 0 1,0 2.7,0a1.35,1.35 0 1,0 -2.7,0M406.1,18.8a1.35,1.35 0 1,0 2.7,0a1.35,1.35 0 1,0 -2.7,0M407.2,19.2a1.35,1.35 0 1,0 2.7,0a1.35,1.35 0 1,0 -2.7,0M408.3,19.6a1.35,1.35 0 1,0 2.7,0a1.35,1.35 0 1,0 -2.7,0M409.4,20.0a1.35,1.35 0 1,0 2.7,0a1.35,1.35 0 1,0 -2.7,0M410.4,20.3a1.35,1.35 0 1,0 2.7,0a1.35,1.35 0 1,0 -2.7,0M411.5,20.7a1.35,1.35 0 1,0 2.7,0a1.35,1.35 0 1,0 -2.7,0M372.2,142.1a1.35,1.35 0 1,0 2.7,0a1.35,1.35 0 1,0 -2.7,0M373.4,142.9a1.35,1.35 0 1,0 2.7,0a1.35,1.35 0 1,0 -2.7,0M374.4,143.7a1.35,1.35 0 1,0 2.7,0a1.35,1.35 0 1,0 -2.7,0M375.5,144.4a1.35,1.35 0 1,0 2.7,0a1.35,1.35 0 1,0 -2.7,0M376.6,145.4a1.35,1.35 0 1,0 2.7,0a1.35,1.35 0 1,0 -2.7,0M377.7,146.4a1.35,1.35 0 1,0 2.7,0a1.35,1.35 0 1,0 -2.7,0M378.8,147.6a1.35,1.35 0 1,0 2.7,0a1.35,1.35 0 1,0 -2.7,0M379.8,148.9a1.35,1.35 0 1,0 2.7,0a1.35,1.35 0 1,0 -2.7,0M380.9,150.3a1.35,1.35 0 1,0 2.7,0a1.35,1.35 0 1,0 -2.7,0M381.9,151.8a1.35,1.35 0 1,0 2.7,0a1.35,1.35 0 1,0 -2.7,0M383.1,153.4a1.35,1.35 0 1,0 2.7,0a1.35,1.35 0 1,0 -2.7,0M384.2,155.0a1.35,1.35 0 1,0 2.7,0a1.35,1.35 0 1,0 -2.7,0M385.3,156.5a1.35,1.35 0 1,0 2.7,0a1.35,1.35 0 1,0 -2.7,0M386.3,158.0a1.35,1.35 0 1,0 2.7,0a1.35,1.35 0 1,0 -2.7,0M387.3,159.5a1.35,1.35 0 1,0 2.7,0a1.35,1.35 0 1,0 -2.7,0M388.3,161.1a1.35,1.35 0 1,0 2.7,0a1.35,1.35 0 1,0 -2.7,0M389.3,162.6a1.35,1.35 0 1,0 2.7,0a1.35,1.35 0 1,0 -2.7,0M390.3,164.2a1.35,1.35 0 1,0 2.7,0a1.35,1.35 0 1,0 -2.7,0M391.3,165.7a1.35,1.35 0 1,0 2.7,0a1.35,1.35 0 1,0 -2.7,0M392.3,167.2a1.35,1.35 0 1,0 2.7,0a1.35,1.35 0 1,0 -2.7,0M393.3,168.6a1.35,1.35 0 1,0 2.7,0a1.35,1.35 0 1,0 -2.7,0M394.5,170.2a1.35,1.35 0 1,0 2.7,0a1.35,1.35 0 1,0 -2.7,0M395.5,171.5a1.35,1.35 0 1,0 2.7,0a1.35,1.35 0 1,0 -2.7,0M396.5,172.8a1.35,1.35 0 1,0 2.7,0a1.35,1.35 0 1,0 -2.7,0M397.5,174.1a1.35,1.35 0 1,0 2.7,0a1.35,1.35 0 1,0 -2.7,0M398.5,175.3a1.35,1.35 0 1,0 2.7,0a1.35,1.35 0 1,0 -2.7,0M399.5,176.6a1.35,1.35 0 1,0 2.7,0a1.35,1.35 0 1,0 -2.7,0M400.5,177.7a1.35,1.35 0 1,0 2.7,0a1.35,1.35 0 1,0 -2.7,0M401.6,178.9a1.35,1.35 0 1,0 2.7,0a1.35,1.35 0 1,0 -2.7,0M402.7,180.1a1.35,1.35 0 1,0 2.7,0a1.35,1.35 0 1,0 -2.7,0M403.8,181.2a1.35,1.35 0 1,0 2.7,0a1.35,1.35 0 1,0 -2.7,0M404.9,182.3a1.35,1.35 0 1,0 2.7,0a1.35,1.35 0 1,0 -2.7,0M405.9,183.4a1.35,1.35 0 1,0 2.7,0a1.35,1.35 0 1,0 -2.7,0M406.9,184.3a1.35,1.35 0 1,0 2.7,0a1.35,1.35 0 1,0 -2.7,0M408.0,185.3a1.35,1.35 0 1,0 2.7,0a1.35,1.35 0 1,0 -2.7,0M409.1,186.3a1.35,1.35 0 1,0 2.7,0a1.35,1.35 0 1,0 -2.7,0M410.1,186.9a1.35,1.35 0 1,0 2.7,0a1.35,1.35 0 1,0 -2.7,0M411.2,187.2a1.35,1.35 0 1,0 2.7,0a1.35,1.35 0 1,0 -2.7,0M412.3,188.0a1.35,1.35 0 1,0 2.7,0a1.35,1.35 0 1,0 -2.7,0M413.3,189.3a1.35,1.35 0 1,0 2.7,0a1.35,1.35 0 1,0 -2.7,0M414.3,190.9a1.35,1.35 0 1,0 2.7,0a1.35,1.35 0 1,0 -2.7,0M415.4,193.0a1.35,1.35 0 1,0 2.7,0a1.35,1.35 0 1,0 -2.7,0M416.4,195.8a1.35,1.35 0 1,0 2.7,0a1.35,1.35 0 1,0 -2.7,0M417.2,198.7a1.35,1.35 0 1,0 2.7,0a1.35,1.35 0 1,0 -2.7,0M418.0,201.8a1.35,1.35 0 1,0 2.7,0a1.35,1.35 0 1,0 -2.7,0M418.7,204.8a1.35,1.35 0 1,0 2.7,0a1.35,1.35 0 1,0 -2.7,0M419.4,207.8a1.35,1.35 0 1,0 2.7,0a1.35,1.35 0 1,0 -2.7,0M420.0,210.8a1.35,1.35 0 1,0 2.7,0a1.35,1.35 0 1,0 -2.7,0M420.7,213.7a1.35,1.35 0 1,0 2.7,0a1.35,1.35 0 1,0 -2.7,0M421.5,216.8a1.35,1.35 0 1,0 2.7,0a1.35,1.35 0 1,0 -2.7,0M422.3,219.9a1.35,1.35 0 1,0 2.7,0a1.35,1.35 0 1,0 -2.7,0M423.0,222.9a1.35,1.35 0 1,0 2.7,0a1.35,1.35 0 1,0 -2.7,0M423.7,225.9a1.35,1.35 0 1,0 2.7,0a1.35,1.35 0 1,0 -2.7,0M424.3,228.9a1.35,1.35 0 1,0 2.7,0a1.35,1.35 0 1,0 -2.7,0M425.0,231.8a1.35,1.35 0 1,0 2.7,0a1.35,1.35 0 1,0 -2.7,0M425.6,234.7a1.35,1.35 0 1,0 2.7,0a1.35,1.35 0 1,0 -2.7,0M374.8,151.2a1.35,1.35 0 1,0 2.7,0a1.35,1.35 0 1,0 -2.7,0M375.8,151.9a1.35,1.35 0 1,0 2.7,0a1.35,1.35 0 1,0 -2.7,0M376.9,152.6a1.35,1.35 0 1,0 2.7,0a1.35,1.35 0 1,0 -2.7,0M377.9,153.3a1.35,1.35 0 1,0 2.7,0a1.35,1.35 0 1,0 -2.7,0M379.0,154.2a1.35,1.35 0 1,0 2.7,0a1.35,1.35 0 1,0 -2.7,0M380.1,155.2a1.35,1.35 0 1,0 2.7,0a1.35,1.35 0 1,0 -2.7,0M381.2,156.4a1.35,1.35 0 1,0 2.7,0a1.35,1.35 0 1,0 -2.7,0M382.2,157.9a1.35,1.35 0 1,0 2.7,0a1.35,1.35 0 1,0 -2.7,0M383.3,159.5a1.35,1.35 0 1,0 2.7,0a1.35,1.35 0 1,0 -2.7,0M384.3,161.3a1.35,1.35 0 1,0 2.7,0a1.35,1.35 0 1,0 -2.7,0M385.3,163.2a1.35,1.35 0 1,0 2.7,0a1.35,1.35 0 1,0 -2.7,0M386.3,165.2a1.35,1.35 0 1,0 2.7,0a1.35,1.35 0 1,0 -2.7,0M387.4,167.4a1.35,1.35 0 1,0 2.7,0a1.35,1.35 0 1,0 -2.7,0M388.4,169.7a1.35,1.35 0 1,0 2.7,0a1.35,1.35 0 1,0 -2.7,0M389.5,172.1a1.35,1.35 0 1,0 2.7,0a1.35,1.35 0 1,0 -2.7,0M390.5,174.6a1.35,1.35 0 1,0 2.7,0a1.35,1.35 0 1,0 -2.7,0M391.5,177.1a1.35,1.35 0 1,0 2.7,0a1.35,1.35 0 1,0 -2.7,0M392.6,179.8a1.35,1.35 0 1,0 2.7,0a1.35,1.35 0 1,0 -2.7,0M393.6,182.5a1.35,1.35 0 1,0 2.7,0a1.35,1.35 0 1,0 -2.7,0M394.7,185.3a1.35,1.35 0 1,0 2.7,0a1.35,1.35 0 1,0 -2.7,0M395.7,188.2a1.35,1.35 0 1,0 2.7,0a1.35,1.35 0 1,0 -2.7,0M396.8,191.1a1.35,1.35 0 1,0 2.7,0a1.35,1.35 0 1,0 -2.7,0M397.8,193.9a1.35,1.35 0 1,0 2.7,0a1.35,1.35 0 1,0 -2.7,0M398.9,196.7a1.35,1.35 0 1,0 2.7,0a1.35,1.35 0 1,0 -2.7,0M400.0,199.6a1.35,1.35 0 1,0 2.7,0a1.35,1.35 0 1,0 -2.7,0M401.0,202.5a1.35,1.35 0 1,0 2.7,0a1.35,1.35 0 1,0 -2.7,0M402.1,205.3a1.35,1.35 0 1,0 2.7,0a1.35,1.35 0 1,0 -2.7,0M403.1,208.0a1.35,1.35 0 1,0 2.7,0a1.35,1.35 0 1,0 -2.7,0M404.2,210.7a1.35,1.35 0 1,0 2.7,0a1.35,1.35 0 1,0 -2.7,0M405.3,213.2a1.35,1.35 0 1,0 2.7,0a1.35,1.35 0 1,0 -2.7,0M406.3,215.6a1.35,1.35 0 1,0 2.7,0a1.35,1.35 0 1,0 -2.7,0M407.4,218.0a1.35,1.35 0 1,0 2.7,0a1.35,1.35 0 1,0 -2.7,0M408.4,220.3a1.35,1.35 0 1,0 2.7,0a1.35,1.35 0 1,0 -2.7,0M409.4,222.9a1.35,1.35 0 1,0 2.7,0a1.35,1.35 0 1,0 -2.7,0M410.4,225.7a1.35,1.35 0 1,0 2.7,0a1.35,1.35 0 1,0 -2.7,0M411.4,228.5a1.35,1.35 0 1,0 2.7,0a1.35,1.35 0 1,0 -2.7,0M412.4,231.4a1.35,1.35 0 1,0 2.7,0a1.35,1.35 0 1,0 -2.7,0M413.4,234.3a1.35,1.35 0 1,0 2.7,0a1.35,1.35 0 1,0 -2.7,0M370.6,142.0a1.35,1.35 0 1,0 2.7,0a1.35,1.35 0 1,0 -2.7,0M371.5,144.9a1.35,1.35 0 1,0 2.7,0a1.35,1.35 0 1,0 -2.7,0M372.4,147.9a1.35,1.35 0 1,0 2.7,0a1.35,1.35 0 1,0 -2.7,0M373.1,150.8a1.35,1.35 0 1,0 2.7,0a1.35,1.35 0 1,0 -2.7,0M373.8,153.8a1.35,1.35 0 1,0 2.7,0a1.35,1.35 0 1,0 -2.7,0M374.4,156.8a1.35,1.35 0 1,0 2.7,0a1.35,1.35 0 1,0 -2.7,0M374.8,159.8a1.35,1.35 0 1,0 2.7,0a1.35,1.35 0 1,0 -2.7,0M375.3,162.9a1.35,1.35 0 1,0 2.7,0a1.35,1.35 0 1,0 -2.7,0M375.7,166.0a1.35,1.35 0 1,0 2.7,0a1.35,1.35 0 1,0 -2.7,0M376.2,169.1a1.35,1.35 0 1,0 2.7,0a1.35,1.35 0 1,0 -2.7,0M376.6,172.2a1.35,1.35 0 1,0 2.7,0a1.35,1.35 0 1,0 -2.7,0M377.1,175.2a1.35,1.35 0 1,0 2.7,0a1.35,1.35 0 1,0 -2.7,0M377.5,178.1a1.35,1.35 0 1,0 2.7,0a1.35,1.35 0 1,0 -2.7,0M377.9,181.1a1.35,1.35 0 1,0 2.7,0a1.35,1.35 0 1,0 -2.7,0M378.4,184.1a1.35,1.35 0 1,0 2.7,0a1.35,1.35 0 1,0 -2.7,0M378.8,187.1a1.35,1.35 0 1,0 2.7,0a1.35,1.35 0 1,0 -2.7,0M379.3,190.0a1.35,1.35 0 1,0 2.7,0a1.35,1.35 0 1,0 -2.7,0M379.7,193.2a1.35,1.35 0 1,0 2.7,0a1.35,1.35 0 1,0 -2.7,0M380.2,196.3a1.35,1.35 0 1,0 2.7,0a1.35,1.35 0 1,0 -2.7,0M380.7,199.3a1.35,1.35 0 1,0 2.7,0a1.35,1.35 0 1,0 -2.7,0M381.2,202.3a1.35,1.35 0 1,0 2.7,0a1.35,1.35 0 1,0 -2.7,0M381.6,205.5a1.35,1.35 0 1,0 2.7,0a1.35,1.35 0 1,0 -2.7,0M382.1,208.6a1.35,1.35 0 1,0 2.7,0a1.35,1.35 0 1,0 -2.7,0M382.6,211.7a1.35,1.35 0 1,0 2.7,0a1.35,1.35 0 1,0 -2.7,0M383.0,214.7a1.35,1.35 0 1,0 2.7,0a1.35,1.35 0 1,0 -2.7,0M383.4,217.8a1.35,1.35 0 1,0 2.7,0a1.35,1.35 0 1,0 -2.7,0M383.8,220.8a1.35,1.35 0 1,0 2.7,0a1.35,1.35 0 1,0 -2.7,0M384.2,223.8a1.35,1.35 0 1,0 2.7,0a1.35,1.35 0 1,0 -2.7,0M384.6,227.0a1.35,1.35 0 1,0 2.7,0a1.35,1.35 0 1,0 -2.7,0M385.0,230.1a1.35,1.35 0 1,0 2.7,0a1.35,1.35 0 1,0 -2.7,0M385.4,233.1a1.35,1.35 0 1,0 2.7,0a1.35,1.35 0 1,0 -2.7,0M372.2,192.1a1.35,1.35 0 1,0 2.7,0a1.35,1.35 0 1,0 -2.7,0M373.3,193.0a1.35,1.35 0 1,0 2.7,0a1.35,1.35 0 1,0 -2.7,0M374.4,194.0a1.35,1.35 0 1,0 2.7,0a1.35,1.35 0 1,0 -2.7,0M375.4,195.0a1.35,1.35 0 1,0 2.7,0a1.35,1.35 0 1,0 -2.7,0M376.5,196.1a1.35,1.35 0 1,0 2.7,0a1.35,1.35 0 1,0 -2.7,0M377.5,197.5a1.35,1.35 0 1,0 2.7,0a1.35,1.35 0 1,0 -2.7,0M378.6,199.0a1.35,1.35 0 1,0 2.7,0a1.35,1.35 0 1,0 -2.7,0M379.6,200.6a1.35,1.35 0 1,0 2.7,0a1.35,1.35 0 1,0 -2.7,0M380.6,202.4a1.35,1.35 0 1,0 2.7,0a1.35,1.35 0 1,0 -2.7,0M381.7,204.5a1.35,1.35 0 1,0 2.7,0a1.35,1.35 0 1,0 -2.7,0M382.8,206.8a1.35,1.35 0 1,0 2.7,0a1.35,1.35 0 1,0 -2.7,0M383.9,209.0a1.35,1.35 0 1,0 2.7,0a1.35,1.35 0 1,0 -2.7,0M384.9,211.2a1.35,1.35 0 1,0 2.7,0a1.35,1.35 0 1,0 -2.7,0M385.9,213.4a1.35,1.35 0 1,0 2.7,0a1.35,1.35 0 1,0 -2.7,0M386.9,215.3a1.35,1.35 0 1,0 2.7,0a1.35,1.35 0 1,0 -2.7,0M388.0,217.1a1.35,1.35 0 1,0 2.7,0a1.35,1.35 0 1,0 -2.7,0M389.1,218.8a1.35,1.35 0 1,0 2.7,0a1.35,1.35 0 1,0 -2.7,0M390.2,220.3a1.35,1.35 0 1,0 2.7,0a1.35,1.35 0 1,0 -2.7,0M391.2,221.7a1.35,1.35 0 1,0 2.7,0a1.35,1.35 0 1,0 -2.7,0M392.2,223.0a1.35,1.35 0 1,0 2.7,0a1.35,1.35 0 1,0 -2.7,0M393.2,224.2a1.35,1.35 0 1,0 2.7,0a1.35,1.35 0 1,0 -2.7,0M394.3,225.5a1.35,1.35 0 1,0 2.7,0a1.35,1.35 0 1,0 -2.7,0M395.3,226.5a1.35,1.35 0 1,0 2.7,0a1.35,1.35 0 1,0 -2.7,0M396.3,227.4a1.35,1.35 0 1,0 2.7,0a1.35,1.35 0 1,0 -2.7,0M397.5,228.5a1.35,1.35 0 1,0 2.7,0a1.35,1.35 0 1,0 -2.7,0M398.6,229.6a1.35,1.35 0 1,0 2.7,0a1.35,1.35 0 1,0 -2.7,0M399.7,230.8a1.35,1.35 0 1,0 2.7,0a1.35,1.35 0 1,0 -2.7,0M400.7,232.0a1.35,1.35 0 1,0 2.7,0a1.35,1.35 0 1,0 -2.7,0M401.7,233.3a1.35,1.35 0 1,0 2.7,0a1.35,1.35 0 1,0 -2.7,0M402.7,234.6a1.35,1.35 0 1,0 2.7,0a1.35,1.35 0 1,0 -2.7,0M403.8,235.9a1.35,1.35 0 1,0 2.7,0a1.35,1.35 0 1,0 -2.7,0M370.2,193.0a1.35,1.35 0 1,0 2.7,0a1.35,1.35 0 1,0 -2.7,0M371.3,195.6a1.35,1.35 0 1,0 2.7,0a1.35,1.35 0 1,0 -2.7,0M372.4,198.2a1.35,1.35 0 1,0 2.7,0a1.35,1.35 0 1,0 -2.7,0M373.4,201.3a1.35,1.35 0 1,0 2.7,0a1.35,1.35 0 1,0 -2.7,0M374.1,204.3a1.35,1.35 0 1,0 2.7,0a1.35,1.35 0 1,0 -2.7,0M374.8,207.4a1.35,1.35 0 1,0 2.7,0a1.35,1.35 0 1,0 -2.7,0M375.4,210.5a1.35,1.35 0 1,0 2.7,0a1.35,1.35 0 1,0 -2.7,0M376.0,213.5a1.35,1.35 0 1,0 2.7,0a1.35,1.35 0 1,0 -2.7,0M376.6,216.6a1.35,1.35 0 1,0 2.7,0a1.35,1.35 0 1,0 -2.7,0M377.2,219.5a1.35,1.35 0 1,0 2.7,0a1.35,1.35 0 1,0 -2.7,0M377.8,222.6a1.35,1.35 0 1,0 2.7,0a1.35,1.35 0 1,0 -2.7,0M378.3,225.6a1.35,1.35 0 1,0 2.7,0a1.35,1.35 0 1,0 -2.7,0M378.9,228.5a1.35,1.35 0 1,0 2.7,0a1.35,1.35 0 1,0 -2.7,0M379.5,231.7a1.35,1.35 0 1,0 2.7,0a1.35,1.35 0 1,0 -2.7,0M380.1,234.7a1.35,1.35 0 1,0 2.7,0a1.35,1.35 0 1,0 -2.7,0M444.4,235.0a1.35,1.35 0 1,0 2.7,0a1.35,1.35 0 1,0 -2.7,0M445.4,232.1a1.35,1.35 0 1,0 2.7,0a1.35,1.35 0 1,0 -2.7,0M446.3,229.2a1.35,1.35 0 1,0 2.7,0a1.35,1.35 0 1,0 -2.7,0M447.2,226.2a1.35,1.35 0 1,0 2.7,0a1.35,1.35 0 1,0 -2.7,0M448.2,223.2a1.35,1.35 0 1,0 2.7,0a1.35,1.35 0 1,0 -2.7,0M449.1,220.4a1.35,1.35 0 1,0 2.7,0a1.35,1.35 0 1,0 -2.7,0M450.0,217.5a1.35,1.35 0 1,0 2.7,0a1.35,1.35 0 1,0 -2.7,0M451.0,214.4a1.35,1.35 0 1,0 2.7,0a1.35,1.35 0 1,0 -2.7,0M451.9,211.5a1.35,1.35 0 1,0 2.7,0a1.35,1.35 0 1,0 -2.7,0M452.8,208.6a1.35,1.35 0 1,0 2.7,0a1.35,1.35 0 1,0 -2.7,0M453.8,205.7a1.35,1.35 0 1,0 2.7,0a1.35,1.35 0 1,0 -2.7,0M454.7,202.8a1.35,1.35 0 1,0 2.7,0a1.35,1.35 0 1,0 -2.7,0M455.7,199.9a1.35,1.35 0 1,0 2.7,0a1.35,1.35 0 1,0 -2.7,0M456.6,197.1a1.35,1.35 0 1,0 2.7,0a1.35,1.35 0 1,0 -2.7,0M457.7,194.1a1.35,1.35 0 1,0 2.7,0a1.35,1.35 0 1,0 -2.7,0M458.7,191.1a1.35,1.35 0 1,0 2.7,0a1.35,1.35 0 1,0 -2.7,0M459.7,188.1a1.35,1.35 0 1,0 2.7,0a1.35,1.35 0 1,0 -2.7,0M460.7,185.1a1.35,1.35 0 1,0 2.7,0a1.35,1.35 0 1,0 -2.7,0M461.7,182.1a1.35,1.35 0 1,0 2.7,0a1.35,1.35 0 1,0 -2.7,0M462.8,179.2a1.35,1.35 0 1,0 2.7,0a1.35,1.35 0 1,0 -2.7,0M463.8,176.2a1.35,1.35 0 1,0 2.7,0a1.35,1.35 0 1,0 -2.7,0M464.8,173.3a1.35,1.35 0 1,0 2.7,0a1.35,1.35 0 1,0 -2.7,0M465.8,170.5a1.35,1.35 0 1,0 2.7,0a1.35,1.35 0 1,0 -2.7,0M466.8,167.7a1.35,1.35 0 1,0 2.7,0a1.35,1.35 0 1,0 -2.7,0M467.9,165.1a1.35,1.35 0 1,0 2.7,0a1.35,1.35 0 1,0 -2.7,0M469.0,162.4a1.35,1.35 0 1,0 2.7,0a1.35,1.35 0 1,0 -2.7,0M470.0,159.9a1.35,1.35 0 1,0 2.7,0a1.35,1.35 0 1,0 -2.7,0M471.1,157.5a1.35,1.35 0 1,0 2.7,0a1.35,1.35 0 1,0 -2.7,0M472.1,155.1a1.35,1.35 0 1,0 2.7,0a1.35,1.35 0 1,0 -2.7,0M473.2,152.9a1.35,1.35 0 1,0 2.7,0a1.35,1.35 0 1,0 -2.7,0M474.2,150.8a1.35,1.35 0 1,0 2.7,0a1.35,1.35 0 1,0 -2.7,0M475.2,148.9a1.35,1.35 0 1,0 2.7,0a1.35,1.35 0 1,0 -2.7,0M476.3,147.1a1.35,1.35 0 1,0 2.7,0a1.35,1.35 0 1,0 -2.7,0M477.3,145.5a1.35,1.35 0 1,0 2.7,0a1.35,1.35 0 1,0 -2.7,0M478.3,144.0a1.35,1.35 0 1,0 2.7,0a1.35,1.35 0 1,0 -2.7,0M479.3,142.8a1.35,1.35 0 1,0 2.7,0a1.35,1.35 0 1,0 -2.7,0M480.5,141.7a1.35,1.35 0 1,0 2.7,0a1.35,1.35 0 1,0 -2.7,0M481.6,141.0a1.35,1.35 0 1,0 2.7,0a1.35,1.35 0 1,0 -2.7,0M482.6,140.6a1.35,1.35 0 1,0 2.7,0a1.35,1.35 0 1,0 -2.7,0M483.7,140.6a1.35,1.35 0 1,0 2.7,0a1.35,1.35 0 1,0 -2.7,0M484.9,141.0a1.35,1.35 0 1,0 2.7,0a1.35,1.35 0 1,0 -2.7,0M486.0,141.6a1.35,1.35 0 1,0 2.7,0a1.35,1.35 0 1,0 -2.7,0M487.1,142.5a1.35,1.35 0 1,0 2.7,0a1.35,1.35 0 1,0 -2.7,0M488.1,143.5a1.35,1.35 0 1,0 2.7,0a1.35,1.35 0 1,0 -2.7,0M489.2,144.6a1.35,1.35 0 1,0 2.7,0a1.35,1.35 0 1,0 -2.7,0M490.2,145.8a1.35,1.35 0 1,0 2.7,0a1.35,1.35 0 1,0 -2.7,0M491.2,147.2a1.35,1.35 0 1,0 2.7,0a1.35,1.35 0 1,0 -2.7,0M492.3,148.8a1.35,1.35 0 1,0 2.7,0a1.35,1.35 0 1,0 -2.7,0M493.3,150.5a1.35,1.35 0 1,0 2.7,0a1.35,1.35 0 1,0 -2.7,0M494.3,152.4a1.35,1.35 0 1,0 2.7,0a1.35,1.35 0 1,0 -2.7,0M495.4,154.3a1.35,1.35 0 1,0 2.7,0a1.35,1.35 0 1,0 -2.7,0M496.4,156.2a1.35,1.35 0 1,0 2.7,0a1.35,1.35 0 1,0 -2.7,0M497.4,158.2a1.35,1.35 0 1,0 2.7,0a1.35,1.35 0 1,0 -2.7,0M498.5,160.1a1.35,1.35 0 1,0 2.7,0a1.35,1.35 0 1,0 -2.7,0M499.5,161.8a1.35,1.35 0 1,0 2.7,0a1.35,1.35 0 1,0 -2.7,0M500.5,163.7a1.35,1.35 0 1,0 2.7,0a1.35,1.35 0 1,0 -2.7,0M501.6,165.5a1.35,1.35 0 1,0 2.7,0a1.35,1.35 0 1,0 -2.7,0M502.6,167.4a1.35,1.35 0 1,0 2.7,0a1.35,1.35 0 1,0 -2.7,0M503.7,169.4a1.35,1.35 0 1,0 2.7,0a1.35,1.35 0 1,0 -2.7,0M504.7,171.7a1.35,1.35 0 1,0 2.7,0a1.35,1.35 0 1,0 -2.7,0M505.7,174.7a1.35,1.35 0 1,0 2.7,0a1.35,1.35 0 1,0 -2.7,0M506.5,177.6a1.35,1.35 0 1,0 2.7,0a1.35,1.35 0 1,0 -2.7,0M507.3,180.6a1.35,1.35 0 1,0 2.7,0a1.35,1.35 0 1,0 -2.7,0M508.3,183.5a1.35,1.35 0 1,0 2.7,0a1.35,1.35 0 1,0 -2.7,0M509.4,186.1a1.35,1.35 0 1,0 2.7,0a1.35,1.35 0 1,0 -2.7,0M510.4,188.9a1.35,1.35 0 1,0 2.7,0a1.35,1.35 0 1,0 -2.7,0M511.3,191.9a1.35,1.35 0 1,0 2.7,0a1.35,1.35 0 1,0 -2.7,0M512.2,194.9a1.35,1.35 0 1,0 2.7,0a1.35,1.35 0 1,0 -2.7,0M513.0,197.8a1.35,1.35 0 1,0 2.7,0a1.35,1.35 0 1,0 -2.7,0M513.9,200.9a1.35,1.35 0 1,0 2.7,0a1.35,1.35 0 1,0 -2.7,0M514.7,203.9a1.35,1.35 0 1,0 2.7,0a1.35,1.35 0 1,0 -2.7,0M515.5,206.9a1.35,1.35 0 1,0 2.7,0a1.35,1.35 0 1,0 -2.7,0M516.3,209.8a1.35,1.35 0 1,0 2.7,0a1.35,1.35 0 1,0 -2.7,0M517.1,212.8a1.35,1.35 0 1,0 2.7,0a1.35,1.35 0 1,0 -2.7,0M517.8,215.8a1.35,1.35 0 1,0 2.7,0a1.35,1.35 0 1,0 -2.7,0M518.7,218.8a1.35,1.35 0 1,0 2.7,0a1.35,1.35 0 1,0 -2.7,0M519.5,221.9a1.35,1.35 0 1,0 2.7,0a1.35,1.35 0 1,0 -2.7,0M520.4,224.9a1.35,1.35 0 1,0 2.7,0a1.35,1.35 0 1,0 -2.7,0M521.2,227.9a1.35,1.35 0 1,0 2.7,0a1.35,1.35 0 1,0 -2.7,0M522.1,230.8a1.35,1.35 0 1,0 2.7,0a1.35,1.35 0 1,0 -2.7,0M522.9,233.8a1.35,1.35 0 1,0 2.7,0a1.35,1.35 0 1,0 -2.7,0M523.5,236.7a1.35,1.35 0 1,0 2.7,0a1.35,1.35 0 1,0 -2.7,0M525.6,238.0a1.35,1.35 0 1,0 2.7,0a1.35,1.35 0 1,0 -2.7,0M526.7,236.7a1.35,1.35 0 1,0 2.7,0a1.35,1.35 0 1,0 -2.7,0M527.7,235.4a1.35,1.35 0 1,0 2.7,0a1.35,1.35 0 1,0 -2.7,0M528.7,234.1a1.35,1.35 0 1,0 2.7,0a1.35,1.35 0 1,0 -2.7,0M529.8,232.9a1.35,1.35 0 1,0 2.7,0a1.35,1.35 0 1,0 -2.7,0M530.8,231.9a1.35,1.35 0 1,0 2.7,0a1.35,1.35 0 1,0 -2.7,0M531.8,230.9a1.35,1.35 0 1,0 2.7,0a1.35,1.35 0 1,0 -2.7,0M532.9,230.0a1.35,1.35 0 1,0 2.7,0a1.35,1.35 0 1,0 -2.7,0M534.0,229.1a1.35,1.35 0 1,0 2.7,0a1.35,1.35 0 1,0 -2.7,0M535.1,228.2a1.35,1.35 0 1,0 2.7,0a1.35,1.35 0 1,0 -2.7,0M536.2,227.4a1.35,1.35 0 1,0 2.7,0a1.35,1.35 0 1,0 -2.7,0M537.3,226.4a1.35,1.35 0 1,0 2.7,0a1.35,1.35 0 1,0 -2.7,0M538.4,225.5a1.35,1.35 0 1,0 2.7,0a1.35,1.35 0 1,0 -2.7,0M539.4,224.5a1.35,1.35 0 1,0 2.7,0a1.35,1.35 0 1,0 -2.7,0M540.4,223.6a1.35,1.35 0 1,0 2.7,0a1.35,1.35 0 1,0 -2.7,0M541.5,223.0a1.35,1.35 0 1,0 2.7,0a1.35,1.35 0 1,0 -2.7,0M542.5,222.9a1.35,1.35 0 1,0 2.7,0a1.35,1.35 0 1,0 -2.7,0M543.6,224.3a1.35,1.35 0 1,0 2.7,0a1.35,1.35 0 1,0 -2.7,0M544.5,227.5a1.35,1.35 0 1,0 2.7,0a1.35,1.35 0 1,0 -2.7,0M545.4,230.5a1.35,1.35 0 1,0 2.7,0a1.35,1.35 0 1,0 -2.7,0M546.2,233.4a1.35,1.35 0 1,0 2.7,0a1.35,1.35 0 1,0 -2.7,0M547.0,236.4a1.35,1.35 0 1,0 2.7,0a1.35,1.35 0 1,0 -2.7,0M464.6,236.0a1.35,1.35 0 1,0 2.7,0a1.35,1.35 0 1,0 -2.7,0M465.1,232.9a1.35,1.35 0 1,0 2.7,0a1.35,1.35 0 1,0 -2.7,0M465.6,229.7a1.35,1.35 0 1,0 2.7,0a1.35,1.35 0 1,0 -2.7,0M466.1,226.6a1.35,1.35 0 1,0 2.7,0a1.35,1.35 0 1,0 -2.7,0M466.5,223.4a1.35,1.35 0 1,0 2.7,0a1.35,1.35 0 1,0 -2.7,0M467.0,220.4a1.35,1.35 0 1,0 2.7,0a1.35,1.35 0 1,0 -2.7,0M467.5,217.4a1.35,1.35 0 1,0 2.7,0a1.35,1.35 0 1,0 -2.7,0M468.0,214.3a1.35,1.35 0 1,0 2.7,0a1.35,1.35 0 1,0 -2.7,0M468.5,211.3a1.35,1.35 0 1,0 2.7,0a1.35,1.35 0 1,0 -2.7,0M469.0,208.2a1.35,1.35 0 1,0 2.7,0a1.35,1.35 0 1,0 -2.7,0M469.6,205.2a1.35,1.35 0 1,0 2.7,0a1.35,1.35 0 1,0 -2.7,0M470.2,202.2a1.35,1.35 0 1,0 2.7,0a1.35,1.35 0 1,0 -2.7,0M470.9,199.2a1.35,1.35 0 1,0 2.7,0a1.35,1.35 0 1,0 -2.7,0M471.5,196.2a1.35,1.35 0 1,0 2.7,0a1.35,1.35 0 1,0 -2.7,0M472.1,193.2a1.35,1.35 0 1,0 2.7,0a1.35,1.35 0 1,0 -2.7,0M472.7,190.2a1.35,1.35 0 1,0 2.7,0a1.35,1.35 0 1,0 -2.7,0M473.2,187.0a1.35,1.35 0 1,0 2.7,0a1.35,1.35 0 1,0 -2.7,0M473.7,183.9a1.35,1.35 0 1,0 2.7,0a1.35,1.35 0 1,0 -2.7,0M474.2,180.9a1.35,1.35 0 1,0 2.7,0a1.35,1.35 0 1,0 -2.7,0M474.6,177.9a1.35,1.35 0 1,0 2.7,0a1.35,1.35 0 1,0 -2.7,0M475.1,174.8a1.35,1.35 0 1,0 2.7,0a1.35,1.35 0 1,0 -2.7,0M475.6,171.8a1.35,1.35 0 1,0 2.7,0a1.35,1.35 0 1,0 -2.7,0M476.2,168.7a1.35,1.35 0 1,0 2.7,0a1.35,1.35 0 1,0 -2.7,0M476.9,165.6a1.35,1.35 0 1,0 2.7,0a1.35,1.35 0 1,0 -2.7,0M477.6,162.6a1.35,1.35 0 1,0 2.7,0a1.35,1.35 0 1,0 -2.7,0M478.5,159.6a1.35,1.35 0 1,0 2.7,0a1.35,1.35 0 1,0 -2.7,0M479.5,156.7a1.35,1.35 0 1,0 2.7,0a1.35,1.35 0 1,0 -2.7,0M480.5,154.1a1.35,1.35 0 1,0 2.7,0a1.35,1.35 0 1,0 -2.7,0M481.6,152.1a1.35,1.35 0 1,0 2.7,0a1.35,1.35 0 1,0 -2.7,0M482.6,151.8a1.35,1.35 0 1,0 2.7,0a1.35,1.35 0 1,0 -2.7,0M483.7,152.2a1.35,1.35 0 1,0 2.7,0a1.35,1.35 0 1,0 -2.7,0M484.8,152.9a1.35,1.35 0 1,0 2.7,0a1.35,1.35 0 1,0 -2.7,0M485.8,154.7a1.35,1.35 0 1,0 2.7,0a1.35,1.35 0 1,0 -2.7,0M486.7,157.6a1.35,1.35 0 1,0 2.7,0a1.35,1.35 0 1,0 -2.7,0M487.3,160.7a1.35,1.35 0 1,0 2.7,0a1.35,1.35 0 1,0 -2.7,0M487.9,163.8a1.35,1.35 0 1,0 2.7,0a1.35,1.35 0 1,0 -2.7,0M488.4,166.9a1.35,1.35 0 1,0 2.7,0a1.35,1.35 0 1,0 -2.7,0M488.9,169.9a1.35,1.35 0 1,0 2.7,0a1.35,1.35 0 1,0 -2.7,0M489.3,173.1a1.35,1.35 0 1,0 2.7,0a1.35,1.35 0 1,0 -2.7,0M489.8,176.2a1.35,1.35 0 1,0 2.7,0a1.35,1.35 0 1,0 -2.7,0M490.3,179.2a1.35,1.35 0 1,0 2.7,0a1.35,1.35 0 1,0 -2.7,0M490.8,182.2a1.35,1.35 0 1,0 2.7,0a1.35,1.35 0 1,0 -2.7,0M491.3,185.3a1.35,1.35 0 1,0 2.7,0a1.35,1.35 0 1,0 -2.7,0M491.7,188.4a1.35,1.35 0 1,0 2.7,0a1.35,1.35 0 1,0 -2.7,0M492.2,191.5a1.35,1.35 0 1,0 2.7,0a1.35,1.35 0 1,0 -2.7,0M492.7,194.6a1.35,1.35 0 1,0 2.7,0a1.35,1.35 0 1,0 -2.7,0M493.2,197.6a1.35,1.35 0 1,0 2.7,0a1.35,1.35 0 1,0 -2.7,0M493.6,200.6a1.35,1.35 0 1,0 2.7,0a1.35,1.35 0 1,0 -2.7,0M494.1,203.7a1.35,1.35 0 1,0 2.7,0a1.35,1.35 0 1,0 -2.7,0M494.5,206.8a1.35,1.35 0 1,0 2.7,0a1.35,1.35 0 1,0 -2.7,0M495.0,209.8a1.35,1.35 0 1,0 2.7,0a1.35,1.35 0 1,0 -2.7,0M495.4,212.8a1.35,1.35 0 1,0 2.7,0a1.35,1.35 0 1,0 -2.7,0M495.8,216.0a1.35,1.35 0 1,0 2.7,0a1.35,1.35 0 1,0 -2.7,0M496.3,219.0a1.35,1.35 0 1,0 2.7,0a1.35,1.35 0 1,0 -2.7,0M496.7,222.0a1.35,1.35 0 1,0 2.7,0a1.35,1.35 0 1,0 -2.7,0M497.1,225.1a1.35,1.35 0 1,0 2.7,0a1.35,1.35 0 1,0 -2.7,0M497.5,228.3a1.35,1.35 0 1,0 2.7,0a1.35,1.35 0 1,0 -2.7,0M497.9,231.4a1.35,1.35 0 1,0 2.7,0a1.35,1.35 0 1,0 -2.7,0M498.3,234.3a1.35,1.35 0 1,0 2.7,0a1.35,1.35 0 1,0 -2.7,0M464.6,237.0a1.35,1.35 0 1,0 2.7,0a1.35,1.35 0 1,0 -2.7,0M465.2,233.9a1.35,1.35 0 1,0 2.7,0a1.35,1.35 0 1,0 -2.7,0M465.7,230.8a1.35,1.35 0 1,0 2.7,0a1.35,1.35 0 1,0 -2.7,0M466.2,227.7a1.35,1.35 0 1,0 2.7,0a1.35,1.35 0 1,0 -2.7,0M466.8,224.7a1.35,1.35 0 1,0 2.7,0a1.35,1.35 0 1,0 -2.7,0M467.3,221.7a1.35,1.35 0 1,0 2.7,0a1.35,1.35 0 1,0 -2.7,0M467.9,218.7a1.35,1.35 0 1,0 2.7,0a1.35,1.35 0 1,0 -2.7,0M468.6,215.6a1.35,1.35 0 1,0 2.7,0a1.35,1.35 0 1,0 -2.7,0M469.4,212.5a1.35,1.35 0 1,0 2.7,0a1.35,1.35 0 1,0 -2.7,0M470.2,209.5a1.35,1.35 0 1,0 2.7,0a1.35,1.35 0 1,0 -2.7,0M471.1,206.4a1.35,1.35 0 1,0 2.7,0a1.35,1.35 0 1,0 -2.7,0M472.1,203.4a1.35,1.35 0 1,0 2.7,0a1.35,1.35 0 1,0 -2.7,0M473.2,200.7a1.35,1.35 0 1,0 2.7,0a1.35,1.35 0 1,0 -2.7,0M474.2,198.6a1.35,1.35 0 1,0 2.7,0a1.35,1.35 0 1,0 -2.7,0M475.3,197.0a1.35,1.35 0 1,0 2.7,0a1.35,1.35 0 1,0 -2.7,0M476.4,195.8a1.35,1.35 0 1,0 2.7,0a1.35,1.35 0 1,0 -2.7,0M477.4,194.8a1.35,1.35 0 1,0 2.7,0a1.35,1.35 0 1,0 -2.7,0M478.5,194.0a1.35,1.35 0 1,0 2.7,0a1.35,1.35 0 1,0 -2.7,0M479.6,193.2a1.35,1.35 0 1,0 2.7,0a1.35,1.35 0 1,0 -2.7,0M480.6,193.1a1.35,1.35 0 1,0 2.7,0a1.35,1.35 0 1,0 -2.7,0M481.8,192.7a1.35,1.35 0 1,0 2.7,0a1.35,1.35 0 1,0 -2.7,0M482.9,192.3a1.35,1.35 0 1,0 2.7,0a1.35,1.35 0 1,0 -2.7,0M483.9,192.0a1.35,1.35 0 1,0 2.7,0a1.35,1.35 0 1,0 -2.7,0M485.0,191.6a1.35,1.35 0 1,0 2.7,0a1.35,1.35 0 1,0 -2.7,0M486.0,191.2a1.35,1.35 0 1,0 2.7,0a1.35,1.35 0 1,0 -2.7,0M487.1,190.7a1.35,1.35 0 1,0 2.7,0a1.35,1.35 0 1,0 -2.7,0M488.1,190.2a1.35,1.35 0 1,0 2.7,0a1.35,1.35 0 1,0 -2.7,0M489.3,189.6a1.35,1.35 0 1,0 2.7,0a1.35,1.35 0 1,0 -2.7,0M490.3,189.0a1.35,1.35 0 1,0 2.7,0a1.35,1.35 0 1,0 -2.7,0M491.4,188.1a1.35,1.35 0 1,0 2.7,0a1.35,1.35 0 1,0 -2.7,0M492.5,186.9a1.35,1.35 0 1,0 2.7,0a1.35,1.35 0 1,0 -2.7,0M493.6,185.5a1.35,1.35 0 1,0 2.7,0a1.35,1.35 0 1,0 -2.7,0M494.7,184.0a1.35,1.35 0 1,0 2.7,0a1.35,1.35 0 1,0 -2.7,0M495.8,182.4a1.35,1.35 0 1,0 2.7,0a1.35,1.35 0 1,0 -2.7,0M496.9,180.8a1.35,1.35 0 1,0 2.7,0a1.35,1.35 0 1,0 -2.7,0M497.9,179.4a1.35,1.35 0 1,0 2.7,0a1.35,1.35 0 1,0 -2.7,0M499.0,177.5a1.35,1.35 0 1,0 2.7,0a1.35,1.35 0 1,0 -2.7,0M500.0,175.7a1.35,1.35 0 1,0 2.7,0a1.35,1.35 0 1,0 -2.7,0M501.0,174.1a1.35,1.35 0 1,0 2.7,0a1.35,1.35 0 1,0 -2.7,0M502.1,173.1a1.35,1.35 0 1,0 2.7,0a1.35,1.35 0 1,0 -2.7,0M503.1,172.9a1.35,1.35 0 1,0 2.7,0a1.35,1.35 0 1,0 -2.7,0M504.2,173.3a1.35,1.35 0 1,0 2.7,0a1.35,1.35 0 1,0 -2.7,0M505.3,174.2a1.35,1.35 0 1,0 2.7,0a1.35,1.35 0 1,0 -2.7,0M506.4,175.3a1.35,1.35 0 1,0 2.7,0a1.35,1.35 0 1,0 -2.7,0M507.4,176.5a1.35,1.35 0 1,0 2.7,0a1.35,1.35 0 1,0 -2.7,0M508.5,177.9a1.35,1.35 0 1,0 2.7,0a1.35,1.35 0 1,0 -2.7,0M509.6,179.3a1.35,1.35 0 1,0 2.7,0a1.35,1.35 0 1,0 -2.7,0M510.7,180.7a1.35,1.35 0 1,0 2.7,0a1.35,1.35 0 1,0 -2.7,0M511.8,182.2a1.35,1.35 0 1,0 2.7,0a1.35,1.35 0 1,0 -2.7,0M512.8,183.7a1.35,1.35 0 1,0 2.7,0a1.35,1.35 0 1,0 -2.7,0M513.9,185.3a1.35,1.35 0 1,0 2.7,0a1.35,1.35 0 1,0 -2.7,0M515.0,187.0a1.35,1.35 0 1,0 2.7,0a1.35,1.35 0 1,0 -2.7,0M516.2,188.6a1.35,1.35 0 1,0 2.7,0a1.35,1.35 0 1,0 -2.7,0M517.3,190.2a1.35,1.35 0 1,0 2.7,0a1.35,1.35 0 1,0 -2.7,0M518.3,191.7a1.35,1.35 0 1,0 2.7,0a1.35,1.35 0 1,0 -2.7,0M519.4,193.2a1.35,1.35 0 1,0 2.7,0a1.35,1.35 0 1,0 -2.7,0M520.5,194.7a1.35,1.35 0 1,0 2.7,0a1.35,1.35 0 1,0 -2.7,0M521.5,196.3a1.35,1.35 0 1,0 2.7,0a1.35,1.35 0 1,0 -2.7,0M522.6,197.8a1.35,1.35 0 1,0 2.7,0a1.35,1.35 0 1,0 -2.7,0M523.7,199.3a1.35,1.35 0 1,0 2.7,0a1.35,1.35 0 1,0 -2.7,0M524.8,200.8a1.35,1.35 0 1,0 2.7,0a1.35,1.35 0 1,0 -2.7,0M525.8,202.3a1.35,1.35 0 1,0 2.7,0a1.35,1.35 0 1,0 -2.7,0M526.8,203.7a1.35,1.35 0 1,0 2.7,0a1.35,1.35 0 1,0 -2.7,0M527.9,205.2a1.35,1.35 0 1,0 2.7,0a1.35,1.35 0 1,0 -2.7,0M529.0,206.6a1.35,1.35 0 1,0 2.7,0a1.35,1.35 0 1,0 -2.7,0M530.1,208.1a1.35,1.35 0 1,0 2.7,0a1.35,1.35 0 1,0 -2.7,0M531.2,209.5a1.35,1.35 0 1,0 2.7,0a1.35,1.35 0 1,0 -2.7,0M532.3,210.8a1.35,1.35 0 1,0 2.7,0a1.35,1.35 0 1,0 -2.7,0M533.3,212.0a1.35,1.35 0 1,0 2.7,0a1.35,1.35 0 1,0 -2.7,0M534.4,213.4a1.35,1.35 0 1,0 2.7,0a1.35,1.35 0 1,0 -2.7,0M535.4,214.6a1.35,1.35 0 1,0 2.7,0a1.35,1.35 0 1,0 -2.7,0M536.4,215.8a1.35,1.35 0 1,0 2.7,0a1.35,1.35 0 1,0 -2.7,0M537.5,217.2a1.35,1.35 0 1,0 2.7,0a1.35,1.35 0 1,0 -2.7,0M538.7,218.8a1.35,1.35 0 1,0 2.7,0a1.35,1.35 0 1,0 -2.7,0M539.7,220.2a1.35,1.35 0 1,0 2.7,0a1.35,1.35 0 1,0 -2.7,0M540.8,221.3a1.35,1.35 0 1,0 2.7,0a1.35,1.35 0 1,0 -2.7,0M541.9,221.9a1.35,1.35 0 1,0 2.7,0a1.35,1.35 0 1,0 -2.7,0M543.0,221.9a1.35,1.35 0 1,0 2.7,0a1.35,1.35 0 1,0 -2.7,0M544.0,221.2a1.35,1.35 0 1,0 2.7,0a1.35,1.35 0 1,0 -2.7,0M545.1,220.0a1.35,1.35 0 1,0 2.7,0a1.35,1.35 0 1,0 -2.7,0M546.2,218.5a1.35,1.35 0 1,0 2.7,0a1.35,1.35 0 1,0 -2.7,0M547.2,217.2a1.35,1.35 0 1,0 2.7,0a1.35,1.35 0 1,0 -2.7,0M548.3,216.0a1.35,1.35 0 1,0 2.7,0a1.35,1.35 0 1,0 -2.7,0M549.4,215.1a1.35,1.35 0 1,0 2.7,0a1.35,1.35 0 1,0 -2.7,0M550.4,214.4a1.35,1.35 0 1,0 2.7,0a1.35,1.35 0 1,0 -2.7,0M551.5,213.8a1.35,1.35 0 1,0 2.7,0a1.35,1.35 0 1,0 -2.7,0M552.6,213.2a1.35,1.35 0 1,0 2.7,0a1.35,1.35 0 1,0 -2.7,0M553.8,212.6a1.35,1.35 0 1,0 2.7,0a1.35,1.35 0 1,0 -2.7,0M554.9,212.1a1.35,1.35 0 1,0 2.7,0a1.35,1.35 0 1,0 -2.7,0M556.1,211.6a1.35,1.35 0 1,0 2.7,0a1.35,1.35 0 1,0 -2.7,0M557.2,211.1a1.35,1.35 0 1,0 2.7,0a1.35,1.35 0 1,0 -2.7,0M558.2,210.8a1.35,1.35 0 1,0 2.7,0a1.35,1.35 0 1,0 -2.7,0M559.2,210.4a1.35,1.35 0 1,0 2.7,0a1.35,1.35 0 1,0 -2.7,0M560.3,210.1a1.35,1.35 0 1,0 2.7,0a1.35,1.35 0 1,0 -2.7,0M561.4,209.8a1.35,1.35 0 1,0 2.7,0a1.35,1.35 0 1,0 -2.7,0M562.5,209.6a1.35,1.35 0 1,0 2.7,0a1.35,1.35 0 1,0 -2.7,0M563.7,209.5a1.35,1.35 0 1,0 2.7,0a1.35,1.35 0 1,0 -2.7,0M564.7,209.5a1.35,1.35 0 1,0 2.7,0a1.35,1.35 0 1,0 -2.7,0M565.7,209.6a1.35,1.35 0 1,0 2.7,0a1.35,1.35 0 1,0 -2.7,0M566.8,209.8a1.35,1.35 0 1,0 2.7,0a1.35,1.35 0 1,0 -2.7,0M567.9,210.1a1.35,1.35 0 1,0 2.7,0a1.35,1.35 0 1,0 -2.7,0M569.1,210.5a1.35,1.35 0 1,0 2.7,0a1.35,1.35 0 1,0 -2.7,0M570.3,211.0a1.35,1.35 0 1,0 2.7,0a1.35,1.35 0 1,0 -2.7,0M571.4,211.5a1.35,1.35 0 1,0 2.7,0a1.35,1.35 0 1,0 -2.7,0M572.6,212.1a1.35,1.35 0 1,0 2.7,0a1.35,1.35 0 1,0 -2.7,0M573.6,212.7a1.35,1.35 0 1,0 2.7,0a1.35,1.35 0 1,0 -2.7,0M574.8,213.4a1.35,1.35 0 1,0 2.7,0a1.35,1.35 0 1,0 -2.7,0M575.9,214.3a1.35,1.35 0 1,0 2.7,0a1.35,1.35 0 1,0 -2.7,0M576.9,215.3a1.35,1.35 0 1,0 2.7,0a1.35,1.35 0 1,0 -2.7,0M578.0,216.4a1.35,1.35 0 1,0 2.7,0a1.35,1.35 0 1,0 -2.7,0M579.1,217.6a1.35,1.35 0 1,0 2.7,0a1.35,1.35 0 1,0 -2.7,0M580.2,218.9a1.35,1.35 0 1,0 2.7,0a1.35,1.35 0 1,0 -2.7,0M581.2,220.1a1.35,1.35 0 1,0 2.7,0a1.35,1.35 0 1,0 -2.7,0M582.3,221.5a1.35,1.35 0 1,0 2.7,0a1.35,1.35 0 1,0 -2.7,0M583.3,222.9a1.35,1.35 0 1,0 2.7,0a1.35,1.35 0 1,0 -2.7,0M584.3,224.3a1.35,1.35 0 1,0 2.7,0a1.35,1.35 0 1,0 -2.7,0M585.4,225.9a1.35,1.35 0 1,0 2.7,0a1.35,1.35 0 1,0 -2.7,0M586.4,227.3a1.35,1.35 0 1,0 2.7,0a1.35,1.35 0 1,0 -2.7,0M587.4,229.5a1.35,1.35 0 1,0 2.7,0a1.35,1.35 0 1,0 -2.7,0M588.5,232.1a1.35,1.35 0 1,0 2.7,0a1.35,1.35 0 1,0 -2.7,0M589.5,229.9a1.35,1.35 0 1,0 2.7,0a1.35,1.35 0 1,0 -2.7,0M590.3,226.9a1.35,1.35 0 1,0 2.7,0a1.35,1.35 0 1,0 -2.7,0M591.0,224.0a1.35,1.35 0 1,0 2.7,0a1.35,1.35 0 1,0 -2.7,0M591.6,220.9a1.35,1.35 0 1,0 2.7,0a1.35,1.35 0 1,0 -2.7,0M592.3,218.0a1.35,1.35 0 1,0 2.7,0a1.35,1.35 0 1,0 -2.7,0M592.9,215.0a1.35,1.35 0 1,0 2.7,0a1.35,1.35 0 1,0 -2.7,0M593.7,211.8a1.35,1.35 0 1,0 2.7,0a1.35,1.35 0 1,0 -2.7,0M594.4,208.8a1.35,1.35 0 1,0 2.7,0a1.35,1.35 0 1,0 -2.7,0M595.3,205.8a1.35,1.35 0 1,0 2.7,0a1.35,1.35 0 1,0 -2.7,0M596.3,202.7a1.35,1.35 0 1,0 2.7,0a1.35,1.35 0 1,0 -2.7,0M597.2,199.7a1.35,1.35 0 1,0 2.7,0a1.35,1.35 0 1,0 -2.7,0M598.2,196.7a1.35,1.35 0 1,0 2.7,0a1.35,1.35 0 1,0 -2.7,0M599.2,193.9a1.35,1.35 0 1,0 2.7,0a1.35,1.35 0 1,0 -2.7,0M600.3,191.0a1.35,1.35 0 1,0 2.7,0a1.35,1.35 0 1,0 -2.7,0M601.3,188.3a1.35,1.35 0 1,0 2.7,0a1.35,1.35 0 1,0 -2.7,0M602.3,185.5a1.35,1.35 0 1,0 2.7,0a1.35,1.35 0 1,0 -2.7,0M603.4,182.9a1.35,1.35 0 1,0 2.7,0a1.35,1.35 0 1,0 -2.7,0M604.4,180.3a1.35,1.35 0 1,0 2.7,0a1.35,1.35 0 1,0 -2.7,0M605.5,178.1a1.35,1.35 0 1,0 2.7,0a1.35,1.35 0 1,0 -2.7,0M606.5,176.3a1.35,1.35 0 1,0 2.7,0a1.35,1.35 0 1,0 -2.7,0M607.5,174.9a1.35,1.35 0 1,0 2.7,0a1.35,1.35 0 1,0 -2.7,0M608.7,173.9a1.35,1.35 0 1,0 2.7,0a1.35,1.35 0 1,0 -2.7,0M609.7,173.5a1.35,1.35 0 1,0 2.7,0a1.35,1.35 0 1,0 -2.7,0M610.8,173.4a1.35,1.35 0 1,0 2.7,0a1.35,1.35 0 1,0 -2.7,0M611.9,173.4a1.35,1.35 0 1,0 2.7,0a1.35,1.35 0 1,0 -2.7,0M613.0,173.4a1.35,1.35 0 1,0 2.7,0a1.35,1.35 0 1,0 -2.7,0M614.1,173.5a1.35,1.35 0 1,0 2.7,0a1.35,1.35 0 1,0 -2.7,0M615.2,173.9a1.35,1.35 0 1,0 2.7,0a1.35,1.35 0 1,0 -2.7,0M616.4,174.7a1.35,1.35 0 1,0 2.7,0a1.35,1.35 0 1,0 -2.7,0M617.4,175.9a1.35,1.35 0 1,0 2.7,0a1.35,1.35 0 1,0 -2.7,0M618.4,177.7a1.35,1.35 0 1,0 2.7,0a1.35,1.35 0 1,0 -2.7,0M619.5,179.8a1.35,1.35 0 1,0 2.7,0a1.35,1.35 0 1,0 -2.7,0M620.6,182.3a1.35,1.35 0 1,0 2.7,0a1.35,1.35 0 1,0 -2.7,0M621.6,184.8a1.35,1.35 0 1,0 2.7,0a1.35,1.35 0 1,0 -2.7,0M622.7,187.6a1.35,1.35 0 1,0 2.7,0a1.35,1.35 0 1,0 -2.7,0M623.7,190.4a1.35,1.35 0 1,0 2.7,0a1.35,1.35 0 1,0 -2.7,0M624.7,193.3a1.35,1.35 0 1,0 2.7,0a1.35,1.35 0 1,0 -2.7,0M625.6,196.2a1.35,1.35 0 1,0 2.7,0a1.35,1.35 0 1,0 -2.7,0M626.6,199.2a1.35,1.35 0 1,0 2.7,0a1.35,1.35 0 1,0 -2.7,0M627.6,202.2a1.35,1.35 0 1,0 2.7,0a1.35,1.35 0 1,0 -2.7,0M628.6,205.2a1.35,1.35 0 1,0 2.7,0a1.35,1.35 0 1,0 -2.7,0M629.5,208.2a1.35,1.35 0 1,0 2.7,0a1.35,1.35 0 1,0 -2.7,0M630.3,211.1a1.35,1.35 0 1,0 2.7,0a1.35,1.35 0 1,0 -2.7,0M631.1,214.1a1.35,1.35 0 1,0 2.7,0a1.35,1.35 0 1,0 -2.7,0M631.8,217.2a1.35,1.35 0 1,0 2.7,0a1.35,1.35 0 1,0 -2.7,0M632.5,220.3a1.35,1.35 0 1,0 2.7,0a1.35,1.35 0 1,0 -2.7,0M633.3,223.4a1.35,1.35 0 1,0 2.7,0a1.35,1.35 0 1,0 -2.7,0M634.2,226.4a1.35,1.35 0 1,0 2.7,0a1.35,1.35 0 1,0 -2.7,0M635.2,228.4a1.35,1.35 0 1,0 2.7,0a1.35,1.35 0 1,0 -2.7,0M636.3,229.2a1.35,1.35 0 1,0 2.7,0a1.35,1.35 0 1,0 -2.7,0M637.4,228.7a1.35,1.35 0 1,0 2.7,0a1.35,1.35 0 1,0 -2.7,0M638.4,227.5a1.35,1.35 0 1,0 2.7,0a1.35,1.35 0 1,0 -2.7,0M639.5,225.7a1.35,1.35 0 1,0 2.7,0a1.35,1.35 0 1,0 -2.7,0M640.6,223.7a1.35,1.35 0 1,0 2.7,0a1.35,1.35 0 1,0 -2.7,0M641.7,221.5a1.35,1.35 0 1,0 2.7,0a1.35,1.35 0 1,0 -2.7,0M642.8,219.6a1.35,1.35 0 1,0 2.7,0a1.35,1.35 0 1,0 -2.7,0M643.9,217.9a1.35,1.35 0 1,0 2.7,0a1.35,1.35 0 1,0 -2.7,0M645.0,216.6a1.35,1.35 0 1,0 2.7,0a1.35,1.35 0 1,0 -2.7,0M646.2,215.5a1.35,1.35 0 1,0 2.7,0a1.35,1.35 0 1,0 -2.7,0M647.3,214.4a1.35,1.35 0 1,0 2.7,0a1.35,1.35 0 1,0 -2.7,0M648.4,213.4a1.35,1.35 0 1,0 2.7,0a1.35,1.35 0 1,0 -2.7,0M649.5,212.6a1.35,1.35 0 1,0 2.7,0a1.35,1.35 0 1,0 -2.7,0M650.5,211.8a1.35,1.35 0 1,0 2.7,0a1.35,1.35 0 1,0 -2.7,0M651.6,211.1a1.35,1.35 0 1,0 2.7,0a1.35,1.35 0 1,0 -2.7,0M652.7,210.4a1.35,1.35 0 1,0 2.7,0a1.35,1.35 0 1,0 -2.7,0M653.8,209.9a1.35,1.35 0 1,0 2.7,0a1.35,1.35 0 1,0 -2.7,0M654.9,209.5a1.35,1.35 0 1,0 2.7,0a1.35,1.35 0 1,0 -2.7,0M656.0,209.3a1.35,1.35 0 1,0 2.7,0a1.35,1.35 0 1,0 -2.7,0M657.1,209.3a1.35,1.35 0 1,0 2.7,0a1.35,1.35 0 1,0 -2.7,0M658.2,209.5a1.35,1.35 0 1,0 2.7,0a1.35,1.35 0 1,0 -2.7,0M659.2,210.1a1.35,1.35 0 1,0 2.7,0a1.35,1.35 0 1,0 -2.7,0M660.3,211.4a1.35,1.35 0 1,0 2.7,0a1.35,1.35 0 1,0 -2.7,0M661.4,213.3a1.35,1.35 0 1,0 2.7,0a1.35,1.35 0 1,0 -2.7,0M662.4,215.4a1.35,1.35 0 1,0 2.7,0a1.35,1.35 0 1,0 -2.7,0M663.5,217.7a1.35,1.35 0 1,0 2.7,0a1.35,1.35 0 1,0 -2.7,0M664.5,220.5a1.35,1.35 0 1,0 2.7,0a1.35,1.35 0 1,0 -2.7,0M665.5,223.4a1.35,1.35 0 1,0 2.7,0a1.35,1.35 0 1,0 -2.7,0M666.4,226.4a1.35,1.35 0 1,0 2.7,0a1.35,1.35 0 1,0 -2.7,0M667.2,229.5a1.35,1.35 0 1,0 2.7,0a1.35,1.35 0 1,0 -2.7,0M668.0,232.4a1.35,1.35 0 1,0 2.7,0a1.35,1.35 0 1,0 -2.7,0M668.7,235.4a1.35,1.35 0 1,0 2.7,0a1.35,1.35 0 1,0 -2.7,0M589.9,235.0a1.35,1.35 0 1,0 2.7,0a1.35,1.35 0 1,0 -2.7,0M591.0,232.3a1.35,1.35 0 1,0 2.7,0a1.35,1.35 0 1,0 -2.7,0M592.0,229.6a1.35,1.35 0 1,0 2.7,0a1.35,1.35 0 1,0 -2.7,0M593.0,226.8a1.35,1.35 0 1,0 2.7,0a1.35,1.35 0 1,0 -2.7,0M594.0,224.1a1.35,1.35 0 1,0 2.7,0a1.35,1.35 0 1,0 -2.7,0M595.0,221.2a1.35,1.35 0 1,0 2.7,0a1.35,1.35 0 1,0 -2.7,0M596.0,218.2a1.35,1.35 0 1,0 2.7,0a1.35,1.35 0 1,0 -2.7,0M596.9,215.3a1.35,1.35 0 1,0 2.7,0a1.35,1.35 0 1,0 -2.7,0M597.8,212.3a1.35,1.35 0 1,0 2.7,0a1.35,1.35 0 1,0 -2.7,0M598.5,209.3a1.35,1.35 0 1,0 2.7,0a1.35,1.35 0 1,0 -2.7,0M599.3,206.3a1.35,1.35 0 1,0 2.7,0a1.35,1.35 0 1,0 -2.7,0M600.0,203.3a1.35,1.35 0 1,0 2.7,0a1.35,1.35 0 1,0 -2.7,0M600.7,200.3a1.35,1.35 0 1,0 2.7,0a1.35,1.35 0 1,0 -2.7,0M601.5,197.4a1.35,1.35 0 1,0 2.7,0a1.35,1.35 0 1,0 -2.7,0M602.2,194.4a1.35,1.35 0 1,0 2.7,0a1.35,1.35 0 1,0 -2.7,0M603.0,191.4a1.35,1.35 0 1,0 2.7,0a1.35,1.35 0 1,0 -2.7,0M603.8,188.4a1.35,1.35 0 1,0 2.7,0a1.35,1.35 0 1,0 -2.7,0M604.8,185.4a1.35,1.35 0 1,0 2.7,0a1.35,1.35 0 1,0 -2.7,0M605.8,182.7a1.35,1.35 0 1,0 2.7,0a1.35,1.35 0 1,0 -2.7,0M606.8,180.4a1.35,1.35 0 1,0 2.7,0a1.35,1.35 0 1,0 -2.7,0M607.8,178.4a1.35,1.35 0 1,0 2.7,0a1.35,1.35 0 1,0 -2.7,0M608.8,176.7a1.35,1.35 0 1,0 2.7,0a1.35,1.35 0 1,0 -2.7,0M609.9,175.3a1.35,1.35 0 1,0 2.7,0a1.35,1.35 0 1,0 -2.7,0M611.0,174.6a1.35,1.35 0 1,0 2.7,0a1.35,1.35 0 1,0 -2.7,0M612.1,174.5a1.35,1.35 0 1,0 2.7,0a1.35,1.35 0 1,0 -2.7,0M613.2,174.7a1.35,1.35 0 1,0 2.7,0a1.35,1.35 0 1,0 -2.7,0M614.3,175.6a1.35,1.35 0 1,0 2.7,0a1.35,1.35 0 1,0 -2.7,0M615.3,177.1a1.35,1.35 0 1,0 2.7,0a1.35,1.35 0 1,0 -2.7,0M616.4,178.9a1.35,1.35 0 1,0 2.7,0a1.35,1.35 0 1,0 -2.7,0M617.4,180.9a1.35,1.35 0 1,0 2.7,0a1.35,1.35 0 1,0 -2.7,0M618.4,183.1a1.35,1.35 0 1,0 2.7,0a1.35,1.35 0 1,0 -2.7,0M619.5,186.0a1.35,1.35 0 1,0 2.7,0a1.35,1.35 0 1,0 -2.7,0M620.4,188.9a1.35,1.35 0 1,0 2.7,0a1.35,1.35 0 1,0 -2.7,0M621.2,191.8a1.35,1.35 0 1,0 2.7,0a1.35,1.35 0 1,0 -2.7,0M622.0,194.7a1.35,1.35 0 1,0 2.7,0a1.35,1.35 0 1,0 -2.7,0M622.8,197.8a1.35,1.35 0 1,0 2.7,0a1.35,1.35 0 1,0 -2.7,0M623.5,200.7a1.35,1.35 0 1,0 2.7,0a1.35,1.35 0 1,0 -2.7,0M624.2,203.8a1.35,1.35 0 1,0 2.7,0a1.35,1.35 0 1,0 -2.7,0M624.9,206.8a1.35,1.35 0 1,0 2.7,0a1.35,1.35 0 1,0 -2.7,0M625.7,209.7a1.35,1.35 0 1,0 2.7,0a1.35,1.35 0 1,0 -2.7,0M626.4,212.6a1.35,1.35 0 1,0 2.7,0a1.35,1.35 0 1,0 -2.7,0M627.3,215.7a1.35,1.35 0 1,0 2.7,0a1.35,1.35 0 1,0 -2.7,0M628.2,218.7a1.35,1.35 0 1,0 2.7,0a1.35,1.35 0 1,0 -2.7,0M629.2,221.7a1.35,1.35 0 1,0 2.7,0a1.35,1.35 0 1,0 -2.7,0M630.3,224.5a1.35,1.35 0 1,0 2.7,0a1.35,1.35 0 1,0 -2.7,0M631.3,227.5a1.35,1.35 0 1,0 2.7,0a1.35,1.35 0 1,0 -2.7,0M632.4,230.3a1.35,1.35 0 1,0 2.7,0a1.35,1.35 0 1,0 -2.7,0M633.4,233.0a1.35,1.35 0 1,0 2.7,0a1.35,1.35 0 1,0 -2.7,0M659.6,16.0a1.35,1.35 0 1,0 2.7,0a1.35,1.35 0 1,0 -2.7,0M660.3,18.9a1.35,1.35 0 1,0 2.7,0a1.35,1.35 0 1,0 -2.7,0M661.1,22.0a1.35,1.35 0 1,0 2.7,0a1.35,1.35 0 1,0 -2.7,0M661.7,25.2a1.35,1.35 0 1,0 2.7,0a1.35,1.35 0 1,0 -2.7,0M662.2,28.1a1.35,1.35 0 1,0 2.7,0a1.35,1.35 0 1,0 -2.7,0M662.6,31.2a1.35,1.35 0 1,0 2.7,0a1.35,1.35 0 1,0 -2.7,0M663.0,34.4a1.35,1.35 0 1,0 2.7,0a1.35,1.35 0 1,0 -2.7,0M663.3,37.4a1.35,1.35 0 1,0 2.7,0a1.35,1.35 0 1,0 -2.7,0M663.7,40.5a1.35,1.35 0 1,0 2.7,0a1.35,1.35 0 1,0 -2.7,0M664.0,43.6a1.35,1.35 0 1,0 2.7,0a1.35,1.35 0 1,0 -2.7,0M664.4,46.6a1.35,1.35 0 1,0 2.7,0a1.35,1.35 0 1,0 -2.7,0M664.8,49.6a1.35,1.35 0 1,0 2.7,0a1.35,1.35 0 1,0 -2.7,0M665.2,52.6a1.35,1.35 0 1,0 2.7,0a1.35,1.35 0 1,0 -2.7,0M665.8,55.6a1.35,1.35 0 1,0 2.7,0a1.35,1.35 0 1,0 -2.7,0M666.4,58.5a1.35,1.35 0 1,0 2.7,0a1.35,1.35 0 1,0 -2.7,0M667.1,61.4a1.35,1.35 0 1,0 2.7,0a1.35,1.35 0 1,0 -2.7,0M668.0,64.4a1.35,1.35 0 1,0 2.7,0a1.35,1.35 0 1,0 -2.7,0M668.8,67.4a1.35,1.35 0 1,0 2.7,0a1.35,1.35 0 1,0 -2.7,0M669.6,70.4a1.35,1.35 0 1,0 2.7,0a1.35,1.35 0 1,0 -2.7,0M670.4,73.4a1.35,1.35 0 1,0 2.7,0a1.35,1.35 0 1,0 -2.7,0M671.3,76.3a1.35,1.35 0 1,0 2.7,0a1.35,1.35 0 1,0 -2.7,0M672.2,79.3a1.35,1.35 0 1,0 2.7,0a1.35,1.35 0 1,0 -2.7,0M673.0,82.2a1.35,1.35 0 1,0 2.7,0a1.35,1.35 0 1,0 -2.7,0M673.9,85.3a1.35,1.35 0 1,0 2.7,0a1.35,1.35 0 1,0 -2.7,0M674.7,88.2a1.35,1.35 0 1,0 2.7,0a1.35,1.35 0 1,0 -2.7,0M675.6,91.2a1.35,1.35 0 1,0 2.7,0a1.35,1.35 0 1,0 -2.7,0M676.5,94.1a1.35,1.35 0 1,0 2.7,0a1.35,1.35 0 1,0 -2.7,0M677.5,97.0a1.35,1.35 0 1,0 2.7,0a1.35,1.35 0 1,0 -2.7,0M678.6,100.0a1.35,1.35 0 1,0 2.7,0a1.35,1.35 0 1,0 -2.7,0M679.6,102.8a1.35,1.35 0 1,0 2.7,0a1.35,1.35 0 1,0 -2.7,0" fill="#cc3830"/>
<path d="M373.6,91.0C373.9,90.1 375.0,87.5 375.6,85.7C376.2,84.0 376.8,81.9 377.4,80.5C378.0,79.1 378.5,78.1 379.1,77.4C379.8,76.8 380.6,76.4 381.3,76.6C382.0,76.8 382.7,77.4 383.5,78.3C384.3,79.2 385.2,80.6 386.1,81.8C387.0,83.0 387.8,84.4 388.7,85.7C389.6,87.0 390.5,88.4 391.4,89.7C392.3,91.0 393.1,92.4 394.0,93.6C394.9,94.8 395.7,95.9 396.6,97.1C397.5,98.3 398.3,99.5 399.2,100.6C400.1,101.7 401.0,102.7 401.9,103.7C402.8,104.7 403.6,105.8 404.5,106.7C405.4,107.6 406.2,108.2 407.1,108.9C408.0,109.6 408.8,110.2 409.7,110.7C410.6,111.2 411.7,111.6 412.4,111.8C413.1,112.0 413.2,113.1 413.9,112.0C414.5,110.9 415.5,108.2 416.3,105.0C417.1,101.8 417.9,96.8 418.6,93.0C419.3,89.2 419.9,85.6 420.5,82.0C421.1,78.4 421.6,75.1 422.2,71.6C422.8,68.1 423.4,64.7 424.0,61.1C424.6,57.5 425.3,54.4 425.9,50.0C426.5,45.6 427.0,41.0 427.5,35.0C428.0,29.0 428.8,17.5 429.0,14.0M390.0,14.0C390.6,15.3 391.7,18.6 393.4,21.8C395.1,25.0 397.9,29.7 400.1,33.1C402.4,36.5 404.6,39.8 406.9,42.1C409.2,44.4 412.1,44.9 413.7,46.7C415.3,48.5 415.5,50.6 416.5,53.0C417.5,55.4 418.8,58.2 419.6,61.0C420.5,63.8 421.0,67.0 421.6,69.8C422.2,72.5 422.6,74.8 423.4,77.5C424.2,80.2 425.4,83.4 426.5,85.8C427.6,88.2 429.0,90.2 430.2,92.0C431.4,93.8 432.8,95.7 433.9,96.9C434.9,98.1 435.3,99.4 436.5,99.3C437.7,99.2 439.4,98.1 440.9,96.3C442.4,94.5 443.9,92.8 445.7,88.3C447.4,83.8 449.7,74.6 451.4,69.6C453.1,64.6 454.6,61.1 456.0,58.2C457.4,55.4 458.7,53.2 460.0,52.5C461.3,51.8 462.5,52.2 463.9,53.7C465.3,55.2 466.8,58.5 468.5,61.7C470.2,64.9 472.5,69.5 474.2,73.1C475.9,76.7 477.4,80.5 478.8,83.3C480.2,86.0 480.8,88.8 482.3,89.6C483.8,90.4 486.0,89.1 487.9,87.9C489.8,86.7 491.7,84.8 493.6,82.2C495.6,79.7 498.0,75.3 499.6,72.6C501.2,69.9 502.2,68.4 503.4,65.8C504.6,63.2 505.7,59.4 507.0,57.0C508.3,54.6 509.2,50.7 511.0,51.3C512.8,51.9 515.4,56.3 517.8,60.4C520.2,64.5 522.9,70.9 525.4,75.7C527.9,80.5 530.5,85.9 533.0,89.4C535.5,93.0 538.9,95.5 540.7,97.0C542.5,98.5 542.5,98.8 543.8,98.3C545.1,97.8 546.8,96.5 548.3,93.9C549.8,91.4 551.3,86.0 552.8,83.0C554.3,80.0 555.0,77.8 557.4,76.1C559.8,74.4 563.9,73.8 566.9,72.7C569.9,71.6 573.0,71.6 575.5,69.3C578.0,67.0 580.1,62.4 582.0,59.0C583.9,55.6 585.5,51.9 587.0,49.0C588.5,46.1 589.8,43.3 591.0,41.5C592.2,39.7 592.7,39.0 594.1,38.4C595.5,37.8 598.0,37.5 599.3,37.8C600.6,38.1 601.1,38.4 602.1,40.1C603.1,41.8 604.4,45.2 605.5,48.1C606.6,51.0 607.7,54.4 609.0,57.2C610.3,60.1 612.0,65.2 613.5,65.2C615.0,65.2 616.8,60.1 618.1,57.2C619.4,54.4 620.4,51.1 621.5,48.1C622.6,45.1 623.9,40.7 624.9,39.0C625.9,37.3 626.5,37.7 627.8,37.8C629.1,37.9 631.1,38.0 632.9,39.5C634.7,41.0 636.6,43.4 638.6,46.9C640.6,50.4 642.7,57.0 645.0,60.6C647.3,64.2 649.9,66.6 652.4,68.2C654.9,69.8 657.8,71.4 659.7,70.4C661.6,69.5 662.5,66.8 663.7,62.5C664.9,58.2 666.0,50.4 667.1,44.4C668.2,38.4 669.7,31.4 670.5,26.3C671.3,21.2 671.8,16.1 672.1,14.0M459.9,14.0C460.6,15.7 462.4,20.7 464.0,24.0C465.6,27.3 467.4,30.9 469.2,33.9C471.0,36.9 473.4,40.2 475.0,42.0C476.6,43.8 477.7,44.0 479.0,44.5C480.3,45.0 481.3,45.6 482.6,45.0C483.9,44.4 485.6,42.4 486.7,40.9C487.8,39.4 488.1,36.6 489.1,36.0C490.1,35.4 491.4,36.0 492.6,37.4C493.8,38.8 494.9,41.9 496.1,44.4C497.3,46.9 498.3,49.4 499.6,52.6C500.9,55.8 503.0,61.7 503.7,63.5M451.7,14.0C452.7,16.3 455.6,23.9 457.5,28.0C459.4,32.1 461.4,35.4 463.4,38.5C465.3,41.6 467.3,44.2 469.2,46.7C471.1,49.2 473.2,52.0 475.0,53.7C476.8,55.5 478.4,56.5 479.7,57.2C481.0,57.9 481.4,58.0 482.6,57.8C483.8,57.6 485.2,57.2 486.7,56.1C488.2,55.0 489.8,53.2 491.4,51.4C493.0,49.6 494.6,47.8 496.1,45.5C497.7,43.2 499.4,39.9 500.7,37.4C502.0,34.9 502.7,32.8 503.7,30.4C504.7,28.0 505.7,26.0 506.6,23.3C507.5,20.6 508.5,15.6 508.9,14.0M499.0,14.0C499.4,15.0 500.7,18.2 501.5,20.0C502.3,21.8 502.9,25.0 504.0,25.0C505.1,25.0 506.6,21.8 508.0,20.0C509.4,18.2 511.7,15.0 512.4,14.0M470.4,14.0C470.8,15.9 471.9,21.8 472.7,25.7C473.5,29.6 474.4,34.9 475.0,37.4C475.6,39.9 476.2,40.4 476.5,41.0M527.0,14.0C527.4,16.7 528.2,24.8 529.2,30.0C530.2,35.2 531.6,40.1 533.0,45.2C534.4,50.3 536.3,56.9 537.6,60.4C538.9,63.9 539.7,65.1 540.7,66.5C541.7,67.9 542.6,69.0 543.7,68.8C544.8,68.5 546.2,67.7 547.5,65.0C548.8,62.3 550.1,57.1 551.3,52.8C552.4,48.5 553.5,43.7 554.4,39.1C555.3,34.5 556.0,29.2 556.5,25.0C557.0,20.8 557.3,15.8 557.5,14.0M590.7,14.0C591.5,16.1 593.8,23.2 595.3,26.4C596.8,29.6 598.8,32.0 599.8,33.2C600.8,34.4 600.2,34.8 601.5,33.8C602.8,32.8 605.8,29.0 607.8,27.5C609.8,26.0 611.6,24.7 613.5,24.7C615.4,24.7 617.3,26.0 619.2,27.5C621.1,29.0 623.7,32.8 624.9,33.8C626.1,34.8 625.7,34.2 626.5,33.2C627.3,32.2 628.0,30.7 629.5,27.5C631.0,24.3 634.2,16.2 635.2,14.0M607.2,14.0C607.7,14.9 609.0,17.8 610.0,19.5C611.0,21.2 612.3,24.1 613.5,24.1C614.7,24.1 616.0,21.2 617.0,19.5C618.0,17.8 619.3,14.9 619.8,14.0M373.6,43.7C374.4,43.3 376.8,42.4 378.3,41.1C379.8,39.8 381.2,38.5 382.4,35.9C383.6,33.3 384.8,29.0 385.6,25.4C386.4,21.8 386.9,15.9 387.2,14.0M373.6,57.3C374.0,56.9 375.0,57.1 376.0,55.0C377.0,52.9 378.8,47.7 379.8,44.4C380.8,41.1 381.2,38.0 382.0,35.0C382.8,32.0 383.6,29.8 384.3,26.3C385.0,22.8 385.7,16.1 386.0,14.0M413.7,48.0C414.1,46.3 415.2,41.5 416.0,38.0C416.8,34.5 417.7,31.0 418.5,27.0C419.3,23.0 420.3,16.2 420.7,14.0M394.0,14.0C394.6,14.7 395.8,16.0 397.9,18.4C400.0,20.8 404.3,26.0 406.9,28.3C409.5,30.6 412.2,33.0 413.7,32.0C415.2,30.9 415.4,25.0 416.0,22.0C416.6,19.0 417.2,15.3 417.5,14.0M400.0,14.0C401.1,14.6 404.6,16.5 406.9,17.5C409.2,18.5 412.6,19.6 413.7,20.0M373.6,140.6C374.6,141.4 377.3,142.9 379.6,145.5C381.9,148.1 384.7,152.3 387.2,155.9C389.7,159.5 392.3,163.8 394.8,167.3C397.3,170.8 399.9,174.0 402.4,176.8C404.9,179.7 408.1,182.8 410.0,184.4C411.9,186.1 412.5,185.1 413.8,186.7C415.1,188.3 416.3,189.8 417.6,193.9C418.9,198.0 420.7,206.3 421.8,211.0C422.9,215.7 423.6,218.0 424.5,222.0C425.4,226.0 426.8,232.8 427.3,235.0M373.6,151.2C374.6,152.0 377.7,153.5 379.6,155.9C381.6,158.3 383.4,161.6 385.3,165.4C387.2,169.2 389.1,173.9 391.0,178.7C392.9,183.4 394.8,188.8 396.7,193.9C398.6,199.0 400.5,204.3 402.4,209.1C404.3,213.9 406.4,218.2 408.1,222.5C409.8,226.8 411.8,232.9 412.5,235.0M374.5,142.0C375.0,144.0 376.7,148.8 377.7,154.0C378.7,159.2 379.7,166.7 380.6,173.0C381.6,179.3 382.4,185.7 383.4,192.0C384.3,198.3 385.3,203.8 386.3,211.0C387.3,218.2 389.0,231.0 389.5,235.0M373.6,190.1C374.3,190.8 376.4,192.4 377.7,194.0C379.0,195.6 380.2,197.4 381.5,199.6C382.8,201.8 384.0,204.7 385.3,207.2C386.6,209.7 387.5,212.2 389.1,214.8C390.7,217.4 392.9,220.3 394.8,222.5C396.7,224.7 398.6,226.1 400.5,228.2C402.4,230.3 405.1,233.9 406.0,235.0M373.6,193.0C374.1,194.4 375.8,197.9 376.8,201.5C377.8,205.1 378.7,210.1 379.6,214.8C380.6,219.6 381.9,226.6 382.5,230.0C383.1,233.4 383.3,234.2 383.5,235.0M444.0,235.0C445.3,230.8 449.3,218.0 452.0,209.8C454.7,201.6 457.4,193.6 460.0,185.9C462.6,178.2 465.2,170.4 467.9,163.9C470.5,157.4 473.5,150.9 475.9,147.0C478.3,143.1 480.2,140.8 482.5,140.6C484.8,140.4 487.3,142.8 489.9,146.0C492.5,149.2 495.6,155.8 497.9,159.9C500.2,164.1 502.4,167.4 503.9,170.9C505.4,174.4 505.9,177.8 507.0,181.0C508.1,184.2 509.1,186.3 510.3,190.0C511.5,193.7 512.7,198.3 514.0,203.0C515.3,207.7 516.6,212.8 518.0,218.0C519.4,223.2 521.7,230.8 522.5,234.0C523.3,237.2 522.9,236.5 523.0,237.0M527.0,236.0C527.8,235.0 530.2,231.8 532.0,230.0C533.8,228.2 536.1,226.5 538.0,225.0C539.9,223.5 542.3,220.6 543.6,220.8C544.9,221.0 545.1,223.5 546.0,226.0C546.9,228.5 548.3,234.3 548.8,236.0M464.0,235.0C464.6,230.8 466.6,217.3 467.9,209.8C469.2,202.3 470.6,197.2 471.9,189.9C473.2,182.6 474.6,172.1 475.9,165.9C477.2,159.8 478.8,155.5 479.9,153.0C481.0,150.5 481.5,150.5 482.5,151.0C483.5,151.5 484.7,151.2 485.9,156.0C487.1,160.8 488.6,171.6 489.9,179.9C491.2,188.2 492.6,196.6 493.9,205.8C495.2,215.0 497.2,230.1 497.9,235.0M466.0,235.0C466.6,231.5 468.4,220.0 469.9,213.8C471.4,207.6 473.2,201.6 474.9,197.9C476.6,194.2 478.6,193.1 479.9,191.9C481.2,190.7 481.2,191.4 482.5,190.9C483.8,190.4 486.2,189.7 487.9,188.9C489.6,188.1 491.1,187.7 492.9,185.9C494.7,184.1 497.1,180.4 498.9,177.9C500.7,175.4 502.1,171.2 503.9,170.9C505.7,170.6 507.2,172.7 509.9,175.9C512.5,179.1 516.5,185.2 519.8,189.9C523.1,194.6 526.8,199.9 529.8,203.9C532.8,207.9 535.5,211.1 537.8,213.8C540.1,216.5 541.7,220.1 543.8,220.0C545.9,219.9 548.0,215.1 550.6,213.2C553.2,211.3 557.0,209.6 559.7,208.7C562.4,207.8 564.3,207.2 566.9,207.6C569.5,208.0 572.9,209.3 575.5,211.0C578.1,212.7 580.2,215.4 582.3,217.8C584.4,220.2 586.6,223.8 588.0,225.7C589.4,227.6 589.2,232.2 590.5,229.0C591.8,225.8 593.9,213.6 595.9,206.4C597.9,199.2 600.6,191.6 602.7,186.1C604.8,180.6 606.5,176.0 608.3,173.6C610.1,171.2 611.6,171.4 613.3,171.4C615.0,171.4 616.7,171.2 618.5,173.6C620.3,176.0 622.1,180.6 624.2,186.1C626.3,191.6 628.7,199.6 630.9,206.4C633.1,213.2 634.8,225.5 637.2,227.0C639.7,228.5 642.9,218.6 645.6,215.5C648.3,212.4 651.2,210.0 653.6,208.7C656.0,207.4 658.0,206.8 659.7,207.6C661.4,208.3 662.5,210.8 663.7,213.2C664.9,215.6 666.0,218.7 667.1,222.3C668.2,225.9 669.9,232.9 670.5,235.0M593.6,235.0C594.7,231.8 598.1,223.3 600.4,215.5C602.7,207.7 605.1,195.3 607.2,188.3C609.4,181.3 611.2,173.6 613.3,173.6C615.4,173.6 617.4,181.3 619.6,188.3C621.8,195.3 624.1,207.7 626.4,215.5C628.7,223.3 632.1,231.8 633.2,235.0M661.0,14.0C661.4,16.0 662.6,19.9 663.5,26.0C664.4,32.1 665.5,44.1 666.6,50.6C667.7,57.1 668.8,60.3 670.0,65.0C671.2,69.7 672.8,74.7 674.0,79.0C675.2,83.3 676.3,87.3 677.5,91.0C678.7,94.7 680.4,99.3 681.0,101.0" fill="none" stroke="#3b63ea" stroke-width="2.0" stroke-linejoin="round" stroke-linecap="round"/>
</g>
<g clip-path="url(#clipd)">
<path d="M398.1,400.0C399.2,397.0 402.5,386.7 404.4,382.0C406.3,377.3 407.5,374.2 409.6,372.0C411.7,369.8 414.6,370.7 416.9,368.5C419.2,366.3 421.1,363.0 423.2,359.0C425.3,355.0 427.4,350.0 429.5,344.4C431.6,338.8 433.7,331.9 435.8,325.6C437.9,319.3 440.4,310.7 442.0,306.7C443.6,302.7 443.8,301.5 445.6,301.5C447.4,301.5 450.1,303.4 452.6,306.7C455.2,310.0 458.1,315.8 460.9,321.4C463.7,327.0 466.9,333.9 469.3,340.2C471.8,346.5 474.2,354.9 475.6,359.0C477.0,363.1 476.4,364.9 477.5,364.5C478.6,364.1 480.6,359.9 482.4,356.5C484.2,353.1 487.0,347.9 488.5,344.4C490.0,340.8 490.6,335.6 491.5,335.2C492.4,334.8 493.2,337.9 494.0,342.0C494.8,346.1 495.3,353.9 496.4,359.6C497.5,365.3 499.2,371.5 500.7,376.3C502.2,381.1 503.9,384.6 505.2,388.5C506.5,392.4 507.2,396.8 508.3,400.0C509.4,403.2 510.4,406.1 512.0,408.0C513.6,409.9 515.8,411.6 517.8,411.3C519.8,411.0 522.0,408.6 524.0,406.0C526.0,403.4 528.1,399.5 530.0,396.0C531.9,392.5 533.3,389.3 535.6,385.0C537.9,380.7 541.5,375.8 543.9,370.0C546.3,364.2 548.2,355.9 550.2,350.0C552.2,344.1 553.9,336.5 555.7,334.6C557.5,332.7 558.8,337.7 560.8,338.8C562.8,339.9 565.8,340.5 567.7,341.4C569.6,342.3 570.6,341.6 572.0,344.0C573.4,346.4 574.6,351.4 576.2,356.0C577.8,360.6 579.7,366.5 581.4,371.4C583.1,376.2 584.8,380.2 586.5,385.1C588.2,390.0 590.2,397.4 591.6,400.5C593.0,403.6 593.5,404.3 594.7,403.9C595.9,403.5 597.5,399.8 599.0,398.0C600.5,396.2 602.1,393.7 603.4,393.1C604.6,392.5 605.5,393.9 606.5,394.5C607.5,395.1 608.3,395.7 609.6,396.5C610.9,397.3 612.9,398.8 614.5,399.5C616.1,400.2 617.8,401.5 619.3,401.0C620.8,400.5 621.9,399.5 623.3,396.5C624.7,393.5 626.7,387.2 627.9,382.8C629.1,378.4 629.7,374.6 630.5,370.0C631.3,365.4 631.8,359.0 632.5,355.0C633.2,351.0 633.4,348.1 634.5,346.0C635.6,343.9 637.2,344.6 639.4,342.3C641.6,340.1 645.5,336.6 647.8,332.5C650.1,328.4 651.4,322.0 653.0,318.0C654.6,314.0 656.3,309.0 657.6,308.5C658.9,308.0 659.7,310.9 661.0,315.0C662.3,319.1 663.4,324.8 665.5,333.0C667.6,341.2 671.3,356.2 673.5,364.0C675.7,371.8 677.9,377.3 678.8,380.0M373.6,359.0C374.6,362.1 377.3,371.4 379.3,377.9C381.3,384.4 383.6,392.8 385.6,398.0C387.6,403.2 389.2,408.3 391.1,409.0C393.0,409.7 395.2,405.2 397.0,402.0C398.8,398.8 399.9,395.0 402.0,390.0C404.1,385.0 408.3,375.0 409.6,372.0M500.0,357.0C501.4,359.4 505.6,367.1 508.4,371.6C511.2,376.1 514.3,380.3 516.7,384.1C519.1,387.9 522.0,392.9 523.0,394.6M378.5,335.0C378.7,333.4 379.2,329.2 379.8,325.7C380.4,322.2 381.2,317.9 382.0,314.0C382.8,310.1 383.7,305.8 384.5,302.0C385.3,298.2 386.3,293.5 386.7,291.5C387.1,289.5 386.9,290.2 387.0,290.0M383.5,336.0C383.8,334.4 384.4,330.0 385.2,326.5C385.9,323.0 387.0,319.1 388.0,315.0C389.0,310.9 390.1,305.9 391.0,302.0C391.9,298.1 393.0,293.5 393.5,291.5C394.0,289.5 393.9,290.2 394.0,290.0M500.0,348.6C502.1,346.5 508.4,341.2 512.6,336.0C516.8,330.8 521.5,323.2 525.1,317.2C528.7,311.2 531.7,304.5 534.0,300.0C536.3,295.5 537.9,291.7 538.7,290.0M567.0,290.0C568.2,292.7 571.5,300.7 574.0,306.0C576.5,311.3 579.3,317.0 582.0,322.0C584.7,327.0 587.9,332.8 590.0,336.0C592.1,339.2 592.9,341.3 594.6,341.3C596.3,341.3 598.1,339.2 600.0,336.0C601.9,332.8 604.0,327.0 606.0,322.0C608.0,317.0 610.3,310.5 612.0,306.0C613.7,301.5 615.3,296.8 616.0,295.0M614.3,310.9C615.3,313.0 618.5,320.0 620.6,323.5C622.7,327.0 624.7,330.1 626.8,331.8C628.9,333.5 631.4,335.6 633.1,333.9C634.9,332.2 635.9,328.4 637.3,321.4C638.7,314.4 640.8,297.0 641.5,292.1M660.0,290.0C661.3,291.2 664.9,295.0 668.0,297.0C671.1,299.0 677.0,301.2 678.8,302.0M444.0,416.0C442.8,419.0 439.3,426.0 437.0,433.9C434.7,441.8 432.2,453.9 430.3,463.3C428.4,472.7 427.1,482.7 425.8,490.5C424.5,498.3 422.9,506.8 422.3,510.0M373.6,466.0C376.5,466.7 385.1,469.0 391.1,470.0C397.1,471.0 405.2,474.7 409.7,472.0C414.2,469.3 415.3,459.9 418.2,454.0C421.1,448.1 424.3,442.0 427.3,436.5C430.3,431.0 433.3,424.4 436.3,421.0C439.3,417.6 442.4,415.7 445.4,416.0C448.4,416.3 451.4,419.7 454.4,423.0C457.4,426.3 460.5,431.7 463.5,436.0C466.5,440.3 469.5,445.3 472.5,449.0C475.5,452.7 478.6,455.7 481.6,458.0C484.6,460.3 488.2,461.7 490.6,463.0C493.1,464.3 494.7,465.0 496.3,466.0C497.9,467.0 498.9,467.7 500.0,469.0C501.1,470.3 502.0,471.8 503.0,474.0C504.0,476.2 505.0,479.0 506.0,482.0C507.0,485.0 508.0,488.8 509.0,492.0C510.0,495.2 511.0,498.0 512.0,501.0C513.0,504.0 514.5,508.5 515.0,510.0M395.8,487.8C397.2,488.1 401.7,489.1 404.0,489.5C406.3,489.9 408.2,490.4 409.5,490.0C410.8,489.6 411.2,488.4 412.0,487.0C412.8,485.6 413.1,486.4 414.1,481.7C415.1,477.0 415.6,465.4 418.2,459.0C420.8,452.6 425.1,448.5 429.6,443.0C434.1,437.5 440.5,427.2 445.4,426.0C450.3,424.8 455.2,431.7 459.0,436.0C462.8,440.3 465.0,446.0 468.0,452.0C471.0,458.0 474.5,470.2 477.1,472.0C479.8,473.8 481.6,468.0 483.9,463.0C486.1,458.0 488.5,446.1 490.6,442.0C492.7,437.9 494.0,438.8 496.3,438.5C498.6,438.2 501.4,437.4 504.2,440.0C507.0,442.6 510.3,448.7 513.3,454.0C516.3,459.3 519.8,466.8 522.3,472.0C524.8,477.2 526.2,480.5 528.0,485.0C529.8,489.5 531.7,494.8 533.0,499.0C534.3,503.2 535.5,508.2 536.0,510.0M373.6,440.0C374.7,442.0 377.8,447.7 380.0,452.0C382.2,456.3 384.6,460.7 386.6,466.0C388.6,471.3 390.4,479.0 392.0,484.0C393.6,489.0 394.7,491.7 396.0,496.0C397.3,500.3 399.3,507.7 400.0,510.0M570.2,476.9C572.5,478.0 579.8,482.4 583.8,483.7C587.8,485.0 591.1,483.3 594.5,484.8C597.9,486.3 600.7,490.4 604.2,492.8C607.7,495.2 612.1,498.0 615.5,499.5C618.9,501.0 621.9,500.1 624.5,501.8C627.1,503.6 630.2,508.6 631.3,510.0M579.0,510.0C580.3,507.3 584.4,498.2 587.0,494.0C589.6,489.8 592.0,484.5 594.5,484.8C597.0,485.1 599.9,491.8 602.0,496.0C604.1,500.2 606.2,507.7 607.0,510.0M594.5,482.6C596.1,480.2 601.1,472.0 604.2,468.5C607.3,465.0 610.6,462.8 613.2,461.5C615.8,460.2 617.4,460.1 620.0,460.5C622.6,460.9 626.1,463.0 629.1,464.0C632.1,465.0 634.7,467.0 638.1,466.5C641.5,466.0 647.5,461.9 649.4,461.0M654.0,510.0C655.2,504.8 658.7,489.0 661.0,479.0C663.3,469.0 665.8,458.3 668.0,449.8C670.2,441.3 672.2,432.8 674.0,428.0C675.8,423.2 678.0,422.2 678.8,421.0M526.0,478.0C527.0,480.8 530.3,489.7 532.0,495.0C533.7,500.3 535.3,507.5 536.0,510.0M373.6,330.8C375.2,332.7 380.1,339.0 383.5,342.3C386.9,345.6 390.4,348.2 393.9,350.7C397.4,353.1 401.8,355.4 404.4,357.0C407.0,358.6 407.9,358.7 409.6,360.1C411.3,361.5 412.9,362.3 414.8,365.3C416.7,368.3 419.0,373.7 421.1,377.9C423.2,382.1 425.4,386.5 427.4,390.4C429.4,394.2 431.1,398.5 433.0,401.0C434.9,403.5 436.9,404.6 439.0,405.5C441.1,406.4 443.2,406.5 445.4,406.5C447.6,406.5 449.9,406.6 452.0,405.5C454.1,404.4 456.0,403.5 458.0,400.0C460.0,396.5 462.1,388.8 464.1,384.5C466.1,380.2 467.8,376.6 470.0,374.0C472.2,371.4 475.3,369.1 477.1,368.7C478.9,368.3 479.2,370.1 480.9,371.8C482.5,373.5 485.2,377.9 487.0,378.6C488.8,379.4 489.9,379.2 491.5,376.3C493.1,373.4 494.9,364.9 496.4,361.1C497.9,357.3 498.8,355.9 500.7,353.5C502.6,351.1 505.6,349.3 508.0,347.0C510.4,344.7 512.1,344.8 515.0,339.8C517.9,334.8 521.3,324.8 525.1,317.2C528.9,309.6 535.4,298.7 537.7,294.2C540.0,289.7 538.8,290.7 539.0,290.0M561.0,290.0C561.8,292.5 564.1,300.0 565.5,305.0C566.9,310.0 567.9,314.6 569.4,320.0C570.9,325.4 572.8,331.4 574.5,337.1C576.2,342.8 578.0,348.8 579.7,354.2C581.4,359.6 583.1,365.1 584.8,369.7C586.5,374.3 588.2,379.0 589.9,381.6C591.5,384.2 593.2,385.2 594.7,385.1C596.2,385.0 597.6,383.2 599.0,381.0C600.4,378.8 601.8,374.7 603.0,372.0C604.2,369.3 605.1,367.0 606.0,365.0C606.9,363.0 607.7,362.2 608.5,360.0C609.3,357.8 610.1,354.8 611.0,352.0C611.9,349.2 613.0,346.0 614.0,343.0C615.0,340.0 616.0,336.8 617.0,334.0C618.0,331.2 619.5,327.3 620.0,326.0M452.0,290.0C452.8,290.8 455.4,293.3 457.0,295.0C458.6,296.7 459.6,295.8 461.7,300.0C463.8,304.2 467.0,314.4 469.6,320.0C472.2,325.6 474.9,329.3 477.6,333.3C480.3,337.3 483.2,341.1 485.6,344.0C488.1,346.9 490.5,349.2 492.3,350.6C494.1,352.0 495.7,352.2 496.4,352.5M470.0,308.0C471.3,310.0 475.0,316.4 477.6,320.0C480.2,323.6 483.4,327.3 485.6,329.3C487.8,331.3 489.2,331.8 491.0,332.0C492.8,332.2 494.6,331.6 496.3,330.6C498.0,329.6 499.4,328.1 501.0,326.0C502.6,323.9 504.3,321.0 506.0,318.0C507.7,315.0 510.2,309.7 511.0,308.0M385.2,511.0C385.8,508.8 387.7,501.8 389.0,498.0C390.3,494.2 391.8,490.3 393.0,488.0C394.2,485.7 395.5,484.7 396.0,484.0M496.7,467.0C495.6,468.2 492.4,471.4 490.0,474.0C487.6,476.6 484.8,479.6 482.0,482.5C479.2,485.4 475.7,488.8 473.0,491.5C470.3,494.2 468.5,495.9 466.0,499.0C463.5,502.1 459.3,508.2 458.0,510.0" fill="none" stroke="#cf9f36" stroke-width="1.45" stroke-linejoin="round"/>
<path d="M371.9,350.7a1.75,1.75 0 1,0 3.5,0a1.75,1.75 0 1,0 -3.5,0M373.7,354.2a1.75,1.75 0 1,0 3.5,0a1.75,1.75 0 1,0 -3.5,0M375.6,357.6a1.75,1.75 0 1,0 3.5,0a1.75,1.75 0 1,0 -3.5,0M377.4,360.9a1.75,1.75 0 1,0 3.5,0a1.75,1.75 0 1,0 -3.5,0M379.3,364.2a1.75,1.75 0 1,0 3.5,0a1.75,1.75 0 1,0 -3.5,0M381.1,367.4a1.75,1.75 0 1,0 3.5,0a1.75,1.75 0 1,0 -3.5,0M383.0,370.5a1.75,1.75 0 1,0 3.5,0a1.75,1.75 0 1,0 -3.5,0M384.9,373.0a1.75,1.75 0 1,0 3.5,0a1.75,1.75 0 1,0 -3.5,0M386.8,375.4a1.75,1.75 0 1,0 3.5,0a1.75,1.75 0 1,0 -3.5,0M388.7,377.0a1.75,1.75 0 1,0 3.5,0a1.75,1.75 0 1,0 -3.5,0M390.6,377.3a1.75,1.75 0 1,0 3.5,0a1.75,1.75 0 1,0 -3.5,0M392.6,376.2a1.75,1.75 0 1,0 3.5,0a1.75,1.75 0 1,0 -3.5,0M394.4,374.3a1.75,1.75 0 1,0 3.5,0a1.75,1.75 0 1,0 -3.5,0M396.2,371.8a1.75,1.75 0 1,0 3.5,0a1.75,1.75 0 1,0 -3.5,0M398.1,368.6a1.75,1.75 0 1,0 3.5,0a1.75,1.75 0 1,0 -3.5,0M399.9,364.8a1.75,1.75 0 1,0 3.5,0a1.75,1.75 0 1,0 -3.5,0M401.8,360.7a1.75,1.75 0 1,0 3.5,0a1.75,1.75 0 1,0 -3.5,0M403.6,357.1a1.75,1.75 0 1,0 3.5,0a1.75,1.75 0 1,0 -3.5,0M405.5,353.3a1.75,1.75 0 1,0 3.5,0a1.75,1.75 0 1,0 -3.5,0M407.3,350.2a1.75,1.75 0 1,0 3.5,0a1.75,1.75 0 1,0 -3.5,0M409.1,348.8a1.75,1.75 0 1,0 3.5,0a1.75,1.75 0 1,0 -3.5,0M410.9,350.0a1.75,1.75 0 1,0 3.5,0a1.75,1.75 0 1,0 -3.5,0M412.9,352.6a1.75,1.75 0 1,0 3.5,0a1.75,1.75 0 1,0 -3.5,0M414.7,354.9a1.75,1.75 0 1,0 3.5,0a1.75,1.75 0 1,0 -3.5,0M416.6,357.3a1.75,1.75 0 1,0 3.5,0a1.75,1.75 0 1,0 -3.5,0M418.5,359.9a1.75,1.75 0 1,0 3.5,0a1.75,1.75 0 1,0 -3.5,0M420.3,362.4a1.75,1.75 0 1,0 3.5,0a1.75,1.75 0 1,0 -3.5,0M422.1,364.8a1.75,1.75 0 1,0 3.5,0a1.75,1.75 0 1,0 -3.5,0M424.1,367.4a1.75,1.75 0 1,0 3.5,0a1.75,1.75 0 1,0 -3.5,0M425.9,369.8a1.75,1.75 0 1,0 3.5,0a1.75,1.75 0 1,0 -3.5,0M427.7,372.2a1.75,1.75 0 1,0 3.5,0a1.75,1.75 0 1,0 -3.5,0M429.6,374.7a1.75,1.75 0 1,0 3.5,0a1.75,1.75 0 1,0 -3.5,0M431.4,377.0a1.75,1.75 0 1,0 3.5,0a1.75,1.75 0 1,0 -3.5,0M433.2,379.1a1.75,1.75 0 1,0 3.5,0a1.75,1.75 0 1,0 -3.5,0M435.1,381.1a1.75,1.75 0 1,0 3.5,0a1.75,1.75 0 1,0 -3.5,0M437.0,383.2a1.75,1.75 0 1,0 3.5,0a1.75,1.75 0 1,0 -3.5,0M438.8,385.2a1.75,1.75 0 1,0 3.5,0a1.75,1.75 0 1,0 -3.5,0M440.6,386.9a1.75,1.75 0 1,0 3.5,0a1.75,1.75 0 1,0 -3.5,0M442.6,388.0a1.75,1.75 0 1,0 3.5,0a1.75,1.75 0 1,0 -3.5,0M444.5,388.3a1.75,1.75 0 1,0 3.5,0a1.75,1.75 0 1,0 -3.5,0M446.4,387.9a1.75,1.75 0 1,0 3.5,0a1.75,1.75 0 1,0 -3.5,0M448.4,386.9a1.75,1.75 0 1,0 3.5,0a1.75,1.75 0 1,0 -3.5,0M450.3,385.6a1.75,1.75 0 1,0 3.5,0a1.75,1.75 0 1,0 -3.5,0M452.3,384.1a1.75,1.75 0 1,0 3.5,0a1.75,1.75 0 1,0 -3.5,0M454.3,382.5a1.75,1.75 0 1,0 3.5,0a1.75,1.75 0 1,0 -3.5,0M456.1,381.1a1.75,1.75 0 1,0 3.5,0a1.75,1.75 0 1,0 -3.5,0M458.1,379.4a1.75,1.75 0 1,0 3.5,0a1.75,1.75 0 1,0 -3.5,0M460.0,377.6a1.75,1.75 0 1,0 3.5,0a1.75,1.75 0 1,0 -3.5,0M461.9,375.6a1.75,1.75 0 1,0 3.5,0a1.75,1.75 0 1,0 -3.5,0M463.7,373.6a1.75,1.75 0 1,0 3.5,0a1.75,1.75 0 1,0 -3.5,0M465.6,371.4a1.75,1.75 0 1,0 3.5,0a1.75,1.75 0 1,0 -3.5,0M467.4,369.0a1.75,1.75 0 1,0 3.5,0a1.75,1.75 0 1,0 -3.5,0M469.3,366.2a1.75,1.75 0 1,0 3.5,0a1.75,1.75 0 1,0 -3.5,0M471.2,363.1a1.75,1.75 0 1,0 3.5,0a1.75,1.75 0 1,0 -3.5,0M473.1,360.2a1.75,1.75 0 1,0 3.5,0a1.75,1.75 0 1,0 -3.5,0M474.9,357.4a1.75,1.75 0 1,0 3.5,0a1.75,1.75 0 1,0 -3.5,0M476.8,354.8a1.75,1.75 0 1,0 3.5,0a1.75,1.75 0 1,0 -3.5,0M478.6,352.3a1.75,1.75 0 1,0 3.5,0a1.75,1.75 0 1,0 -3.5,0M480.5,350.2a1.75,1.75 0 1,0 3.5,0a1.75,1.75 0 1,0 -3.5,0M482.5,348.3a1.75,1.75 0 1,0 3.5,0a1.75,1.75 0 1,0 -3.5,0M484.3,346.9a1.75,1.75 0 1,0 3.5,0a1.75,1.75 0 1,0 -3.5,0M486.2,346.1a1.75,1.75 0 1,0 3.5,0a1.75,1.75 0 1,0 -3.5,0M488.2,346.1a1.75,1.75 0 1,0 3.5,0a1.75,1.75 0 1,0 -3.5,0M490.2,346.8a1.75,1.75 0 1,0 3.5,0a1.75,1.75 0 1,0 -3.5,0M492.1,347.9a1.75,1.75 0 1,0 3.5,0a1.75,1.75 0 1,0 -3.5,0M494.0,349.2a1.75,1.75 0 1,0 3.5,0a1.75,1.75 0 1,0 -3.5,0M495.9,351.0a1.75,1.75 0 1,0 3.5,0a1.75,1.75 0 1,0 -3.5,0M497.8,354.0a1.75,1.75 0 1,0 3.5,0a1.75,1.75 0 1,0 -3.5,0M499.6,357.1a1.75,1.75 0 1,0 3.5,0a1.75,1.75 0 1,0 -3.5,0M501.5,360.4a1.75,1.75 0 1,0 3.5,0a1.75,1.75 0 1,0 -3.5,0M503.3,363.8a1.75,1.75 0 1,0 3.5,0a1.75,1.75 0 1,0 -3.5,0M505.2,367.5a1.75,1.75 0 1,0 3.5,0a1.75,1.75 0 1,0 -3.5,0M507.1,371.4a1.75,1.75 0 1,0 3.5,0a1.75,1.75 0 1,0 -3.5,0M508.9,375.1a1.75,1.75 0 1,0 3.5,0a1.75,1.75 0 1,0 -3.5,0M510.7,379.1a1.75,1.75 0 1,0 3.5,0a1.75,1.75 0 1,0 -3.5,0M512.6,382.8a1.75,1.75 0 1,0 3.5,0a1.75,1.75 0 1,0 -3.5,0M514.5,385.4a1.75,1.75 0 1,0 3.5,0a1.75,1.75 0 1,0 -3.5,0M516.5,386.5a1.75,1.75 0 1,0 3.5,0a1.75,1.75 0 1,0 -3.5,0M518.3,388.2a1.75,1.75 0 1,0 3.5,0a1.75,1.75 0 1,0 -3.5,0M520.1,390.2a1.75,1.75 0 1,0 3.5,0a1.75,1.75 0 1,0 -3.5,0M522.1,392.0a1.75,1.75 0 1,0 3.5,0a1.75,1.75 0 1,0 -3.5,0M524.0,392.5a1.75,1.75 0 1,0 3.5,0a1.75,1.75 0 1,0 -3.5,0M526.0,392.1a1.75,1.75 0 1,0 3.5,0a1.75,1.75 0 1,0 -3.5,0M527.9,390.8a1.75,1.75 0 1,0 3.5,0a1.75,1.75 0 1,0 -3.5,0M529.8,388.9a1.75,1.75 0 1,0 3.5,0a1.75,1.75 0 1,0 -3.5,0M531.6,386.4a1.75,1.75 0 1,0 3.5,0a1.75,1.75 0 1,0 -3.5,0M533.4,383.3a1.75,1.75 0 1,0 3.5,0a1.75,1.75 0 1,0 -3.5,0M535.3,379.5a1.75,1.75 0 1,0 3.5,0a1.75,1.75 0 1,0 -3.5,0M537.0,375.3a1.75,1.75 0 1,0 3.5,0a1.75,1.75 0 1,0 -3.5,0M538.5,371.2a1.75,1.75 0 1,0 3.5,0a1.75,1.75 0 1,0 -3.5,0M540.0,366.9a1.75,1.75 0 1,0 3.5,0a1.75,1.75 0 1,0 -3.5,0M541.4,362.5a1.75,1.75 0 1,0 3.5,0a1.75,1.75 0 1,0 -3.5,0M542.7,358.2a1.75,1.75 0 1,0 3.5,0a1.75,1.75 0 1,0 -3.5,0M544.0,353.9a1.75,1.75 0 1,0 3.5,0a1.75,1.75 0 1,0 -3.5,0M545.2,349.6a1.75,1.75 0 1,0 3.5,0a1.75,1.75 0 1,0 -3.5,0M546.4,345.3a1.75,1.75 0 1,0 3.5,0a1.75,1.75 0 1,0 -3.5,0M547.6,341.0a1.75,1.75 0 1,0 3.5,0a1.75,1.75 0 1,0 -3.5,0M548.9,336.7a1.75,1.75 0 1,0 3.5,0a1.75,1.75 0 1,0 -3.5,0M550.0,332.3a1.75,1.75 0 1,0 3.5,0a1.75,1.75 0 1,0 -3.5,0M551.1,328.0a1.75,1.75 0 1,0 3.5,0a1.75,1.75 0 1,0 -3.5,0M552.7,323.9a1.75,1.75 0 1,0 3.5,0a1.75,1.75 0 1,0 -3.5,0M554.6,323.1a1.75,1.75 0 1,0 3.5,0a1.75,1.75 0 1,0 -3.5,0M556.4,324.5a1.75,1.75 0 1,0 3.5,0a1.75,1.75 0 1,0 -3.5,0M558.2,326.2a1.75,1.75 0 1,0 3.5,0a1.75,1.75 0 1,0 -3.5,0M560.1,326.9a1.75,1.75 0 1,0 3.5,0a1.75,1.75 0 1,0 -3.5,0M562.0,327.0a1.75,1.75 0 1,0 3.5,0a1.75,1.75 0 1,0 -3.5,0M563.8,327.1a1.75,1.75 0 1,0 3.5,0a1.75,1.75 0 1,0 -3.5,0M565.7,328.1a1.75,1.75 0 1,0 3.5,0a1.75,1.75 0 1,0 -3.5,0M567.6,329.7a1.75,1.75 0 1,0 3.5,0a1.75,1.75 0 1,0 -3.5,0M569.4,332.0a1.75,1.75 0 1,0 3.5,0a1.75,1.75 0 1,0 -3.5,0M571.3,335.7a1.75,1.75 0 1,0 3.5,0a1.75,1.75 0 1,0 -3.5,0M572.8,340.0a1.75,1.75 0 1,0 3.5,0a1.75,1.75 0 1,0 -3.5,0M574.2,344.3a1.75,1.75 0 1,0 3.5,0a1.75,1.75 0 1,0 -3.5,0M575.6,348.6a1.75,1.75 0 1,0 3.5,0a1.75,1.75 0 1,0 -3.5,0M577.1,353.0a1.75,1.75 0 1,0 3.5,0a1.75,1.75 0 1,0 -3.5,0M578.5,357.3a1.75,1.75 0 1,0 3.5,0a1.75,1.75 0 1,0 -3.5,0M579.9,361.5a1.75,1.75 0 1,0 3.5,0a1.75,1.75 0 1,0 -3.5,0M581.3,365.7a1.75,1.75 0 1,0 3.5,0a1.75,1.75 0 1,0 -3.5,0M582.9,369.9a1.75,1.75 0 1,0 3.5,0a1.75,1.75 0 1,0 -3.5,0M584.7,374.1a1.75,1.75 0 1,0 3.5,0a1.75,1.75 0 1,0 -3.5,0M586.5,378.2a1.75,1.75 0 1,0 3.5,0a1.75,1.75 0 1,0 -3.5,0M588.4,382.2a1.75,1.75 0 1,0 3.5,0a1.75,1.75 0 1,0 -3.5,0M590.1,386.3a1.75,1.75 0 1,0 3.5,0a1.75,1.75 0 1,0 -3.5,0M591.9,389.8a1.75,1.75 0 1,0 3.5,0a1.75,1.75 0 1,0 -3.5,0M593.8,390.2a1.75,1.75 0 1,0 3.5,0a1.75,1.75 0 1,0 -3.5,0M595.7,388.2a1.75,1.75 0 1,0 3.5,0a1.75,1.75 0 1,0 -3.5,0M597.6,385.1a1.75,1.75 0 1,0 3.5,0a1.75,1.75 0 1,0 -3.5,0M599.4,381.8a1.75,1.75 0 1,0 3.5,0a1.75,1.75 0 1,0 -3.5,0M601.1,377.6a1.75,1.75 0 1,0 3.5,0a1.75,1.75 0 1,0 -3.5,0M603.0,373.8a1.75,1.75 0 1,0 3.5,0a1.75,1.75 0 1,0 -3.5,0M604.8,372.3a1.75,1.75 0 1,0 3.5,0a1.75,1.75 0 1,0 -3.5,0M606.8,372.4a1.75,1.75 0 1,0 3.5,0a1.75,1.75 0 1,0 -3.5,0M608.6,373.1a1.75,1.75 0 1,0 3.5,0a1.75,1.75 0 1,0 -3.5,0M610.5,374.1a1.75,1.75 0 1,0 3.5,0a1.75,1.75 0 1,0 -3.5,0M612.4,374.7a1.75,1.75 0 1,0 3.5,0a1.75,1.75 0 1,0 -3.5,0M614.3,375.2a1.75,1.75 0 1,0 3.5,0a1.75,1.75 0 1,0 -3.5,0M616.1,375.7a1.75,1.75 0 1,0 3.5,0a1.75,1.75 0 1,0 -3.5,0M618.1,374.8a1.75,1.75 0 1,0 3.5,0a1.75,1.75 0 1,0 -3.5,0M619.9,371.2a1.75,1.75 0 1,0 3.5,0a1.75,1.75 0 1,0 -3.5,0M621.2,366.8a1.75,1.75 0 1,0 3.5,0a1.75,1.75 0 1,0 -3.5,0M622.3,362.5a1.75,1.75 0 1,0 3.5,0a1.75,1.75 0 1,0 -3.5,0M623.4,358.1a1.75,1.75 0 1,0 3.5,0a1.75,1.75 0 1,0 -3.5,0M624.7,353.7a1.75,1.75 0 1,0 3.5,0a1.75,1.75 0 1,0 -3.5,0M626.3,349.6a1.75,1.75 0 1,0 3.5,0a1.75,1.75 0 1,0 -3.5,0M627.9,345.4a1.75,1.75 0 1,0 3.5,0a1.75,1.75 0 1,0 -3.5,0M629.6,341.3a1.75,1.75 0 1,0 3.5,0a1.75,1.75 0 1,0 -3.5,0M631.5,337.3a1.75,1.75 0 1,0 3.5,0a1.75,1.75 0 1,0 -3.5,0M633.4,334.0a1.75,1.75 0 1,0 3.5,0a1.75,1.75 0 1,0 -3.5,0M635.2,332.1a1.75,1.75 0 1,0 3.5,0a1.75,1.75 0 1,0 -3.5,0M637.2,331.6a1.75,1.75 0 1,0 3.5,0a1.75,1.75 0 1,0 -3.5,0M639.0,331.3a1.75,1.75 0 1,0 3.5,0a1.75,1.75 0 1,0 -3.5,0M641.0,329.8a1.75,1.75 0 1,0 3.5,0a1.75,1.75 0 1,0 -3.5,0M642.9,327.8a1.75,1.75 0 1,0 3.5,0a1.75,1.75 0 1,0 -3.5,0M644.7,325.5a1.75,1.75 0 1,0 3.5,0a1.75,1.75 0 1,0 -3.5,0M646.6,322.4a1.75,1.75 0 1,0 3.5,0a1.75,1.75 0 1,0 -3.5,0M648.2,318.1a1.75,1.75 0 1,0 3.5,0a1.75,1.75 0 1,0 -3.5,0M649.6,313.7a1.75,1.75 0 1,0 3.5,0a1.75,1.75 0 1,0 -3.5,0M651.1,309.4a1.75,1.75 0 1,0 3.5,0a1.75,1.75 0 1,0 -3.5,0M652.5,305.0a1.75,1.75 0 1,0 3.5,0a1.75,1.75 0 1,0 -3.5,0M654.2,300.9a1.75,1.75 0 1,0 3.5,0a1.75,1.75 0 1,0 -3.5,0M656.0,301.0a1.75,1.75 0 1,0 3.5,0a1.75,1.75 0 1,0 -3.5,0M657.9,304.2a1.75,1.75 0 1,0 3.5,0a1.75,1.75 0 1,0 -3.5,0M659.5,308.4a1.75,1.75 0 1,0 3.5,0a1.75,1.75 0 1,0 -3.5,0M660.9,312.7a1.75,1.75 0 1,0 3.5,0a1.75,1.75 0 1,0 -3.5,0M662.1,317.0a1.75,1.75 0 1,0 3.5,0a1.75,1.75 0 1,0 -3.5,0M663.3,321.3a1.75,1.75 0 1,0 3.5,0a1.75,1.75 0 1,0 -3.5,0M664.3,325.6a1.75,1.75 0 1,0 3.5,0a1.75,1.75 0 1,0 -3.5,0M665.3,330.0a1.75,1.75 0 1,0 3.5,0a1.75,1.75 0 1,0 -3.5,0M666.2,334.5a1.75,1.75 0 1,0 3.5,0a1.75,1.75 0 1,0 -3.5,0M667.2,338.9a1.75,1.75 0 1,0 3.5,0a1.75,1.75 0 1,0 -3.5,0M668.1,343.4a1.75,1.75 0 1,0 3.5,0a1.75,1.75 0 1,0 -3.5,0M669.0,347.9a1.75,1.75 0 1,0 3.5,0a1.75,1.75 0 1,0 -3.5,0M669.8,352.3a1.75,1.75 0 1,0 3.5,0a1.75,1.75 0 1,0 -3.5,0M670.7,356.6a1.75,1.75 0 1,0 3.5,0a1.75,1.75 0 1,0 -3.5,0M671.5,361.0a1.75,1.75 0 1,0 3.5,0a1.75,1.75 0 1,0 -3.5,0M672.4,365.3a1.75,1.75 0 1,0 3.5,0a1.75,1.75 0 1,0 -3.5,0M673.2,369.7a1.75,1.75 0 1,0 3.5,0a1.75,1.75 0 1,0 -3.5,0M674.0,374.1a1.75,1.75 0 1,0 3.5,0a1.75,1.75 0 1,0 -3.5,0M674.8,378.5a1.75,1.75 0 1,0 3.5,0a1.75,1.75 0 1,0 -3.5,0M675.6,382.9a1.75,1.75 0 1,0 3.5,0a1.75,1.75 0 1,0 -3.5,0M676.4,387.2a1.75,1.75 0 1,0 3.5,0a1.75,1.75 0 1,0 -3.5,0M677.2,391.6a1.75,1.75 0 1,0 3.5,0a1.75,1.75 0 1,0 -3.5,0M371.9,322.4a1.75,1.75 0 1,0 3.5,0a1.75,1.75 0 1,0 -3.5,0M373.7,323.4a1.75,1.75 0 1,0 3.5,0a1.75,1.75 0 1,0 -3.5,0M375.6,324.4a1.75,1.75 0 1,0 3.5,0a1.75,1.75 0 1,0 -3.5,0M377.5,325.4a1.75,1.75 0 1,0 3.5,0a1.75,1.75 0 1,0 -3.5,0M379.5,326.5a1.75,1.75 0 1,0 3.5,0a1.75,1.75 0 1,0 -3.5,0M381.3,327.7a1.75,1.75 0 1,0 3.5,0a1.75,1.75 0 1,0 -3.5,0M383.2,328.9a1.75,1.75 0 1,0 3.5,0a1.75,1.75 0 1,0 -3.5,0M385.2,330.2a1.75,1.75 0 1,0 3.5,0a1.75,1.75 0 1,0 -3.5,0M387.1,331.3a1.75,1.75 0 1,0 3.5,0a1.75,1.75 0 1,0 -3.5,0M388.9,332.2a1.75,1.75 0 1,0 3.5,0a1.75,1.75 0 1,0 -3.5,0M390.7,333.0a1.75,1.75 0 1,0 3.5,0a1.75,1.75 0 1,0 -3.5,0M392.6,333.7a1.75,1.75 0 1,0 3.5,0a1.75,1.75 0 1,0 -3.5,0M394.5,334.3a1.75,1.75 0 1,0 3.5,0a1.75,1.75 0 1,0 -3.5,0M396.4,335.0a1.75,1.75 0 1,0 3.5,0a1.75,1.75 0 1,0 -3.5,0M398.2,335.8a1.75,1.75 0 1,0 3.5,0a1.75,1.75 0 1,0 -3.5,0M400.1,336.9a1.75,1.75 0 1,0 3.5,0a1.75,1.75 0 1,0 -3.5,0M401.9,337.9a1.75,1.75 0 1,0 3.5,0a1.75,1.75 0 1,0 -3.5,0M403.9,338.7a1.75,1.75 0 1,0 3.5,0a1.75,1.75 0 1,0 -3.5,0M405.7,339.2a1.75,1.75 0 1,0 3.5,0a1.75,1.75 0 1,0 -3.5,0M407.7,338.9a1.75,1.75 0 1,0 3.5,0a1.75,1.75 0 1,0 -3.5,0M409.5,337.4a1.75,1.75 0 1,0 3.5,0a1.75,1.75 0 1,0 -3.5,0M411.4,334.5a1.75,1.75 0 1,0 3.5,0a1.75,1.75 0 1,0 -3.5,0M413.3,331.5a1.75,1.75 0 1,0 3.5,0a1.75,1.75 0 1,0 -3.5,0M415.1,328.6a1.75,1.75 0 1,0 3.5,0a1.75,1.75 0 1,0 -3.5,0M417.0,325.3a1.75,1.75 0 1,0 3.5,0a1.75,1.75 0 1,0 -3.5,0M418.9,322.1a1.75,1.75 0 1,0 3.5,0a1.75,1.75 0 1,0 -3.5,0M420.8,319.1a1.75,1.75 0 1,0 3.5,0a1.75,1.75 0 1,0 -3.5,0M422.7,316.2a1.75,1.75 0 1,0 3.5,0a1.75,1.75 0 1,0 -3.5,0M424.5,313.0a1.75,1.75 0 1,0 3.5,0a1.75,1.75 0 1,0 -3.5,0M426.4,309.4a1.75,1.75 0 1,0 3.5,0a1.75,1.75 0 1,0 -3.5,0M428.2,305.2a1.75,1.75 0 1,0 3.5,0a1.75,1.75 0 1,0 -3.5,0M429.9,301.1a1.75,1.75 0 1,0 3.5,0a1.75,1.75 0 1,0 -3.5,0M431.6,296.9a1.75,1.75 0 1,0 3.5,0a1.75,1.75 0 1,0 -3.5,0M433.5,293.1a1.75,1.75 0 1,0 3.5,0a1.75,1.75 0 1,0 -3.5,0M435.4,292.1a1.75,1.75 0 1,0 3.5,0a1.75,1.75 0 1,0 -3.5,0M437.3,294.1a1.75,1.75 0 1,0 3.5,0a1.75,1.75 0 1,0 -3.5,0M439.2,296.3a1.75,1.75 0 1,0 3.5,0a1.75,1.75 0 1,0 -3.5,0M441.2,298.0a1.75,1.75 0 1,0 3.5,0a1.75,1.75 0 1,0 -3.5,0M443.1,299.2a1.75,1.75 0 1,0 3.5,0a1.75,1.75 0 1,0 -3.5,0M444.9,298.9a1.75,1.75 0 1,0 3.5,0a1.75,1.75 0 1,0 -3.5,0M446.9,296.5a1.75,1.75 0 1,0 3.5,0a1.75,1.75 0 1,0 -3.5,0M448.7,293.8a1.75,1.75 0 1,0 3.5,0a1.75,1.75 0 1,0 -3.5,0M450.5,290.6a1.75,1.75 0 1,0 3.5,0a1.75,1.75 0 1,0 -3.5,0M371.9,324.5a1.75,1.75 0 1,0 3.5,0a1.75,1.75 0 1,0 -3.5,0M373.7,325.2a1.75,1.75 0 1,0 3.5,0a1.75,1.75 0 1,0 -3.5,0M375.6,326.0a1.75,1.75 0 1,0 3.5,0a1.75,1.75 0 1,0 -3.5,0M377.5,326.7a1.75,1.75 0 1,0 3.5,0a1.75,1.75 0 1,0 -3.5,0M379.4,327.4a1.75,1.75 0 1,0 3.5,0a1.75,1.75 0 1,0 -3.5,0M381.4,328.1a1.75,1.75 0 1,0 3.5,0a1.75,1.75 0 1,0 -3.5,0M383.3,328.8a1.75,1.75 0 1,0 3.5,0a1.75,1.75 0 1,0 -3.5,0M385.2,329.5a1.75,1.75 0 1,0 3.5,0a1.75,1.75 0 1,0 -3.5,0M387.1,330.1a1.75,1.75 0 1,0 3.5,0a1.75,1.75 0 1,0 -3.5,0M389.1,330.7a1.75,1.75 0 1,0 3.5,0a1.75,1.75 0 1,0 -3.5,0M391.0,331.3a1.75,1.75 0 1,0 3.5,0a1.75,1.75 0 1,0 -3.5,0M392.9,331.9a1.75,1.75 0 1,0 3.5,0a1.75,1.75 0 1,0 -3.5,0M394.9,332.5a1.75,1.75 0 1,0 3.5,0a1.75,1.75 0 1,0 -3.5,0M396.8,333.1a1.75,1.75 0 1,0 3.5,0a1.75,1.75 0 1,0 -3.5,0M398.6,333.8a1.75,1.75 0 1,0 3.5,0a1.75,1.75 0 1,0 -3.5,0M400.5,334.6a1.75,1.75 0 1,0 3.5,0a1.75,1.75 0 1,0 -3.5,0M402.4,335.3a1.75,1.75 0 1,0 3.5,0a1.75,1.75 0 1,0 -3.5,0M404.4,336.0a1.75,1.75 0 1,0 3.5,0a1.75,1.75 0 1,0 -3.5,0M406.4,336.5a1.75,1.75 0 1,0 3.5,0a1.75,1.75 0 1,0 -3.5,0M408.2,336.4a1.75,1.75 0 1,0 3.5,0a1.75,1.75 0 1,0 -3.5,0M410.1,334.6a1.75,1.75 0 1,0 3.5,0a1.75,1.75 0 1,0 -3.5,0M412.0,330.6a1.75,1.75 0 1,0 3.5,0a1.75,1.75 0 1,0 -3.5,0M370.1,350.7a1.75,1.75 0 1,0 3.5,0a1.75,1.75 0 1,0 -3.5,0M371.3,346.4a1.75,1.75 0 1,0 3.5,0a1.75,1.75 0 1,0 -3.5,0M372.5,342.1a1.75,1.75 0 1,0 3.5,0a1.75,1.75 0 1,0 -3.5,0M373.8,337.8a1.75,1.75 0 1,0 3.5,0a1.75,1.75 0 1,0 -3.5,0M375.2,333.6a1.75,1.75 0 1,0 3.5,0a1.75,1.75 0 1,0 -3.5,0M376.6,329.4a1.75,1.75 0 1,0 3.5,0a1.75,1.75 0 1,0 -3.5,0M377.9,325.0a1.75,1.75 0 1,0 3.5,0a1.75,1.75 0 1,0 -3.5,0M379.1,320.8a1.75,1.75 0 1,0 3.5,0a1.75,1.75 0 1,0 -3.5,0M380.3,316.4a1.75,1.75 0 1,0 3.5,0a1.75,1.75 0 1,0 -3.5,0M381.5,312.1a1.75,1.75 0 1,0 3.5,0a1.75,1.75 0 1,0 -3.5,0M382.7,307.8a1.75,1.75 0 1,0 3.5,0a1.75,1.75 0 1,0 -3.5,0M383.9,303.4a1.75,1.75 0 1,0 3.5,0a1.75,1.75 0 1,0 -3.5,0M385.0,299.1a1.75,1.75 0 1,0 3.5,0a1.75,1.75 0 1,0 -3.5,0M386.1,294.8a1.75,1.75 0 1,0 3.5,0a1.75,1.75 0 1,0 -3.5,0M387.3,290.3a1.75,1.75 0 1,0 3.5,0a1.75,1.75 0 1,0 -3.5,0M380.6,345.0a1.75,1.75 0 1,0 3.5,0a1.75,1.75 0 1,0 -3.5,0M382.0,340.6a1.75,1.75 0 1,0 3.5,0a1.75,1.75 0 1,0 -3.5,0M383.4,336.4a1.75,1.75 0 1,0 3.5,0a1.75,1.75 0 1,0 -3.5,0M384.9,332.3a1.75,1.75 0 1,0 3.5,0a1.75,1.75 0 1,0 -3.5,0M386.3,327.9a1.75,1.75 0 1,0 3.5,0a1.75,1.75 0 1,0 -3.5,0M387.6,323.7a1.75,1.75 0 1,0 3.5,0a1.75,1.75 0 1,0 -3.5,0M388.9,319.3a1.75,1.75 0 1,0 3.5,0a1.75,1.75 0 1,0 -3.5,0M390.1,314.9a1.75,1.75 0 1,0 3.5,0a1.75,1.75 0 1,0 -3.5,0M391.2,310.6a1.75,1.75 0 1,0 3.5,0a1.75,1.75 0 1,0 -3.5,0M392.4,306.2a1.75,1.75 0 1,0 3.5,0a1.75,1.75 0 1,0 -3.5,0M393.6,301.8a1.75,1.75 0 1,0 3.5,0a1.75,1.75 0 1,0 -3.5,0M394.8,297.5a1.75,1.75 0 1,0 3.5,0a1.75,1.75 0 1,0 -3.5,0M395.9,293.2a1.75,1.75 0 1,0 3.5,0a1.75,1.75 0 1,0 -3.5,0M372.2,302.6a1.75,1.75 0 1,0 3.5,0a1.75,1.75 0 1,0 -3.5,0M373.5,298.3a1.75,1.75 0 1,0 3.5,0a1.75,1.75 0 1,0 -3.5,0M374.9,294.0a1.75,1.75 0 1,0 3.5,0a1.75,1.75 0 1,0 -3.5,0M463.4,302.6a1.75,1.75 0 1,0 3.5,0a1.75,1.75 0 1,0 -3.5,0M465.2,305.0a1.75,1.75 0 1,0 3.5,0a1.75,1.75 0 1,0 -3.5,0M467.0,307.3a1.75,1.75 0 1,0 3.5,0a1.75,1.75 0 1,0 -3.5,0M468.9,309.7a1.75,1.75 0 1,0 3.5,0a1.75,1.75 0 1,0 -3.5,0M470.7,311.8a1.75,1.75 0 1,0 3.5,0a1.75,1.75 0 1,0 -3.5,0M472.6,313.9a1.75,1.75 0 1,0 3.5,0a1.75,1.75 0 1,0 -3.5,0M474.6,315.7a1.75,1.75 0 1,0 3.5,0a1.75,1.75 0 1,0 -3.5,0M476.5,317.2a1.75,1.75 0 1,0 3.5,0a1.75,1.75 0 1,0 -3.5,0M478.5,318.5a1.75,1.75 0 1,0 3.5,0a1.75,1.75 0 1,0 -3.5,0M480.4,319.6a1.75,1.75 0 1,0 3.5,0a1.75,1.75 0 1,0 -3.5,0M482.3,320.5a1.75,1.75 0 1,0 3.5,0a1.75,1.75 0 1,0 -3.5,0M484.2,321.4a1.75,1.75 0 1,0 3.5,0a1.75,1.75 0 1,0 -3.5,0M486.2,322.2a1.75,1.75 0 1,0 3.5,0a1.75,1.75 0 1,0 -3.5,0M488.1,323.0a1.75,1.75 0 1,0 3.5,0a1.75,1.75 0 1,0 -3.5,0M490.0,323.5a1.75,1.75 0 1,0 3.5,0a1.75,1.75 0 1,0 -3.5,0M491.8,323.6a1.75,1.75 0 1,0 3.5,0a1.75,1.75 0 1,0 -3.5,0M493.7,323.1a1.75,1.75 0 1,0 3.5,0a1.75,1.75 0 1,0 -3.5,0M495.6,321.7a1.75,1.75 0 1,0 3.5,0a1.75,1.75 0 1,0 -3.5,0M497.4,319.3a1.75,1.75 0 1,0 3.5,0a1.75,1.75 0 1,0 -3.5,0M499.3,316.0a1.75,1.75 0 1,0 3.5,0a1.75,1.75 0 1,0 -3.5,0M501.1,311.8a1.75,1.75 0 1,0 3.5,0a1.75,1.75 0 1,0 -3.5,0M502.7,307.6a1.75,1.75 0 1,0 3.5,0a1.75,1.75 0 1,0 -3.5,0M504.1,303.4a1.75,1.75 0 1,0 3.5,0a1.75,1.75 0 1,0 -3.5,0M505.3,299.1a1.75,1.75 0 1,0 3.5,0a1.75,1.75 0 1,0 -3.5,0M506.5,294.7a1.75,1.75 0 1,0 3.5,0a1.75,1.75 0 1,0 -3.5,0M465.4,320.0a1.75,1.75 0 1,0 3.5,0a1.75,1.75 0 1,0 -3.5,0M467.4,322.2a1.75,1.75 0 1,0 3.5,0a1.75,1.75 0 1,0 -3.5,0M469.2,324.3a1.75,1.75 0 1,0 3.5,0a1.75,1.75 0 1,0 -3.5,0M471.1,326.6a1.75,1.75 0 1,0 3.5,0a1.75,1.75 0 1,0 -3.5,0M473.0,328.7a1.75,1.75 0 1,0 3.5,0a1.75,1.75 0 1,0 -3.5,0M474.8,330.8a1.75,1.75 0 1,0 3.5,0a1.75,1.75 0 1,0 -3.5,0M476.7,333.0a1.75,1.75 0 1,0 3.5,0a1.75,1.75 0 1,0 -3.5,0M478.6,335.2a1.75,1.75 0 1,0 3.5,0a1.75,1.75 0 1,0 -3.5,0M480.5,337.5a1.75,1.75 0 1,0 3.5,0a1.75,1.75 0 1,0 -3.5,0M482.5,339.8a1.75,1.75 0 1,0 3.5,0a1.75,1.75 0 1,0 -3.5,0M484.3,341.9a1.75,1.75 0 1,0 3.5,0a1.75,1.75 0 1,0 -3.5,0M486.2,343.8a1.75,1.75 0 1,0 3.5,0a1.75,1.75 0 1,0 -3.5,0M488.1,345.7a1.75,1.75 0 1,0 3.5,0a1.75,1.75 0 1,0 -3.5,0M489.9,347.6a1.75,1.75 0 1,0 3.5,0a1.75,1.75 0 1,0 -3.5,0M491.8,349.1a1.75,1.75 0 1,0 3.5,0a1.75,1.75 0 1,0 -3.5,0M493.8,349.8a1.75,1.75 0 1,0 3.5,0a1.75,1.75 0 1,0 -3.5,0M495.6,349.4a1.75,1.75 0 1,0 3.5,0a1.75,1.75 0 1,0 -3.5,0M497.5,348.0a1.75,1.75 0 1,0 3.5,0a1.75,1.75 0 1,0 -3.5,0M499.4,346.0a1.75,1.75 0 1,0 3.5,0a1.75,1.75 0 1,0 -3.5,0M501.3,343.7a1.75,1.75 0 1,0 3.5,0a1.75,1.75 0 1,0 -3.5,0M503.1,341.6a1.75,1.75 0 1,0 3.5,0a1.75,1.75 0 1,0 -3.5,0M505.0,339.7a1.75,1.75 0 1,0 3.5,0a1.75,1.75 0 1,0 -3.5,0M506.9,337.8a1.75,1.75 0 1,0 3.5,0a1.75,1.75 0 1,0 -3.5,0M508.8,335.9a1.75,1.75 0 1,0 3.5,0a1.75,1.75 0 1,0 -3.5,0M510.8,333.8a1.75,1.75 0 1,0 3.5,0a1.75,1.75 0 1,0 -3.5,0M512.7,331.4a1.75,1.75 0 1,0 3.5,0a1.75,1.75 0 1,0 -3.5,0M514.6,329.0a1.75,1.75 0 1,0 3.5,0a1.75,1.75 0 1,0 -3.5,0M516.4,326.5a1.75,1.75 0 1,0 3.5,0a1.75,1.75 0 1,0 -3.5,0M518.2,323.9a1.75,1.75 0 1,0 3.5,0a1.75,1.75 0 1,0 -3.5,0M520.1,321.0a1.75,1.75 0 1,0 3.5,0a1.75,1.75 0 1,0 -3.5,0M521.9,317.7a1.75,1.75 0 1,0 3.5,0a1.75,1.75 0 1,0 -3.5,0M523.8,313.8a1.75,1.75 0 1,0 3.5,0a1.75,1.75 0 1,0 -3.5,0M525.3,309.5a1.75,1.75 0 1,0 3.5,0a1.75,1.75 0 1,0 -3.5,0M526.6,305.2a1.75,1.75 0 1,0 3.5,0a1.75,1.75 0 1,0 -3.5,0M527.8,300.8a1.75,1.75 0 1,0 3.5,0a1.75,1.75 0 1,0 -3.5,0M529.0,296.5a1.75,1.75 0 1,0 3.5,0a1.75,1.75 0 1,0 -3.5,0M573.5,290.0a1.75,1.75 0 1,0 3.5,0a1.75,1.75 0 1,0 -3.5,0M575.4,293.8a1.75,1.75 0 1,0 3.5,0a1.75,1.75 0 1,0 -3.5,0M577.3,297.5a1.75,1.75 0 1,0 3.5,0a1.75,1.75 0 1,0 -3.5,0M579.2,301.3a1.75,1.75 0 1,0 3.5,0a1.75,1.75 0 1,0 -3.5,0M581.1,305.0a1.75,1.75 0 1,0 3.5,0a1.75,1.75 0 1,0 -3.5,0M583.0,308.6a1.75,1.75 0 1,0 3.5,0a1.75,1.75 0 1,0 -3.5,0M584.9,312.1a1.75,1.75 0 1,0 3.5,0a1.75,1.75 0 1,0 -3.5,0M586.7,315.4a1.75,1.75 0 1,0 3.5,0a1.75,1.75 0 1,0 -3.5,0M588.5,318.5a1.75,1.75 0 1,0 3.5,0a1.75,1.75 0 1,0 -3.5,0M590.4,322.7a1.75,1.75 0 1,0 3.5,0a1.75,1.75 0 1,0 -3.5,0M592.3,323.7a1.75,1.75 0 1,0 3.5,0a1.75,1.75 0 1,0 -3.5,0M594.1,322.0a1.75,1.75 0 1,0 3.5,0a1.75,1.75 0 1,0 -3.5,0M595.9,319.3a1.75,1.75 0 1,0 3.5,0a1.75,1.75 0 1,0 -3.5,0M597.7,316.1a1.75,1.75 0 1,0 3.5,0a1.75,1.75 0 1,0 -3.5,0M599.6,312.8a1.75,1.75 0 1,0 3.5,0a1.75,1.75 0 1,0 -3.5,0M601.5,309.6a1.75,1.75 0 1,0 3.5,0a1.75,1.75 0 1,0 -3.5,0M603.5,306.8a1.75,1.75 0 1,0 3.5,0a1.75,1.75 0 1,0 -3.5,0M605.3,304.3a1.75,1.75 0 1,0 3.5,0a1.75,1.75 0 1,0 -3.5,0M607.2,301.7a1.75,1.75 0 1,0 3.5,0a1.75,1.75 0 1,0 -3.5,0M609.0,299.3a1.75,1.75 0 1,0 3.5,0a1.75,1.75 0 1,0 -3.5,0M610.8,296.8a1.75,1.75 0 1,0 3.5,0a1.75,1.75 0 1,0 -3.5,0M612.6,294.3a1.75,1.75 0 1,0 3.5,0a1.75,1.75 0 1,0 -3.5,0M566.2,300.0a1.75,1.75 0 1,0 3.5,0a1.75,1.75 0 1,0 -3.5,0M568.1,303.6a1.75,1.75 0 1,0 3.5,0a1.75,1.75 0 1,0 -3.5,0M569.9,307.2a1.75,1.75 0 1,0 3.5,0a1.75,1.75 0 1,0 -3.5,0M571.8,311.0a1.75,1.75 0 1,0 3.5,0a1.75,1.75 0 1,0 -3.5,0M573.7,314.9a1.75,1.75 0 1,0 3.5,0a1.75,1.75 0 1,0 -3.5,0M575.5,318.9a1.75,1.75 0 1,0 3.5,0a1.75,1.75 0 1,0 -3.5,0M577.3,323.1a1.75,1.75 0 1,0 3.5,0a1.75,1.75 0 1,0 -3.5,0M579.0,327.2a1.75,1.75 0 1,0 3.5,0a1.75,1.75 0 1,0 -3.5,0M580.9,331.4a1.75,1.75 0 1,0 3.5,0a1.75,1.75 0 1,0 -3.5,0M582.7,335.5a1.75,1.75 0 1,0 3.5,0a1.75,1.75 0 1,0 -3.5,0M584.5,339.5a1.75,1.75 0 1,0 3.5,0a1.75,1.75 0 1,0 -3.5,0M586.4,343.2a1.75,1.75 0 1,0 3.5,0a1.75,1.75 0 1,0 -3.5,0M588.2,346.6a1.75,1.75 0 1,0 3.5,0a1.75,1.75 0 1,0 -3.5,0M590.0,349.8a1.75,1.75 0 1,0 3.5,0a1.75,1.75 0 1,0 -3.5,0M591.9,352.2a1.75,1.75 0 1,0 3.5,0a1.75,1.75 0 1,0 -3.5,0M593.8,354.1a1.75,1.75 0 1,0 3.5,0a1.75,1.75 0 1,0 -3.5,0M595.6,355.7a1.75,1.75 0 1,0 3.5,0a1.75,1.75 0 1,0 -3.5,0M597.6,357.2a1.75,1.75 0 1,0 3.5,0a1.75,1.75 0 1,0 -3.5,0M599.5,358.2a1.75,1.75 0 1,0 3.5,0a1.75,1.75 0 1,0 -3.5,0M601.4,358.3a1.75,1.75 0 1,0 3.5,0a1.75,1.75 0 1,0 -3.5,0M603.2,356.2a1.75,1.75 0 1,0 3.5,0a1.75,1.75 0 1,0 -3.5,0M604.3,351.7a1.75,1.75 0 1,0 3.5,0a1.75,1.75 0 1,0 -3.5,0M605.1,347.3a1.75,1.75 0 1,0 3.5,0a1.75,1.75 0 1,0 -3.5,0M606.1,342.9a1.75,1.75 0 1,0 3.5,0a1.75,1.75 0 1,0 -3.5,0M607.6,338.7a1.75,1.75 0 1,0 3.5,0a1.75,1.75 0 1,0 -3.5,0M609.3,334.4a1.75,1.75 0 1,0 3.5,0a1.75,1.75 0 1,0 -3.5,0M611.1,330.4a1.75,1.75 0 1,0 3.5,0a1.75,1.75 0 1,0 -3.5,0M613.0,327.0a1.75,1.75 0 1,0 3.5,0a1.75,1.75 0 1,0 -3.5,0M614.9,324.5a1.75,1.75 0 1,0 3.5,0a1.75,1.75 0 1,0 -3.5,0M616.8,323.0a1.75,1.75 0 1,0 3.5,0a1.75,1.75 0 1,0 -3.5,0M618.8,321.8a1.75,1.75 0 1,0 3.5,0a1.75,1.75 0 1,0 -3.5,0M620.7,321.0a1.75,1.75 0 1,0 3.5,0a1.75,1.75 0 1,0 -3.5,0M622.5,320.3a1.75,1.75 0 1,0 3.5,0a1.75,1.75 0 1,0 -3.5,0M624.4,319.4a1.75,1.75 0 1,0 3.5,0a1.75,1.75 0 1,0 -3.5,0M626.3,318.1a1.75,1.75 0 1,0 3.5,0a1.75,1.75 0 1,0 -3.5,0M628.1,316.0a1.75,1.75 0 1,0 3.5,0a1.75,1.75 0 1,0 -3.5,0M630.0,313.3a1.75,1.75 0 1,0 3.5,0a1.75,1.75 0 1,0 -3.5,0M631.8,310.2a1.75,1.75 0 1,0 3.5,0a1.75,1.75 0 1,0 -3.5,0M633.7,306.7a1.75,1.75 0 1,0 3.5,0a1.75,1.75 0 1,0 -3.5,0M635.5,302.8a1.75,1.75 0 1,0 3.5,0a1.75,1.75 0 1,0 -3.5,0M636.9,298.6a1.75,1.75 0 1,0 3.5,0a1.75,1.75 0 1,0 -3.5,0M637.9,294.1a1.75,1.75 0 1,0 3.5,0a1.75,1.75 0 1,0 -3.5,0M610.2,290.0a1.75,1.75 0 1,0 3.5,0a1.75,1.75 0 1,0 -3.5,0M611.7,294.4a1.75,1.75 0 1,0 3.5,0a1.75,1.75 0 1,0 -3.5,0M613.0,298.6a1.75,1.75 0 1,0 3.5,0a1.75,1.75 0 1,0 -3.5,0M614.9,303.0a1.75,1.75 0 1,0 3.5,0a1.75,1.75 0 1,0 -3.5,0M616.7,303.5a1.75,1.75 0 1,0 3.5,0a1.75,1.75 0 1,0 -3.5,0M618.7,304.0a1.75,1.75 0 1,0 3.5,0a1.75,1.75 0 1,0 -3.5,0M620.6,304.7a1.75,1.75 0 1,0 3.5,0a1.75,1.75 0 1,0 -3.5,0M622.5,305.5a1.75,1.75 0 1,0 3.5,0a1.75,1.75 0 1,0 -3.5,0M624.4,306.4a1.75,1.75 0 1,0 3.5,0a1.75,1.75 0 1,0 -3.5,0M626.2,307.6a1.75,1.75 0 1,0 3.5,0a1.75,1.75 0 1,0 -3.5,0M628.1,309.5a1.75,1.75 0 1,0 3.5,0a1.75,1.75 0 1,0 -3.5,0M629.9,309.6a1.75,1.75 0 1,0 3.5,0a1.75,1.75 0 1,0 -3.5,0M631.7,307.8a1.75,1.75 0 1,0 3.5,0a1.75,1.75 0 1,0 -3.5,0M633.6,304.3a1.75,1.75 0 1,0 3.5,0a1.75,1.75 0 1,0 -3.5,0M634.8,299.9a1.75,1.75 0 1,0 3.5,0a1.75,1.75 0 1,0 -3.5,0M635.8,295.5a1.75,1.75 0 1,0 3.5,0a1.75,1.75 0 1,0 -3.5,0M664.2,290.0a1.75,1.75 0 1,0 3.5,0a1.75,1.75 0 1,0 -3.5,0M666.1,293.8a1.75,1.75 0 1,0 3.5,0a1.75,1.75 0 1,0 -3.5,0M668.0,297.5a1.75,1.75 0 1,0 3.5,0a1.75,1.75 0 1,0 -3.5,0M669.8,300.6a1.75,1.75 0 1,0 3.5,0a1.75,1.75 0 1,0 -3.5,0M671.7,303.3a1.75,1.75 0 1,0 3.5,0a1.75,1.75 0 1,0 -3.5,0M673.5,305.4a1.75,1.75 0 1,0 3.5,0a1.75,1.75 0 1,0 -3.5,0M675.4,307.2a1.75,1.75 0 1,0 3.5,0a1.75,1.75 0 1,0 -3.5,0M370.4,433.9a1.75,1.75 0 1,0 3.5,0a1.75,1.75 0 1,0 -3.5,0M372.2,437.1a1.75,1.75 0 1,0 3.5,0a1.75,1.75 0 1,0 -3.5,0M374.0,440.3a1.75,1.75 0 1,0 3.5,0a1.75,1.75 0 1,0 -3.5,0M375.9,443.9a1.75,1.75 0 1,0 3.5,0a1.75,1.75 0 1,0 -3.5,0M377.8,447.8a1.75,1.75 0 1,0 3.5,0a1.75,1.75 0 1,0 -3.5,0M379.6,451.9a1.75,1.75 0 1,0 3.5,0a1.75,1.75 0 1,0 -3.5,0M381.4,456.0a1.75,1.75 0 1,0 3.5,0a1.75,1.75 0 1,0 -3.5,0M383.0,460.3a1.75,1.75 0 1,0 3.5,0a1.75,1.75 0 1,0 -3.5,0M384.6,464.5a1.75,1.75 0 1,0 3.5,0a1.75,1.75 0 1,0 -3.5,0M386.0,468.8a1.75,1.75 0 1,0 3.5,0a1.75,1.75 0 1,0 -3.5,0M387.4,473.1a1.75,1.75 0 1,0 3.5,0a1.75,1.75 0 1,0 -3.5,0M388.8,477.4a1.75,1.75 0 1,0 3.5,0a1.75,1.75 0 1,0 -3.5,0M390.2,481.6a1.75,1.75 0 1,0 3.5,0a1.75,1.75 0 1,0 -3.5,0M391.9,485.9a1.75,1.75 0 1,0 3.5,0a1.75,1.75 0 1,0 -3.5,0M393.6,490.0a1.75,1.75 0 1,0 3.5,0a1.75,1.75 0 1,0 -3.5,0M395.4,494.1a1.75,1.75 0 1,0 3.5,0a1.75,1.75 0 1,0 -3.5,0M397.2,498.1a1.75,1.75 0 1,0 3.5,0a1.75,1.75 0 1,0 -3.5,0M399.1,501.8a1.75,1.75 0 1,0 3.5,0a1.75,1.75 0 1,0 -3.5,0M401.0,505.2a1.75,1.75 0 1,0 3.5,0a1.75,1.75 0 1,0 -3.5,0M402.8,508.5a1.75,1.75 0 1,0 3.5,0a1.75,1.75 0 1,0 -3.5,0M371.9,466.5a1.75,1.75 0 1,0 3.5,0a1.75,1.75 0 1,0 -3.5,0M373.8,466.9a1.75,1.75 0 1,0 3.5,0a1.75,1.75 0 1,0 -3.5,0M375.6,467.3a1.75,1.75 0 1,0 3.5,0a1.75,1.75 0 1,0 -3.5,0M377.6,467.7a1.75,1.75 0 1,0 3.5,0a1.75,1.75 0 1,0 -3.5,0M379.5,468.1a1.75,1.75 0 1,0 3.5,0a1.75,1.75 0 1,0 -3.5,0M381.6,468.5a1.75,1.75 0 1,0 3.5,0a1.75,1.75 0 1,0 -3.5,0M383.4,468.9a1.75,1.75 0 1,0 3.5,0a1.75,1.75 0 1,0 -3.5,0M385.2,469.2a1.75,1.75 0 1,0 3.5,0a1.75,1.75 0 1,0 -3.5,0M387.2,469.6a1.75,1.75 0 1,0 3.5,0a1.75,1.75 0 1,0 -3.5,0M389.1,469.9a1.75,1.75 0 1,0 3.5,0a1.75,1.75 0 1,0 -3.5,0M391.1,470.2a1.75,1.75 0 1,0 3.5,0a1.75,1.75 0 1,0 -3.5,0M393.0,470.7a1.75,1.75 0 1,0 3.5,0a1.75,1.75 0 1,0 -3.5,0M395.0,471.2a1.75,1.75 0 1,0 3.5,0a1.75,1.75 0 1,0 -3.5,0M396.9,471.7a1.75,1.75 0 1,0 3.5,0a1.75,1.75 0 1,0 -3.5,0M398.9,472.2a1.75,1.75 0 1,0 3.5,0a1.75,1.75 0 1,0 -3.5,0M400.8,472.6a1.75,1.75 0 1,0 3.5,0a1.75,1.75 0 1,0 -3.5,0M402.7,472.8a1.75,1.75 0 1,0 3.5,0a1.75,1.75 0 1,0 -3.5,0M404.6,472.9a1.75,1.75 0 1,0 3.5,0a1.75,1.75 0 1,0 -3.5,0M406.5,472.6a1.75,1.75 0 1,0 3.5,0a1.75,1.75 0 1,0 -3.5,0M408.4,471.7a1.75,1.75 0 1,0 3.5,0a1.75,1.75 0 1,0 -3.5,0M410.2,469.8a1.75,1.75 0 1,0 3.5,0a1.75,1.75 0 1,0 -3.5,0M412.1,466.2a1.75,1.75 0 1,0 3.5,0a1.75,1.75 0 1,0 -3.5,0M413.6,461.9a1.75,1.75 0 1,0 3.5,0a1.75,1.75 0 1,0 -3.5,0M415.0,457.6a1.75,1.75 0 1,0 3.5,0a1.75,1.75 0 1,0 -3.5,0M416.7,453.6a1.75,1.75 0 1,0 3.5,0a1.75,1.75 0 1,0 -3.5,0M418.6,449.8a1.75,1.75 0 1,0 3.5,0a1.75,1.75 0 1,0 -3.5,0M420.4,446.1a1.75,1.75 0 1,0 3.5,0a1.75,1.75 0 1,0 -3.5,0M422.2,442.5a1.75,1.75 0 1,0 3.5,0a1.75,1.75 0 1,0 -3.5,0M424.0,438.9a1.75,1.75 0 1,0 3.5,0a1.75,1.75 0 1,0 -3.5,0M425.8,435.4a1.75,1.75 0 1,0 3.5,0a1.75,1.75 0 1,0 -3.5,0M427.7,431.8a1.75,1.75 0 1,0 3.5,0a1.75,1.75 0 1,0 -3.5,0M429.6,428.2a1.75,1.75 0 1,0 3.5,0a1.75,1.75 0 1,0 -3.5,0M431.5,424.8a1.75,1.75 0 1,0 3.5,0a1.75,1.75 0 1,0 -3.5,0M433.4,421.8a1.75,1.75 0 1,0 3.5,0a1.75,1.75 0 1,0 -3.5,0M435.2,419.3a1.75,1.75 0 1,0 3.5,0a1.75,1.75 0 1,0 -3.5,0M437.1,417.0a1.75,1.75 0 1,0 3.5,0a1.75,1.75 0 1,0 -3.5,0M438.9,415.0a1.75,1.75 0 1,0 3.5,0a1.75,1.75 0 1,0 -3.5,0M440.8,413.5a1.75,1.75 0 1,0 3.5,0a1.75,1.75 0 1,0 -3.5,0M442.7,412.8a1.75,1.75 0 1,0 3.5,0a1.75,1.75 0 1,0 -3.5,0M444.6,413.1a1.75,1.75 0 1,0 3.5,0a1.75,1.75 0 1,0 -3.5,0M446.4,414.4a1.75,1.75 0 1,0 3.5,0a1.75,1.75 0 1,0 -3.5,0M448.4,416.6a1.75,1.75 0 1,0 3.5,0a1.75,1.75 0 1,0 -3.5,0M450.3,419.2a1.75,1.75 0 1,0 3.5,0a1.75,1.75 0 1,0 -3.5,0M452.1,421.7a1.75,1.75 0 1,0 3.5,0a1.75,1.75 0 1,0 -3.5,0M454.0,424.2a1.75,1.75 0 1,0 3.5,0a1.75,1.75 0 1,0 -3.5,0M455.9,427.0a1.75,1.75 0 1,0 3.5,0a1.75,1.75 0 1,0 -3.5,0M457.7,429.7a1.75,1.75 0 1,0 3.5,0a1.75,1.75 0 1,0 -3.5,0M459.5,432.6a1.75,1.75 0 1,0 3.5,0a1.75,1.75 0 1,0 -3.5,0M461.4,435.5a1.75,1.75 0 1,0 3.5,0a1.75,1.75 0 1,0 -3.5,0M463.3,438.4a1.75,1.75 0 1,0 3.5,0a1.75,1.75 0 1,0 -3.5,0M465.2,441.4a1.75,1.75 0 1,0 3.5,0a1.75,1.75 0 1,0 -3.5,0M467.1,444.3a1.75,1.75 0 1,0 3.5,0a1.75,1.75 0 1,0 -3.5,0M469.0,447.1a1.75,1.75 0 1,0 3.5,0a1.75,1.75 0 1,0 -3.5,0M470.9,449.7a1.75,1.75 0 1,0 3.5,0a1.75,1.75 0 1,0 -3.5,0M472.7,451.9a1.75,1.75 0 1,0 3.5,0a1.75,1.75 0 1,0 -3.5,0M474.6,453.9a1.75,1.75 0 1,0 3.5,0a1.75,1.75 0 1,0 -3.5,0M476.4,455.7a1.75,1.75 0 1,0 3.5,0a1.75,1.75 0 1,0 -3.5,0M478.3,457.4a1.75,1.75 0 1,0 3.5,0a1.75,1.75 0 1,0 -3.5,0M480.2,458.9a1.75,1.75 0 1,0 3.5,0a1.75,1.75 0 1,0 -3.5,0M482.1,460.0a1.75,1.75 0 1,0 3.5,0a1.75,1.75 0 1,0 -3.5,0M484.0,461.0a1.75,1.75 0 1,0 3.5,0a1.75,1.75 0 1,0 -3.5,0M485.8,461.8a1.75,1.75 0 1,0 3.5,0a1.75,1.75 0 1,0 -3.5,0M487.8,462.6a1.75,1.75 0 1,0 3.5,0a1.75,1.75 0 1,0 -3.5,0M489.6,463.4a1.75,1.75 0 1,0 3.5,0a1.75,1.75 0 1,0 -3.5,0M491.5,464.2a1.75,1.75 0 1,0 3.5,0a1.75,1.75 0 1,0 -3.5,0M493.3,464.9a1.75,1.75 0 1,0 3.5,0a1.75,1.75 0 1,0 -3.5,0M495.2,465.7a1.75,1.75 0 1,0 3.5,0a1.75,1.75 0 1,0 -3.5,0M497.1,466.9a1.75,1.75 0 1,0 3.5,0a1.75,1.75 0 1,0 -3.5,0M499.0,468.7a1.75,1.75 0 1,0 3.5,0a1.75,1.75 0 1,0 -3.5,0M500.8,471.6a1.75,1.75 0 1,0 3.5,0a1.75,1.75 0 1,0 -3.5,0M502.7,475.8a1.75,1.75 0 1,0 3.5,0a1.75,1.75 0 1,0 -3.5,0M504.2,480.1a1.75,1.75 0 1,0 3.5,0a1.75,1.75 0 1,0 -3.5,0M505.5,484.4a1.75,1.75 0 1,0 3.5,0a1.75,1.75 0 1,0 -3.5,0M506.8,488.7a1.75,1.75 0 1,0 3.5,0a1.75,1.75 0 1,0 -3.5,0M508.4,493.0a1.75,1.75 0 1,0 3.5,0a1.75,1.75 0 1,0 -3.5,0M509.9,497.3a1.75,1.75 0 1,0 3.5,0a1.75,1.75 0 1,0 -3.5,0M510.9,501.6a1.75,1.75 0 1,0 3.5,0a1.75,1.75 0 1,0 -3.5,0M511.9,506.0a1.75,1.75 0 1,0 3.5,0a1.75,1.75 0 1,0 -3.5,0M371.9,472.3a1.75,1.75 0 1,0 3.5,0a1.75,1.75 0 1,0 -3.5,0M373.7,473.3a1.75,1.75 0 1,0 3.5,0a1.75,1.75 0 1,0 -3.5,0M375.6,474.3a1.75,1.75 0 1,0 3.5,0a1.75,1.75 0 1,0 -3.5,0M377.5,475.3a1.75,1.75 0 1,0 3.5,0a1.75,1.75 0 1,0 -3.5,0M379.4,476.2a1.75,1.75 0 1,0 3.5,0a1.75,1.75 0 1,0 -3.5,0M381.3,477.2a1.75,1.75 0 1,0 3.5,0a1.75,1.75 0 1,0 -3.5,0M383.1,478.0a1.75,1.75 0 1,0 3.5,0a1.75,1.75 0 1,0 -3.5,0M385.0,478.8a1.75,1.75 0 1,0 3.5,0a1.75,1.75 0 1,0 -3.5,0M387.0,479.4a1.75,1.75 0 1,0 3.5,0a1.75,1.75 0 1,0 -3.5,0M388.8,480.0a1.75,1.75 0 1,0 3.5,0a1.75,1.75 0 1,0 -3.5,0M390.7,480.5a1.75,1.75 0 1,0 3.5,0a1.75,1.75 0 1,0 -3.5,0M392.5,480.9a1.75,1.75 0 1,0 3.5,0a1.75,1.75 0 1,0 -3.5,0M394.5,481.3a1.75,1.75 0 1,0 3.5,0a1.75,1.75 0 1,0 -3.5,0M396.4,481.7a1.75,1.75 0 1,0 3.5,0a1.75,1.75 0 1,0 -3.5,0M398.4,482.1a1.75,1.75 0 1,0 3.5,0a1.75,1.75 0 1,0 -3.5,0M400.3,482.4a1.75,1.75 0 1,0 3.5,0a1.75,1.75 0 1,0 -3.5,0M402.1,482.5a1.75,1.75 0 1,0 3.5,0a1.75,1.75 0 1,0 -3.5,0M404.0,482.6a1.75,1.75 0 1,0 3.5,0a1.75,1.75 0 1,0 -3.5,0M405.9,482.7a1.75,1.75 0 1,0 3.5,0a1.75,1.75 0 1,0 -3.5,0M407.8,483.1a1.75,1.75 0 1,0 3.5,0a1.75,1.75 0 1,0 -3.5,0M409.6,485.3a1.75,1.75 0 1,0 3.5,0a1.75,1.75 0 1,0 -3.5,0M411.5,489.2a1.75,1.75 0 1,0 3.5,0a1.75,1.75 0 1,0 -3.5,0M413.4,492.1a1.75,1.75 0 1,0 3.5,0a1.75,1.75 0 1,0 -3.5,0M415.2,494.8a1.75,1.75 0 1,0 3.5,0a1.75,1.75 0 1,0 -3.5,0M417.1,497.5a1.75,1.75 0 1,0 3.5,0a1.75,1.75 0 1,0 -3.5,0M418.9,499.9a1.75,1.75 0 1,0 3.5,0a1.75,1.75 0 1,0 -3.5,0M420.8,502.1a1.75,1.75 0 1,0 3.5,0a1.75,1.75 0 1,0 -3.5,0M422.6,504.4a1.75,1.75 0 1,0 3.5,0a1.75,1.75 0 1,0 -3.5,0M424.5,506.8a1.75,1.75 0 1,0 3.5,0a1.75,1.75 0 1,0 -3.5,0M426.4,509.2a1.75,1.75 0 1,0 3.5,0a1.75,1.75 0 1,0 -3.5,0M428.2,512.3a1.75,1.75 0 1,0 3.5,0a1.75,1.75 0 1,0 -3.5,0M407.9,472.9a1.75,1.75 0 1,0 3.5,0a1.75,1.75 0 1,0 -3.5,0M409.8,469.9a1.75,1.75 0 1,0 3.5,0a1.75,1.75 0 1,0 -3.5,0M411.7,466.9a1.75,1.75 0 1,0 3.5,0a1.75,1.75 0 1,0 -3.5,0M413.5,464.0a1.75,1.75 0 1,0 3.5,0a1.75,1.75 0 1,0 -3.5,0M415.4,461.0a1.75,1.75 0 1,0 3.5,0a1.75,1.75 0 1,0 -3.5,0M417.3,458.3a1.75,1.75 0 1,0 3.5,0a1.75,1.75 0 1,0 -3.5,0M419.2,455.4a1.75,1.75 0 1,0 3.5,0a1.75,1.75 0 1,0 -3.5,0M421.1,452.7a1.75,1.75 0 1,0 3.5,0a1.75,1.75 0 1,0 -3.5,0M422.9,450.0a1.75,1.75 0 1,0 3.5,0a1.75,1.75 0 1,0 -3.5,0M424.8,447.5a1.75,1.75 0 1,0 3.5,0a1.75,1.75 0 1,0 -3.5,0M426.6,445.1a1.75,1.75 0 1,0 3.5,0a1.75,1.75 0 1,0 -3.5,0M428.5,442.9a1.75,1.75 0 1,0 3.5,0a1.75,1.75 0 1,0 -3.5,0M430.4,440.4a1.75,1.75 0 1,0 3.5,0a1.75,1.75 0 1,0 -3.5,0M432.3,437.8a1.75,1.75 0 1,0 3.5,0a1.75,1.75 0 1,0 -3.5,0M434.1,435.4a1.75,1.75 0 1,0 3.5,0a1.75,1.75 0 1,0 -3.5,0M436.0,433.1a1.75,1.75 0 1,0 3.5,0a1.75,1.75 0 1,0 -3.5,0M437.9,430.9a1.75,1.75 0 1,0 3.5,0a1.75,1.75 0 1,0 -3.5,0M439.7,429.1a1.75,1.75 0 1,0 3.5,0a1.75,1.75 0 1,0 -3.5,0M441.5,427.7a1.75,1.75 0 1,0 3.5,0a1.75,1.75 0 1,0 -3.5,0M443.4,426.8a1.75,1.75 0 1,0 3.5,0a1.75,1.75 0 1,0 -3.5,0M445.2,426.6a1.75,1.75 0 1,0 3.5,0a1.75,1.75 0 1,0 -3.5,0M447.1,427.1a1.75,1.75 0 1,0 3.5,0a1.75,1.75 0 1,0 -3.5,0M449.0,428.2a1.75,1.75 0 1,0 3.5,0a1.75,1.75 0 1,0 -3.5,0M450.8,429.7a1.75,1.75 0 1,0 3.5,0a1.75,1.75 0 1,0 -3.5,0M452.7,431.6a1.75,1.75 0 1,0 3.5,0a1.75,1.75 0 1,0 -3.5,0M454.6,433.7a1.75,1.75 0 1,0 3.5,0a1.75,1.75 0 1,0 -3.5,0M456.4,435.9a1.75,1.75 0 1,0 3.5,0a1.75,1.75 0 1,0 -3.5,0M458.3,438.2a1.75,1.75 0 1,0 3.5,0a1.75,1.75 0 1,0 -3.5,0M460.2,440.9a1.75,1.75 0 1,0 3.5,0a1.75,1.75 0 1,0 -3.5,0M462.0,444.2a1.75,1.75 0 1,0 3.5,0a1.75,1.75 0 1,0 -3.5,0M463.9,447.8a1.75,1.75 0 1,0 3.5,0a1.75,1.75 0 1,0 -3.5,0M465.8,451.7a1.75,1.75 0 1,0 3.5,0a1.75,1.75 0 1,0 -3.5,0M467.6,455.7a1.75,1.75 0 1,0 3.5,0a1.75,1.75 0 1,0 -3.5,0M469.2,459.8a1.75,1.75 0 1,0 3.5,0a1.75,1.75 0 1,0 -3.5,0M470.8,464.1a1.75,1.75 0 1,0 3.5,0a1.75,1.75 0 1,0 -3.5,0M472.5,468.3a1.75,1.75 0 1,0 3.5,0a1.75,1.75 0 1,0 -3.5,0M474.3,471.9a1.75,1.75 0 1,0 3.5,0a1.75,1.75 0 1,0 -3.5,0M476.2,473.5a1.75,1.75 0 1,0 3.5,0a1.75,1.75 0 1,0 -3.5,0M478.1,472.5a1.75,1.75 0 1,0 3.5,0a1.75,1.75 0 1,0 -3.5,0M479.9,469.4a1.75,1.75 0 1,0 3.5,0a1.75,1.75 0 1,0 -3.5,0M481.7,465.2a1.75,1.75 0 1,0 3.5,0a1.75,1.75 0 1,0 -3.5,0M483.2,461.0a1.75,1.75 0 1,0 3.5,0a1.75,1.75 0 1,0 -3.5,0M484.3,456.6a1.75,1.75 0 1,0 3.5,0a1.75,1.75 0 1,0 -3.5,0M485.4,452.1a1.75,1.75 0 1,0 3.5,0a1.75,1.75 0 1,0 -3.5,0M486.5,447.6a1.75,1.75 0 1,0 3.5,0a1.75,1.75 0 1,0 -3.5,0M487.6,443.3a1.75,1.75 0 1,0 3.5,0a1.75,1.75 0 1,0 -3.5,0M489.0,438.7a1.75,1.75 0 1,0 3.5,0a1.75,1.75 0 1,0 -3.5,0M490.9,434.9a1.75,1.75 0 1,0 3.5,0a1.75,1.75 0 1,0 -3.5,0M492.7,433.1a1.75,1.75 0 1,0 3.5,0a1.75,1.75 0 1,0 -3.5,0M494.6,432.3a1.75,1.75 0 1,0 3.5,0a1.75,1.75 0 1,0 -3.5,0M496.5,432.0a1.75,1.75 0 1,0 3.5,0a1.75,1.75 0 1,0 -3.5,0M498.4,432.2a1.75,1.75 0 1,0 3.5,0a1.75,1.75 0 1,0 -3.5,0M500.2,432.9a1.75,1.75 0 1,0 3.5,0a1.75,1.75 0 1,0 -3.5,0M502.0,434.2a1.75,1.75 0 1,0 3.5,0a1.75,1.75 0 1,0 -3.5,0M503.8,436.1a1.75,1.75 0 1,0 3.5,0a1.75,1.75 0 1,0 -3.5,0M505.7,438.6a1.75,1.75 0 1,0 3.5,0a1.75,1.75 0 1,0 -3.5,0M507.6,441.4a1.75,1.75 0 1,0 3.5,0a1.75,1.75 0 1,0 -3.5,0M509.4,444.5a1.75,1.75 0 1,0 3.5,0a1.75,1.75 0 1,0 -3.5,0M511.2,447.6a1.75,1.75 0 1,0 3.5,0a1.75,1.75 0 1,0 -3.5,0M513.0,450.9a1.75,1.75 0 1,0 3.5,0a1.75,1.75 0 1,0 -3.5,0M514.9,454.5a1.75,1.75 0 1,0 3.5,0a1.75,1.75 0 1,0 -3.5,0M516.8,458.3a1.75,1.75 0 1,0 3.5,0a1.75,1.75 0 1,0 -3.5,0M518.6,462.2a1.75,1.75 0 1,0 3.5,0a1.75,1.75 0 1,0 -3.5,0M520.5,466.1a1.75,1.75 0 1,0 3.5,0a1.75,1.75 0 1,0 -3.5,0M522.3,470.1a1.75,1.75 0 1,0 3.5,0a1.75,1.75 0 1,0 -3.5,0M524.0,474.2a1.75,1.75 0 1,0 3.5,0a1.75,1.75 0 1,0 -3.5,0M525.7,478.5a1.75,1.75 0 1,0 3.5,0a1.75,1.75 0 1,0 -3.5,0M527.3,482.8a1.75,1.75 0 1,0 3.5,0a1.75,1.75 0 1,0 -3.5,0M528.8,487.1a1.75,1.75 0 1,0 3.5,0a1.75,1.75 0 1,0 -3.5,0M530.2,491.3a1.75,1.75 0 1,0 3.5,0a1.75,1.75 0 1,0 -3.5,0M531.6,495.5a1.75,1.75 0 1,0 3.5,0a1.75,1.75 0 1,0 -3.5,0M532.6,500.1a1.75,1.75 0 1,0 3.5,0a1.75,1.75 0 1,0 -3.5,0M533.6,504.5a1.75,1.75 0 1,0 3.5,0a1.75,1.75 0 1,0 -3.5,0M535.5,507.1a1.75,1.75 0 1,0 3.5,0a1.75,1.75 0 1,0 -3.5,0M537.3,504.3a1.75,1.75 0 1,0 3.5,0a1.75,1.75 0 1,0 -3.5,0M538.9,500.1a1.75,1.75 0 1,0 3.5,0a1.75,1.75 0 1,0 -3.5,0M540.3,495.8a1.75,1.75 0 1,0 3.5,0a1.75,1.75 0 1,0 -3.5,0M541.7,491.6a1.75,1.75 0 1,0 3.5,0a1.75,1.75 0 1,0 -3.5,0M543.2,487.3a1.75,1.75 0 1,0 3.5,0a1.75,1.75 0 1,0 -3.5,0M544.8,483.1a1.75,1.75 0 1,0 3.5,0a1.75,1.75 0 1,0 -3.5,0M546.3,478.8a1.75,1.75 0 1,0 3.5,0a1.75,1.75 0 1,0 -3.5,0M547.7,474.5a1.75,1.75 0 1,0 3.5,0a1.75,1.75 0 1,0 -3.5,0M549.2,470.3a1.75,1.75 0 1,0 3.5,0a1.75,1.75 0 1,0 -3.5,0M550.8,466.2a1.75,1.75 0 1,0 3.5,0a1.75,1.75 0 1,0 -3.5,0M552.6,462.9a1.75,1.75 0 1,0 3.5,0a1.75,1.75 0 1,0 -3.5,0M554.5,461.4a1.75,1.75 0 1,0 3.5,0a1.75,1.75 0 1,0 -3.5,0M556.4,461.9a1.75,1.75 0 1,0 3.5,0a1.75,1.75 0 1,0 -3.5,0M558.2,463.5a1.75,1.75 0 1,0 3.5,0a1.75,1.75 0 1,0 -3.5,0M560.1,466.0a1.75,1.75 0 1,0 3.5,0a1.75,1.75 0 1,0 -3.5,0M561.9,468.5a1.75,1.75 0 1,0 3.5,0a1.75,1.75 0 1,0 -3.5,0M563.7,470.6a1.75,1.75 0 1,0 3.5,0a1.75,1.75 0 1,0 -3.5,0M565.6,472.0a1.75,1.75 0 1,0 3.5,0a1.75,1.75 0 1,0 -3.5,0M567.4,472.7a1.75,1.75 0 1,0 3.5,0a1.75,1.75 0 1,0 -3.5,0M569.3,473.5a1.75,1.75 0 1,0 3.5,0a1.75,1.75 0 1,0 -3.5,0M571.3,474.3a1.75,1.75 0 1,0 3.5,0a1.75,1.75 0 1,0 -3.5,0M573.1,475.1a1.75,1.75 0 1,0 3.5,0a1.75,1.75 0 1,0 -3.5,0M575.1,475.9a1.75,1.75 0 1,0 3.5,0a1.75,1.75 0 1,0 -3.5,0M577.0,476.6a1.75,1.75 0 1,0 3.5,0a1.75,1.75 0 1,0 -3.5,0M578.8,477.3a1.75,1.75 0 1,0 3.5,0a1.75,1.75 0 1,0 -3.5,0M580.8,477.9a1.75,1.75 0 1,0 3.5,0a1.75,1.75 0 1,0 -3.5,0M582.7,478.8a1.75,1.75 0 1,0 3.5,0a1.75,1.75 0 1,0 -3.5,0M584.6,479.6a1.75,1.75 0 1,0 3.5,0a1.75,1.75 0 1,0 -3.5,0M586.4,480.4a1.75,1.75 0 1,0 3.5,0a1.75,1.75 0 1,0 -3.5,0M588.2,481.0a1.75,1.75 0 1,0 3.5,0a1.75,1.75 0 1,0 -3.5,0M590.2,481.3a1.75,1.75 0 1,0 3.5,0a1.75,1.75 0 1,0 -3.5,0M592.1,481.2a1.75,1.75 0 1,0 3.5,0a1.75,1.75 0 1,0 -3.5,0M593.9,480.4a1.75,1.75 0 1,0 3.5,0a1.75,1.75 0 1,0 -3.5,0M595.7,478.5a1.75,1.75 0 1,0 3.5,0a1.75,1.75 0 1,0 -3.5,0M597.5,475.9a1.75,1.75 0 1,0 3.5,0a1.75,1.75 0 1,0 -3.5,0M599.4,472.8a1.75,1.75 0 1,0 3.5,0a1.75,1.75 0 1,0 -3.5,0M601.3,469.9a1.75,1.75 0 1,0 3.5,0a1.75,1.75 0 1,0 -3.5,0M603.1,467.8a1.75,1.75 0 1,0 3.5,0a1.75,1.75 0 1,0 -3.5,0M605.0,466.1a1.75,1.75 0 1,0 3.5,0a1.75,1.75 0 1,0 -3.5,0M606.8,464.6a1.75,1.75 0 1,0 3.5,0a1.75,1.75 0 1,0 -3.5,0M608.7,463.3a1.75,1.75 0 1,0 3.5,0a1.75,1.75 0 1,0 -3.5,0M610.6,462.2a1.75,1.75 0 1,0 3.5,0a1.75,1.75 0 1,0 -3.5,0M612.5,461.2a1.75,1.75 0 1,0 3.5,0a1.75,1.75 0 1,0 -3.5,0M614.5,460.6a1.75,1.75 0 1,0 3.5,0a1.75,1.75 0 1,0 -3.5,0M616.3,460.4a1.75,1.75 0 1,0 3.5,0a1.75,1.75 0 1,0 -3.5,0M618.2,460.6a1.75,1.75 0 1,0 3.5,0a1.75,1.75 0 1,0 -3.5,0M620.2,461.1a1.75,1.75 0 1,0 3.5,0a1.75,1.75 0 1,0 -3.5,0M622.1,461.8a1.75,1.75 0 1,0 3.5,0a1.75,1.75 0 1,0 -3.5,0M624.0,462.7a1.75,1.75 0 1,0 3.5,0a1.75,1.75 0 1,0 -3.5,0M626.0,463.5a1.75,1.75 0 1,0 3.5,0a1.75,1.75 0 1,0 -3.5,0M627.9,464.2a1.75,1.75 0 1,0 3.5,0a1.75,1.75 0 1,0 -3.5,0M629.8,464.9a1.75,1.75 0 1,0 3.5,0a1.75,1.75 0 1,0 -3.5,0M631.7,465.6a1.75,1.75 0 1,0 3.5,0a1.75,1.75 0 1,0 -3.5,0M633.6,466.1a1.75,1.75 0 1,0 3.5,0a1.75,1.75 0 1,0 -3.5,0M635.5,466.3a1.75,1.75 0 1,0 3.5,0a1.75,1.75 0 1,0 -3.5,0M637.4,466.2a1.75,1.75 0 1,0 3.5,0a1.75,1.75 0 1,0 -3.5,0M639.4,466.1a1.75,1.75 0 1,0 3.5,0a1.75,1.75 0 1,0 -3.5,0M641.2,466.0a1.75,1.75 0 1,0 3.5,0a1.75,1.75 0 1,0 -3.5,0M643.1,465.6a1.75,1.75 0 1,0 3.5,0a1.75,1.75 0 1,0 -3.5,0M645.0,465.1a1.75,1.75 0 1,0 3.5,0a1.75,1.75 0 1,0 -3.5,0M646.9,464.1a1.75,1.75 0 1,0 3.5,0a1.75,1.75 0 1,0 -3.5,0M648.8,462.3a1.75,1.75 0 1,0 3.5,0a1.75,1.75 0 1,0 -3.5,0M650.6,458.9a1.75,1.75 0 1,0 3.5,0a1.75,1.75 0 1,0 -3.5,0M652.1,454.5a1.75,1.75 0 1,0 3.5,0a1.75,1.75 0 1,0 -3.5,0M653.4,450.3a1.75,1.75 0 1,0 3.5,0a1.75,1.75 0 1,0 -3.5,0M655.0,446.2a1.75,1.75 0 1,0 3.5,0a1.75,1.75 0 1,0 -3.5,0M656.8,442.5a1.75,1.75 0 1,0 3.5,0a1.75,1.75 0 1,0 -3.5,0M658.7,439.2a1.75,1.75 0 1,0 3.5,0a1.75,1.75 0 1,0 -3.5,0M660.5,436.1a1.75,1.75 0 1,0 3.5,0a1.75,1.75 0 1,0 -3.5,0M662.4,433.1a1.75,1.75 0 1,0 3.5,0a1.75,1.75 0 1,0 -3.5,0M664.2,430.1a1.75,1.75 0 1,0 3.5,0a1.75,1.75 0 1,0 -3.5,0M666.0,427.1a1.75,1.75 0 1,0 3.5,0a1.75,1.75 0 1,0 -3.5,0M667.9,424.1a1.75,1.75 0 1,0 3.5,0a1.75,1.75 0 1,0 -3.5,0M669.8,421.3a1.75,1.75 0 1,0 3.5,0a1.75,1.75 0 1,0 -3.5,0M671.6,419.3a1.75,1.75 0 1,0 3.5,0a1.75,1.75 0 1,0 -3.5,0M673.4,418.0a1.75,1.75 0 1,0 3.5,0a1.75,1.75 0 1,0 -3.5,0M675.2,417.0a1.75,1.75 0 1,0 3.5,0a1.75,1.75 0 1,0 -3.5,0M677.1,416.2a1.75,1.75 0 1,0 3.5,0a1.75,1.75 0 1,0 -3.5,0M445.2,415.3a1.75,1.75 0 1,0 3.5,0a1.75,1.75 0 1,0 -3.5,0M443.6,419.6a1.75,1.75 0 1,0 3.5,0a1.75,1.75 0 1,0 -3.5,0M441.9,423.7a1.75,1.75 0 1,0 3.5,0a1.75,1.75 0 1,0 -3.5,0M440.3,428.0a1.75,1.75 0 1,0 3.5,0a1.75,1.75 0 1,0 -3.5,0M438.9,432.2a1.75,1.75 0 1,0 3.5,0a1.75,1.75 0 1,0 -3.5,0M437.7,436.6a1.75,1.75 0 1,0 3.5,0a1.75,1.75 0 1,0 -3.5,0M436.6,441.0a1.75,1.75 0 1,0 3.5,0a1.75,1.75 0 1,0 -3.5,0M435.5,445.4a1.75,1.75 0 1,0 3.5,0a1.75,1.75 0 1,0 -3.5,0M434.5,449.7a1.75,1.75 0 1,0 3.5,0a1.75,1.75 0 1,0 -3.5,0M433.6,454.1a1.75,1.75 0 1,0 3.5,0a1.75,1.75 0 1,0 -3.5,0M432.7,458.4a1.75,1.75 0 1,0 3.5,0a1.75,1.75 0 1,0 -3.5,0M431.8,462.7a1.75,1.75 0 1,0 3.5,0a1.75,1.75 0 1,0 -3.5,0M430.9,467.2a1.75,1.75 0 1,0 3.5,0a1.75,1.75 0 1,0 -3.5,0M430.1,471.6a1.75,1.75 0 1,0 3.5,0a1.75,1.75 0 1,0 -3.5,0M429.4,476.0a1.75,1.75 0 1,0 3.5,0a1.75,1.75 0 1,0 -3.5,0M428.7,480.4a1.75,1.75 0 1,0 3.5,0a1.75,1.75 0 1,0 -3.5,0M428.0,484.9a1.75,1.75 0 1,0 3.5,0a1.75,1.75 0 1,0 -3.5,0M427.4,489.3a1.75,1.75 0 1,0 3.5,0a1.75,1.75 0 1,0 -3.5,0M426.6,493.9a1.75,1.75 0 1,0 3.5,0a1.75,1.75 0 1,0 -3.5,0M425.8,498.4a1.75,1.75 0 1,0 3.5,0a1.75,1.75 0 1,0 -3.5,0M425.0,502.8a1.75,1.75 0 1,0 3.5,0a1.75,1.75 0 1,0 -3.5,0M424.2,507.3a1.75,1.75 0 1,0 3.5,0a1.75,1.75 0 1,0 -3.5,0M445.1,415.3a1.75,1.75 0 1,0 3.5,0a1.75,1.75 0 1,0 -3.5,0M446.8,419.6a1.75,1.75 0 1,0 3.5,0a1.75,1.75 0 1,0 -3.5,0M448.5,423.7a1.75,1.75 0 1,0 3.5,0a1.75,1.75 0 1,0 -3.5,0M450.1,428.0a1.75,1.75 0 1,0 3.5,0a1.75,1.75 0 1,0 -3.5,0M451.5,432.2a1.75,1.75 0 1,0 3.5,0a1.75,1.75 0 1,0 -3.5,0M452.7,436.6a1.75,1.75 0 1,0 3.5,0a1.75,1.75 0 1,0 -3.5,0M453.8,441.0a1.75,1.75 0 1,0 3.5,0a1.75,1.75 0 1,0 -3.5,0M454.8,445.4a1.75,1.75 0 1,0 3.5,0a1.75,1.75 0 1,0 -3.5,0M455.7,449.7a1.75,1.75 0 1,0 3.5,0a1.75,1.75 0 1,0 -3.5,0M456.7,454.1a1.75,1.75 0 1,0 3.5,0a1.75,1.75 0 1,0 -3.5,0M457.6,458.4a1.75,1.75 0 1,0 3.5,0a1.75,1.75 0 1,0 -3.5,0M458.6,462.7a1.75,1.75 0 1,0 3.5,0a1.75,1.75 0 1,0 -3.5,0M459.7,467.2a1.75,1.75 0 1,0 3.5,0a1.75,1.75 0 1,0 -3.5,0M460.8,471.5a1.75,1.75 0 1,0 3.5,0a1.75,1.75 0 1,0 -3.5,0M461.9,475.7a1.75,1.75 0 1,0 3.5,0a1.75,1.75 0 1,0 -3.5,0M463.0,480.1a1.75,1.75 0 1,0 3.5,0a1.75,1.75 0 1,0 -3.5,0M464.1,484.5a1.75,1.75 0 1,0 3.5,0a1.75,1.75 0 1,0 -3.5,0M465.2,488.8a1.75,1.75 0 1,0 3.5,0a1.75,1.75 0 1,0 -3.5,0M466.1,493.1a1.75,1.75 0 1,0 3.5,0a1.75,1.75 0 1,0 -3.5,0M467.0,497.7a1.75,1.75 0 1,0 3.5,0a1.75,1.75 0 1,0 -3.5,0M467.7,502.2a1.75,1.75 0 1,0 3.5,0a1.75,1.75 0 1,0 -3.5,0M468.4,506.6a1.75,1.75 0 1,0 3.5,0a1.75,1.75 0 1,0 -3.5,0M384.9,511.0a1.75,1.75 0 1,0 3.5,0a1.75,1.75 0 1,0 -3.5,0M386.4,506.7a1.75,1.75 0 1,0 3.5,0a1.75,1.75 0 1,0 -3.5,0M387.9,502.3a1.75,1.75 0 1,0 3.5,0a1.75,1.75 0 1,0 -3.5,0M389.4,498.2a1.75,1.75 0 1,0 3.5,0a1.75,1.75 0 1,0 -3.5,0M391.0,493.9a1.75,1.75 0 1,0 3.5,0a1.75,1.75 0 1,0 -3.5,0M392.8,489.8a1.75,1.75 0 1,0 3.5,0a1.75,1.75 0 1,0 -3.5,0M394.7,486.5a1.75,1.75 0 1,0 3.5,0a1.75,1.75 0 1,0 -3.5,0M396.6,483.9a1.75,1.75 0 1,0 3.5,0a1.75,1.75 0 1,0 -3.5,0M398.5,481.8a1.75,1.75 0 1,0 3.5,0a1.75,1.75 0 1,0 -3.5,0M400.3,480.0a1.75,1.75 0 1,0 3.5,0a1.75,1.75 0 1,0 -3.5,0M402.2,478.8a1.75,1.75 0 1,0 3.5,0a1.75,1.75 0 1,0 -3.5,0M404.0,478.0a1.75,1.75 0 1,0 3.5,0a1.75,1.75 0 1,0 -3.5,0M405.8,477.3a1.75,1.75 0 1,0 3.5,0a1.75,1.75 0 1,0 -3.5,0M553.8,461.8a1.75,1.75 0 1,0 3.5,0a1.75,1.75 0 1,0 -3.5,0M555.6,463.3a1.75,1.75 0 1,0 3.5,0a1.75,1.75 0 1,0 -3.5,0M557.5,464.8a1.75,1.75 0 1,0 3.5,0a1.75,1.75 0 1,0 -3.5,0M559.3,466.4a1.75,1.75 0 1,0 3.5,0a1.75,1.75 0 1,0 -3.5,0M561.3,468.0a1.75,1.75 0 1,0 3.5,0a1.75,1.75 0 1,0 -3.5,0M563.1,469.4a1.75,1.75 0 1,0 3.5,0a1.75,1.75 0 1,0 -3.5,0M565.0,470.8a1.75,1.75 0 1,0 3.5,0a1.75,1.75 0 1,0 -3.5,0M566.9,472.2a1.75,1.75 0 1,0 3.5,0a1.75,1.75 0 1,0 -3.5,0M568.8,473.4a1.75,1.75 0 1,0 3.5,0a1.75,1.75 0 1,0 -3.5,0M570.8,474.5a1.75,1.75 0 1,0 3.5,0a1.75,1.75 0 1,0 -3.5,0M572.7,475.4a1.75,1.75 0 1,0 3.5,0a1.75,1.75 0 1,0 -3.5,0M574.6,476.2a1.75,1.75 0 1,0 3.5,0a1.75,1.75 0 1,0 -3.5,0M576.4,476.9a1.75,1.75 0 1,0 3.5,0a1.75,1.75 0 1,0 -3.5,0M578.2,477.5a1.75,1.75 0 1,0 3.5,0a1.75,1.75 0 1,0 -3.5,0M580.2,478.2a1.75,1.75 0 1,0 3.5,0a1.75,1.75 0 1,0 -3.5,0M582.1,478.8a1.75,1.75 0 1,0 3.5,0a1.75,1.75 0 1,0 -3.5,0M584.0,479.2a1.75,1.75 0 1,0 3.5,0a1.75,1.75 0 1,0 -3.5,0M585.8,479.5a1.75,1.75 0 1,0 3.5,0a1.75,1.75 0 1,0 -3.5,0M587.6,479.8a1.75,1.75 0 1,0 3.5,0a1.75,1.75 0 1,0 -3.5,0M589.6,480.2a1.75,1.75 0 1,0 3.5,0a1.75,1.75 0 1,0 -3.5,0M591.5,480.7a1.75,1.75 0 1,0 3.5,0a1.75,1.75 0 1,0 -3.5,0M593.3,481.3a1.75,1.75 0 1,0 3.5,0a1.75,1.75 0 1,0 -3.5,0M595.3,482.3a1.75,1.75 0 1,0 3.5,0a1.75,1.75 0 1,0 -3.5,0M597.1,483.3a1.75,1.75 0 1,0 3.5,0a1.75,1.75 0 1,0 -3.5,0M598.9,484.5a1.75,1.75 0 1,0 3.5,0a1.75,1.75 0 1,0 -3.5,0M600.8,485.7a1.75,1.75 0 1,0 3.5,0a1.75,1.75 0 1,0 -3.5,0M602.8,486.9a1.75,1.75 0 1,0 3.5,0a1.75,1.75 0 1,0 -3.5,0M604.7,488.1a1.75,1.75 0 1,0 3.5,0a1.75,1.75 0 1,0 -3.5,0M606.5,489.2a1.75,1.75 0 1,0 3.5,0a1.75,1.75 0 1,0 -3.5,0M608.4,490.4a1.75,1.75 0 1,0 3.5,0a1.75,1.75 0 1,0 -3.5,0M610.2,491.5a1.75,1.75 0 1,0 3.5,0a1.75,1.75 0 1,0 -3.5,0M612.1,492.6a1.75,1.75 0 1,0 3.5,0a1.75,1.75 0 1,0 -3.5,0M614.0,493.6a1.75,1.75 0 1,0 3.5,0a1.75,1.75 0 1,0 -3.5,0M615.9,494.3a1.75,1.75 0 1,0 3.5,0a1.75,1.75 0 1,0 -3.5,0M617.7,494.7a1.75,1.75 0 1,0 3.5,0a1.75,1.75 0 1,0 -3.5,0M619.6,495.3a1.75,1.75 0 1,0 3.5,0a1.75,1.75 0 1,0 -3.5,0M621.5,496.8a1.75,1.75 0 1,0 3.5,0a1.75,1.75 0 1,0 -3.5,0M623.4,499.9a1.75,1.75 0 1,0 3.5,0a1.75,1.75 0 1,0 -3.5,0M625.3,503.2a1.75,1.75 0 1,0 3.5,0a1.75,1.75 0 1,0 -3.5,0M627.1,506.7a1.75,1.75 0 1,0 3.5,0a1.75,1.75 0 1,0 -3.5,0M575.2,508.5a1.75,1.75 0 1,0 3.5,0a1.75,1.75 0 1,0 -3.5,0M577.1,504.4a1.75,1.75 0 1,0 3.5,0a1.75,1.75 0 1,0 -3.5,0M579.0,500.2a1.75,1.75 0 1,0 3.5,0a1.75,1.75 0 1,0 -3.5,0M580.8,496.2a1.75,1.75 0 1,0 3.5,0a1.75,1.75 0 1,0 -3.5,0M582.8,492.6a1.75,1.75 0 1,0 3.5,0a1.75,1.75 0 1,0 -3.5,0M584.7,489.8a1.75,1.75 0 1,0 3.5,0a1.75,1.75 0 1,0 -3.5,0M586.5,487.5a1.75,1.75 0 1,0 3.5,0a1.75,1.75 0 1,0 -3.5,0M588.4,485.3a1.75,1.75 0 1,0 3.5,0a1.75,1.75 0 1,0 -3.5,0M590.2,483.0a1.75,1.75 0 1,0 3.5,0a1.75,1.75 0 1,0 -3.5,0M592.2,481.2a1.75,1.75 0 1,0 3.5,0a1.75,1.75 0 1,0 -3.5,0M594.0,481.5a1.75,1.75 0 1,0 3.5,0a1.75,1.75 0 1,0 -3.5,0M595.8,483.5a1.75,1.75 0 1,0 3.5,0a1.75,1.75 0 1,0 -3.5,0M597.7,486.2a1.75,1.75 0 1,0 3.5,0a1.75,1.75 0 1,0 -3.5,0M599.5,489.2a1.75,1.75 0 1,0 3.5,0a1.75,1.75 0 1,0 -3.5,0M601.3,492.6a1.75,1.75 0 1,0 3.5,0a1.75,1.75 0 1,0 -3.5,0M603.2,496.3a1.75,1.75 0 1,0 3.5,0a1.75,1.75 0 1,0 -3.5,0M605.0,500.5a1.75,1.75 0 1,0 3.5,0a1.75,1.75 0 1,0 -3.5,0M606.7,504.7a1.75,1.75 0 1,0 3.5,0a1.75,1.75 0 1,0 -3.5,0M627.0,510.0a1.75,1.75 0 1,0 3.5,0a1.75,1.75 0 1,0 -3.5,0M628.8,506.1a1.75,1.75 0 1,0 3.5,0a1.75,1.75 0 1,0 -3.5,0M630.6,502.1a1.75,1.75 0 1,0 3.5,0a1.75,1.75 0 1,0 -3.5,0M632.5,498.1a1.75,1.75 0 1,0 3.5,0a1.75,1.75 0 1,0 -3.5,0M634.2,493.9a1.75,1.75 0 1,0 3.5,0a1.75,1.75 0 1,0 -3.5,0M635.7,489.6a1.75,1.75 0 1,0 3.5,0a1.75,1.75 0 1,0 -3.5,0M637.2,485.4a1.75,1.75 0 1,0 3.5,0a1.75,1.75 0 1,0 -3.5,0M638.6,481.2a1.75,1.75 0 1,0 3.5,0a1.75,1.75 0 1,0 -3.5,0M640.1,477.0a1.75,1.75 0 1,0 3.5,0a1.75,1.75 0 1,0 -3.5,0M641.8,472.8a1.75,1.75 0 1,0 3.5,0a1.75,1.75 0 1,0 -3.5,0M643.5,468.5a1.75,1.75 0 1,0 3.5,0a1.75,1.75 0 1,0 -3.5,0M645.3,464.3a1.75,1.75 0 1,0 3.5,0a1.75,1.75 0 1,0 -3.5,0M652.5,510.0a1.75,1.75 0 1,0 3.5,0a1.75,1.75 0 1,0 -3.5,0M653.4,505.7a1.75,1.75 0 1,0 3.5,0a1.75,1.75 0 1,0 -3.5,0M654.4,501.2a1.75,1.75 0 1,0 3.5,0a1.75,1.75 0 1,0 -3.5,0M655.4,496.8a1.75,1.75 0 1,0 3.5,0a1.75,1.75 0 1,0 -3.5,0M656.3,492.3a1.75,1.75 0 1,0 3.5,0a1.75,1.75 0 1,0 -3.5,0M657.3,487.9a1.75,1.75 0 1,0 3.5,0a1.75,1.75 0 1,0 -3.5,0M658.3,483.5a1.75,1.75 0 1,0 3.5,0a1.75,1.75 0 1,0 -3.5,0M659.3,479.0a1.75,1.75 0 1,0 3.5,0a1.75,1.75 0 1,0 -3.5,0M660.3,474.5a1.75,1.75 0 1,0 3.5,0a1.75,1.75 0 1,0 -3.5,0M661.3,470.2a1.75,1.75 0 1,0 3.5,0a1.75,1.75 0 1,0 -3.5,0M662.3,465.9a1.75,1.75 0 1,0 3.5,0a1.75,1.75 0 1,0 -3.5,0M663.3,461.4a1.75,1.75 0 1,0 3.5,0a1.75,1.75 0 1,0 -3.5,0M664.3,457.1a1.75,1.75 0 1,0 3.5,0a1.75,1.75 0 1,0 -3.5,0M665.3,452.7a1.75,1.75 0 1,0 3.5,0a1.75,1.75 0 1,0 -3.5,0M666.4,448.4a1.75,1.75 0 1,0 3.5,0a1.75,1.75 0 1,0 -3.5,0M667.5,444.0a1.75,1.75 0 1,0 3.5,0a1.75,1.75 0 1,0 -3.5,0M668.7,439.6a1.75,1.75 0 1,0 3.5,0a1.75,1.75 0 1,0 -3.5,0M669.9,435.2a1.75,1.75 0 1,0 3.5,0a1.75,1.75 0 1,0 -3.5,0M671.2,431.0a1.75,1.75 0 1,0 3.5,0a1.75,1.75 0 1,0 -3.5,0M673.0,426.8a1.75,1.75 0 1,0 3.5,0a1.75,1.75 0 1,0 -3.5,0M674.8,425.1a1.75,1.75 0 1,0 3.5,0a1.75,1.75 0 1,0 -3.5,0M489.8,290.0a1.75,1.75 0 1,0 3.5,0a1.75,1.75 0 1,0 -3.5,0M491.4,294.3a1.75,1.75 0 1,0 3.5,0a1.75,1.75 0 1,0 -3.5,0M493.0,298.4a1.75,1.75 0 1,0 3.5,0a1.75,1.75 0 1,0 -3.5,0M494.8,301.5a1.75,1.75 0 1,0 3.5,0a1.75,1.75 0 1,0 -3.5,0M496.6,298.5a1.75,1.75 0 1,0 3.5,0a1.75,1.75 0 1,0 -3.5,0M498.3,294.2a1.75,1.75 0 1,0 3.5,0a1.75,1.75 0 1,0 -3.5,0M499.8,290.0a1.75,1.75 0 1,0 3.5,0a1.75,1.75 0 1,0 -3.5,0M493.9,465.5a1.75,1.75 0 1,0 3.5,0a1.75,1.75 0 1,0 -3.5,0M492.1,467.4a1.75,1.75 0 1,0 3.5,0a1.75,1.75 0 1,0 -3.5,0M490.3,469.4a1.75,1.75 0 1,0 3.5,0a1.75,1.75 0 1,0 -3.5,0M488.3,471.5a1.75,1.75 0 1,0 3.5,0a1.75,1.75 0 1,0 -3.5,0M486.5,473.8a1.75,1.75 0 1,0 3.5,0a1.75,1.75 0 1,0 -3.5,0M484.6,476.2a1.75,1.75 0 1,0 3.5,0a1.75,1.75 0 1,0 -3.5,0M482.7,478.7a1.75,1.75 0 1,0 3.5,0a1.75,1.75 0 1,0 -3.5,0M480.8,481.0a1.75,1.75 0 1,0 3.5,0a1.75,1.75 0 1,0 -3.5,0M478.9,483.1a1.75,1.75 0 1,0 3.5,0a1.75,1.75 0 1,0 -3.5,0M477.0,485.0a1.75,1.75 0 1,0 3.5,0a1.75,1.75 0 1,0 -3.5,0M475.2,486.9a1.75,1.75 0 1,0 3.5,0a1.75,1.75 0 1,0 -3.5,0M473.2,488.8a1.75,1.75 0 1,0 3.5,0a1.75,1.75 0 1,0 -3.5,0M471.3,490.6a1.75,1.75 0 1,0 3.5,0a1.75,1.75 0 1,0 -3.5,0M469.5,492.4a1.75,1.75 0 1,0 3.5,0a1.75,1.75 0 1,0 -3.5,0M467.7,494.3a1.75,1.75 0 1,0 3.5,0a1.75,1.75 0 1,0 -3.5,0M465.7,496.2a1.75,1.75 0 1,0 3.5,0a1.75,1.75 0 1,0 -3.5,0M463.9,498.0a1.75,1.75 0 1,0 3.5,0a1.75,1.75 0 1,0 -3.5,0M462.0,499.8a1.75,1.75 0 1,0 3.5,0a1.75,1.75 0 1,0 -3.5,0M460.1,501.6a1.75,1.75 0 1,0 3.5,0a1.75,1.75 0 1,0 -3.5,0M458.2,503.5a1.75,1.75 0 1,0 3.5,0a1.75,1.75 0 1,0 -3.5,0M456.4,505.4a1.75,1.75 0 1,0 3.5,0a1.75,1.75 0 1,0 -3.5,0M454.5,507.2a1.75,1.75 0 1,0 3.5,0a1.75,1.75 0 1,0 -3.5,0" fill="#c33035"/>
<path d="M373.6,351.7C374.6,354.0 377.3,360.9 379.3,365.3C381.3,369.7 383.5,374.8 385.6,377.9C387.7,381.0 389.7,383.7 391.8,383.7C393.9,383.7 396.0,381.3 398.1,377.9C400.2,374.5 402.5,367.6 404.4,363.2C406.3,358.8 407.9,352.7 409.6,351.7C411.3,350.7 412.5,354.0 414.8,357.0C417.1,360.0 420.4,365.7 423.2,369.5C426.0,373.3 428.8,376.9 431.6,380.0C434.4,383.1 437.6,386.2 439.9,387.9C442.2,389.6 442.8,390.7 445.6,390.4C448.4,390.1 453.1,388.6 456.7,386.2C460.3,383.8 464.0,379.6 467.2,375.8C470.4,372.0 473.2,366.7 475.6,363.2C478.0,359.7 479.7,356.8 481.8,354.9C483.9,353.0 485.6,352.5 488.0,352.0C490.4,351.5 494.3,351.2 496.4,352.0C498.5,352.8 499.2,354.2 500.7,356.5C502.2,358.8 503.7,362.4 505.2,365.7C506.7,369.0 508.2,372.8 509.8,376.3C511.4,379.9 513.5,385.0 515.0,387.0C516.5,389.0 517.1,387.2 518.8,388.3C520.5,389.4 523.0,393.2 525.1,393.6C527.2,394.0 529.3,392.3 531.4,390.4C533.5,388.5 535.6,385.8 537.7,382.0C539.8,378.2 541.8,373.3 543.9,367.4C546.0,361.5 548.3,352.6 550.2,346.5C552.1,340.4 553.6,333.1 555.4,330.8C557.1,328.5 558.8,332.4 560.7,332.9C562.6,333.4 565.2,333.0 566.9,333.9C568.6,334.8 569.7,335.3 571.1,338.1C572.5,340.9 573.5,345.8 575.3,350.7C577.0,355.6 579.5,362.2 581.6,367.4C583.7,372.6 585.8,377.8 587.9,382.0C590.0,386.2 592.4,391.8 594.4,392.5C596.4,393.2 597.7,388.6 599.6,386.2C601.5,383.8 603.5,378.9 605.9,377.9C608.3,376.9 611.8,380.0 614.3,380.0C616.8,380.0 618.5,381.4 620.6,377.9C622.7,374.4 624.7,364.9 626.8,359.0C628.9,353.1 631.0,345.6 633.1,342.3C635.2,339.0 637.3,340.6 639.4,339.2C641.5,337.8 643.6,337.4 645.7,333.9C647.8,330.4 650.1,322.8 652.0,318.0C653.9,313.2 655.5,304.3 657.2,305.0C658.9,305.7 661.0,317.0 662.4,322.0C663.8,327.0 664.5,329.9 665.5,335.0C666.5,340.1 667.1,345.3 668.7,352.8C670.3,360.3 673.3,373.1 675.0,380.0C676.7,386.9 678.3,391.7 679.0,394.0M373.6,327.7C375.2,328.4 380.1,330.2 383.5,331.8C386.9,333.4 390.4,335.4 393.9,337.1C397.4,338.9 401.8,341.2 404.4,342.3C407.0,343.4 407.5,344.7 409.6,344.0C411.7,343.3 414.6,340.8 416.9,338.1C419.2,335.4 421.1,331.9 423.2,327.7C425.3,323.5 427.7,317.4 429.5,313.0C431.3,308.6 432.6,304.2 434.0,301.0C435.4,297.8 436.7,294.8 438.0,294.0C439.3,293.2 440.7,295.4 442.0,296.0C443.3,296.6 444.4,297.6 445.6,297.3C446.8,297.0 447.9,295.2 449.0,294.0C450.1,292.8 451.5,290.7 452.0,290.0M373.6,329.7C375.6,330.8 381.5,333.9 385.6,336.0C389.7,338.1 394.1,340.6 398.1,342.3C402.1,344.1 406.6,346.6 409.6,346.5C412.6,346.4 413.9,344.4 416.0,342.0C418.1,339.6 420.0,336.0 422.0,332.0C424.0,328.0 426.2,322.7 428.0,318.0C429.8,313.3 431.5,308.7 433.0,304.0C434.5,299.3 436.3,292.3 437.0,290.0M374.0,316.5C374.3,315.8 375.3,313.9 376.0,312.0C376.7,310.1 377.5,307.6 378.3,305.2C379.1,302.8 380.0,300.1 380.6,297.6C381.2,295.1 381.9,291.3 382.1,290.0M373.6,350.7C374.2,348.8 375.8,342.8 377.0,339.0C378.2,335.2 379.4,331.8 380.6,328.0C381.8,324.2 382.9,320.2 384.0,316.0C385.1,311.8 386.4,307.1 387.5,303.0C388.6,298.9 389.9,293.7 390.5,291.5C391.1,289.3 390.9,290.2 391.0,290.0M384.0,345.0C384.4,343.7 385.7,339.5 386.5,337.0C387.3,334.5 388.1,332.8 389.0,330.0C389.9,327.2 391.0,323.5 392.0,320.0C393.0,316.5 394.0,312.7 395.0,309.0C396.0,305.3 397.2,301.2 398.0,298.0C398.8,294.8 399.7,291.3 400.0,290.0M458.0,290.0C459.0,292.0 461.8,298.3 464.0,302.0C466.2,305.7 468.4,307.0 471.4,312.0C474.4,317.0 478.7,326.4 481.8,331.8C484.9,337.2 487.8,341.2 490.2,344.4C492.6,347.6 494.3,351.6 496.4,351.0C498.5,350.4 500.6,343.9 503.0,341.0C505.4,338.1 507.5,337.9 510.5,333.9C513.5,329.9 517.8,322.4 520.9,317.2C524.0,312.0 527.0,307.1 529.3,302.6C531.6,298.1 533.6,292.1 534.5,290.0M462.0,290.0C463.0,291.8 465.4,296.1 468.0,301.0C470.6,305.9 474.3,315.2 477.7,319.3C481.1,323.4 485.0,324.2 488.1,325.6C491.2,327.0 494.0,329.0 496.5,327.7C499.0,326.4 501.1,321.6 503.0,318.0C504.9,314.4 506.4,310.7 508.0,306.0C509.6,301.3 511.8,292.7 512.6,290.0M452.0,290.0C453.3,292.5 457.0,299.7 460.0,305.0C463.0,310.3 466.7,316.5 470.0,322.0C473.3,327.5 476.7,333.8 480.0,338.0C483.3,342.2 487.3,344.8 490.0,347.0C492.7,349.2 494.4,349.0 496.4,351.0C498.4,353.0 500.2,356.2 502.0,359.0C503.8,361.8 505.3,364.8 507.0,368.0C508.7,371.2 510.3,374.8 512.0,378.0C513.7,381.2 516.2,385.5 517.0,387.0M564.9,290.0C565.6,292.1 567.3,298.1 569.0,302.6C570.7,307.1 572.8,311.6 575.3,317.2C577.8,322.8 581.2,330.1 583.7,336.0C586.2,341.9 588.2,348.4 590.0,352.8C591.8,357.2 592.9,360.2 594.4,362.2C595.9,364.1 597.4,363.8 599.0,364.5C600.6,365.2 602.3,368.3 603.8,366.4C605.3,364.4 606.2,357.9 608.0,352.8C609.8,347.7 612.4,340.4 614.3,336.0C616.2,331.6 617.4,328.7 619.5,326.6C621.6,324.5 624.7,325.3 626.8,323.5C628.9,321.7 630.4,318.8 632.0,316.0C633.6,313.2 635.1,310.7 636.3,306.7C637.5,302.7 638.9,294.4 639.4,292.0M570.0,290.0C571.3,292.3 575.5,300.2 578.0,304.0C580.5,307.8 583.0,309.8 585.0,313.0C587.0,316.2 588.6,320.9 590.2,323.5C591.8,326.1 592.5,329.4 594.4,328.7C596.3,328.0 599.4,323.0 601.7,319.3C604.0,315.6 606.1,310.0 608.0,306.7C609.9,303.4 611.8,302.2 613.2,299.4C614.6,296.6 615.9,291.6 616.4,290.0M612.0,292.0C612.7,293.5 614.8,298.6 616.0,301.0C617.2,303.4 617.7,304.7 619.5,306.7C621.3,308.7 624.9,311.6 626.8,313.0C628.7,314.4 629.4,316.2 631.0,315.1C632.6,314.1 634.9,310.6 636.3,306.7C637.7,302.8 638.9,294.4 639.4,292.0M668.0,290.0C668.7,291.3 670.3,295.5 672.0,298.0C673.7,300.5 677.0,303.8 678.0,305.0M373.6,433.9C374.6,435.8 377.6,440.7 379.8,445.2C382.0,449.7 384.3,455.1 386.6,461.1C388.9,467.1 391.1,475.4 393.4,481.4C395.6,487.4 397.9,492.5 400.1,497.3C402.4,502.1 405.8,507.9 406.9,510.0M373.6,469.0C376.5,469.6 385.1,471.5 391.1,472.4C397.1,473.3 405.2,477.1 409.7,474.5C414.2,471.9 415.3,462.6 418.2,456.6C421.1,450.6 424.3,444.2 427.3,438.5C430.3,432.8 433.3,426.5 436.3,422.6C439.3,418.7 442.4,414.9 445.4,415.3C448.4,415.7 451.4,421.0 454.4,424.9C457.4,428.8 460.5,434.0 463.5,438.5C466.5,443.0 469.5,448.2 472.5,452.0C475.5,455.8 478.6,458.8 481.6,461.1C484.6,463.4 488.1,464.5 490.6,465.6C493.1,466.8 494.9,467.2 496.5,468.0C498.1,468.8 499.0,469.3 500.1,470.5C501.2,471.7 502.1,473.1 503.0,475.0C503.9,476.9 504.9,479.5 505.8,482.2C506.7,484.9 507.6,488.1 508.5,491.0C509.4,493.9 510.6,496.2 511.5,499.4C512.4,502.6 513.6,508.2 514.0,510.0M373.6,470.5C375.8,471.6 382.2,475.3 386.6,476.9C391.0,478.5 396.2,479.6 400.1,480.3C404.0,481.1 407.6,480.4 409.7,481.4C411.8,482.4 411.0,484.0 412.5,486.3C414.0,488.6 416.6,492.6 418.6,495.4C420.6,498.2 422.9,500.7 424.7,503.0C426.5,505.3 428.4,507.7 429.3,509.0C430.2,510.3 429.9,510.7 430.0,511.0M409.7,474.5C411.1,472.3 414.9,466.0 418.2,461.1C421.5,456.2 425.1,450.7 429.6,445.2C434.1,439.7 440.5,429.4 445.4,428.3C450.3,427.2 455.2,434.2 459.0,438.5C462.8,442.8 465.0,448.3 468.0,454.3C471.0,460.3 474.5,472.8 477.1,474.7C479.8,476.6 481.6,471.3 483.9,465.6C486.1,459.9 488.5,446.0 490.6,440.7C492.7,435.4 494.0,434.6 496.3,433.9C498.6,433.1 501.4,433.5 504.2,436.2C507.0,438.9 510.3,444.5 513.3,449.8C516.3,455.1 519.8,462.6 522.3,467.9C524.8,473.2 526.2,476.7 528.0,481.4C529.8,486.1 531.4,491.5 533.0,496.0C534.6,500.5 535.2,510.3 537.4,508.6C539.6,506.9 543.0,493.6 546.0,486.0C549.0,478.4 552.2,465.6 555.5,463.3C558.8,461.0 563.2,470.5 565.7,472.4C568.2,474.3 567.6,473.6 570.2,474.7C572.9,475.8 577.6,477.9 581.6,479.2C585.6,480.5 590.7,484.1 594.5,482.6C598.3,481.1 601.1,473.3 604.2,470.1C607.3,466.9 610.6,464.6 613.2,463.3C615.8,462.0 617.4,461.8 620.0,462.2C622.6,462.6 626.1,464.7 629.1,465.6C632.1,466.6 634.7,468.5 638.1,467.9C641.5,467.3 646.4,466.0 649.4,462.2C652.4,458.4 653.6,450.7 656.2,445.2C658.9,439.7 662.6,433.7 665.3,429.4C667.9,425.1 669.9,421.5 672.1,419.2C674.4,416.9 677.7,415.9 678.8,415.3M445.4,415.3C444.3,418.4 440.9,425.9 438.6,433.9C436.3,441.9 433.7,453.9 431.8,463.3C429.9,472.7 428.6,482.7 427.3,490.5C426.0,498.3 424.5,506.8 423.9,510.0M445.4,415.3C446.5,418.4 449.9,425.9 452.2,433.9C454.5,441.9 456.7,453.9 459.0,463.3C461.3,472.7 464.1,482.7 465.8,490.5C467.5,498.3 468.6,506.8 469.2,510.0M388.2,511.0C388.8,509.2 390.5,503.8 392.0,500.0C393.5,496.2 395.1,491.3 397.0,488.0C398.9,484.7 401.3,482.0 403.4,480.2C405.5,478.4 408.5,477.6 409.5,477.1M389.0,476.5C389.6,477.1 391.5,478.3 392.8,480.2C394.1,482.1 395.5,484.9 397.0,488.0C398.5,491.1 400.4,495.2 402.0,499.0C403.6,502.8 405.8,509.0 406.5,511.0M555.5,463.3C558.0,465.2 565.6,471.9 570.2,474.7C574.8,477.5 579.0,478.7 583.0,480.0C587.0,481.3 591.0,481.2 594.5,482.6C598.0,484.0 600.7,486.1 604.2,488.2C607.7,490.3 612.5,493.5 615.5,495.0C618.5,496.5 620.5,496.0 622.3,497.3C624.0,498.6 624.9,501.1 626.0,503.0C627.1,504.9 628.6,507.7 629.1,508.6M577.0,510.0C578.2,507.5 581.8,498.8 584.0,495.0C586.2,491.2 588.2,489.1 590.0,487.0C591.8,484.9 593.0,482.6 594.5,482.6C596.0,482.6 597.2,484.4 599.0,487.0C600.8,489.6 603.2,494.2 605.0,498.0C606.8,501.8 609.2,508.0 610.0,510.0M630.2,510.0C631.3,507.5 634.9,500.3 637.0,495.0C639.1,489.7 640.9,483.5 643.0,478.0C645.1,472.5 648.3,464.8 649.4,462.2M656.2,510.0C657.3,504.9 660.7,489.2 663.0,479.2C665.3,469.2 667.7,458.1 669.8,449.8C671.9,441.5 674.0,433.5 675.5,429.4C677.0,425.2 678.2,425.6 678.8,424.9M489.0,292.0C489.3,293.3 490.2,297.0 491.0,300.0C491.8,303.0 492.6,307.2 493.5,310.0C494.4,312.8 495.2,316.4 496.3,316.6C497.4,316.8 498.7,313.3 500.0,311.0C501.3,308.7 502.8,305.2 504.0,303.0C505.2,300.8 506.2,299.8 507.0,298.0C507.8,296.2 508.7,293.0 509.0,292.0M496.7,468.0C495.7,469.1 492.9,471.9 490.6,474.6C488.3,477.3 485.9,480.9 483.0,484.1C480.1,487.3 476.0,491.1 473.5,493.7C471.0,496.2 469.7,497.5 467.8,499.4C465.9,501.3 464.0,503.1 462.0,505.0C460.0,506.9 457.0,510.0 456.0,511.0" fill="none" stroke="#4180f5" stroke-width="2.0" stroke-linejoin="round" stroke-linecap="round"/>
</g>
<rect x="373.6" y="15.4" width="306.80" height="219.00" fill="none" stroke="#262626" stroke-width="1.2"/>
<line x1="369.6" y1="15.40" x2="373.6" y2="15.40" stroke="#262626" stroke-width="1"/>
<text transform="translate(358.97,21.00) scale(0.9658,1)" font-size="15.0" fill="#000" stroke="#000" stroke-width="0.3">4</text>
<line x1="369.6" y1="46.69" x2="373.6" y2="46.69" stroke="#262626" stroke-width="1"/>
<text transform="translate(358.71,52.29) scale(1.0265,1)" font-size="15.0" fill="#000" stroke="#000" stroke-width="0.3">3</text>
<line x1="369.6" y1="77.97" x2="373.6" y2="77.97" stroke="#262626" stroke-width="1"/>
<text transform="translate(358.49,83.57) scale(1.0683,1)" font-size="15.0" fill="#000" stroke="#000" stroke-width="0.3">2</text>
<line x1="369.6" y1="109.26" x2="373.6" y2="109.26" stroke="#262626" stroke-width="1"/>
<text transform="translate(358.01,114.86) scale(1.1288,1)" font-size="15.0" fill="#000" stroke="#000" stroke-width="0.3">1</text>
<line x1="369.6" y1="140.54" x2="373.6" y2="140.54" stroke="#262626" stroke-width="1"/>
<text transform="translate(358.70,146.14) scale(1.0181,1)" font-size="15.0" fill="#000" stroke="#000" stroke-width="0.3">0</text>
<line x1="369.6" y1="171.83" x2="373.6" y2="171.83" stroke="#262626" stroke-width="1"/>
<text transform="translate(347.34,177.43) scale(1.1644,1)" font-size="15.0" fill="#000" stroke="#000" stroke-width="0.3">−1</text>
<line x1="369.6" y1="203.11" x2="373.6" y2="203.11" stroke="#262626" stroke-width="1"/>
<text transform="translate(347.34,208.71) scale(1.1661,1)" font-size="15.0" fill="#000" stroke="#000" stroke-width="0.3">−2</text>
<line x1="369.6" y1="234.40" x2="373.6" y2="234.40" stroke="#262626" stroke-width="1"/>
<text transform="translate(347.34,240.00) scale(1.1590,1)" font-size="15.0" fill="#000" stroke="#000" stroke-width="0.3">−3</text>
<line x1="373.6" y1="234.4" x2="373.6" y2="238.6" stroke="#262626" stroke-width="1"/>
<text transform="translate(369.99,251.90) scale(1.0309,1)" font-size="14.3" fill="#000" stroke="#000" stroke-width="0.3">Γ</text>
<line x1="413.3" y1="234.4" x2="413.3" y2="238.6" stroke="#262626" stroke-width="1"/>
<text transform="translate(407.51,251.90) scale(1.0976,1)" font-size="14.3" fill="#000" stroke="#000" stroke-width="0.3">M</text>
<line x1="436.4" y1="234.4" x2="436.4" y2="238.6" stroke="#262626" stroke-width="1"/>
<text transform="translate(432.38,251.90) scale(1.0360,1)" font-size="14.3" fill="#000" stroke="#000" stroke-width="0.3">K</text>
<line x1="482.3" y1="234.4" x2="482.3" y2="238.6" stroke="#262626" stroke-width="1"/>
<text transform="translate(479.21,251.90) scale(1.0150,1)" font-size="14.3" fill="#000" stroke="#000" stroke-width="0.3">Γ</text>
<line x1="503.4" y1="234.4" x2="503.4" y2="238.6" stroke="#262626" stroke-width="1"/>
<text transform="translate(499.37,251.90) scale(1.0124,1)" font-size="14.3" fill="#000" stroke="#000" stroke-width="0.3">A</text>
<line x1="544.0" y1="234.4" x2="544.0" y2="238.6" stroke="#262626" stroke-width="1"/>
<text transform="translate(540.05,251.90) scale(1.0626,1)" font-size="14.3" fill="#000" stroke="#000" stroke-width="0.3">L</text>
<line x1="566.6" y1="234.4" x2="566.6" y2="238.6" stroke="#262626" stroke-width="1"/>
<text transform="translate(561.71,251.90) scale(1.0140,1)" font-size="14.3" fill="#000" stroke="#000" stroke-width="0.3">H</text>
<line x1="613.3" y1="234.4" x2="613.3" y2="238.6" stroke="#262626" stroke-width="1"/>
<text transform="translate(608.97,251.90) scale(1.0124,1)" font-size="14.3" fill="#000" stroke="#000" stroke-width="0.3">A</text>
<line x1="659.4" y1="234.4" x2="659.4" y2="238.6" stroke="#262626" stroke-width="1"/>
<text transform="translate(653.78,251.90) scale(1.0391,1)" font-size="14.3" fill="#000" stroke="#000" stroke-width="0.3">H</text>
<line x1="680.4" y1="234.4" x2="680.4" y2="238.6" stroke="#262626" stroke-width="1"/>
<text transform="translate(675.57,251.90) scale(1.0482,1)" font-size="14.3" fill="#000" stroke="#000" stroke-width="0.3">K</text>
<text transform="translate(341.80,166.06) rotate(-90) scale(1.0966,1)" font-size="14" stroke="#000" stroke-width="0.3">Energy (eV)</text>
<rect x="373.6" y="290.5" width="305.20" height="218.40" fill="none" stroke="#262626" stroke-width="1.2"/>
<line x1="369.6" y1="290.50" x2="373.6" y2="290.50" stroke="#262626" stroke-width="1"/>
<text transform="translate(358.97,296.10) scale(0.9658,1)" font-size="15.0" fill="#000" stroke="#000" stroke-width="0.3">4</text>
<line x1="369.6" y1="321.70" x2="373.6" y2="321.70" stroke="#262626" stroke-width="1"/>
<text transform="translate(358.71,327.30) scale(1.0265,1)" font-size="15.0" fill="#000" stroke="#000" stroke-width="0.3">3</text>
<line x1="369.6" y1="352.90" x2="373.6" y2="352.90" stroke="#262626" stroke-width="1"/>
<text transform="translate(358.49,358.50) scale(1.0683,1)" font-size="15.0" fill="#000" stroke="#000" stroke-width="0.3">2</text>
<line x1="369.6" y1="384.10" x2="373.6" y2="384.10" stroke="#262626" stroke-width="1"/>
<text transform="translate(358.01,389.70) scale(1.1288,1)" font-size="15.0" fill="#000" stroke="#000" stroke-width="0.3">1</text>
<line x1="369.6" y1="415.30" x2="373.6" y2="415.30" stroke="#262626" stroke-width="1"/>
<text transform="translate(358.70,420.90) scale(1.0181,1)" font-size="15.0" fill="#000" stroke="#000" stroke-width="0.3">0</text>
<line x1="369.6" y1="446.50" x2="373.6" y2="446.50" stroke="#262626" stroke-width="1"/>
<text transform="translate(347.34,452.10) scale(1.1644,1)" font-size="15.0" fill="#000" stroke="#000" stroke-width="0.3">−1</text>
<line x1="369.6" y1="477.70" x2="373.6" y2="477.70" stroke="#262626" stroke-width="1"/>
<text transform="translate(347.34,483.30) scale(1.1661,1)" font-size="15.0" fill="#000" stroke="#000" stroke-width="0.3">−2</text>
<line x1="369.6" y1="508.90" x2="373.6" y2="508.90" stroke="#262626" stroke-width="1"/>
<text transform="translate(347.34,514.50) scale(1.1590,1)" font-size="15.0" fill="#000" stroke="#000" stroke-width="0.3">−3</text>
<line x1="373.6" y1="508.9" x2="373.6" y2="513.1" stroke="#262626" stroke-width="1"/>
<text transform="translate(369.99,526.40) scale(1.0309,1)" font-size="14.3" fill="#000" stroke="#000" stroke-width="0.3">Γ</text>
<line x1="409.5" y1="508.9" x2="409.5" y2="513.1" stroke="#262626" stroke-width="1"/>
<text transform="translate(405.71,526.40) scale(0.8972,1)" font-size="14.3" fill="#000" stroke="#000" stroke-width="0.3">X</text>
<line x1="445.6" y1="508.9" x2="445.6" y2="513.1" stroke="#262626" stroke-width="1"/>
<text transform="translate(439.97,526.40) scale(1.0454,1)" font-size="14.3" fill="#000" stroke="#000" stroke-width="0.3">M</text>
<line x1="497.0" y1="508.9" x2="497.0" y2="513.1" stroke="#262626" stroke-width="1"/>
<text transform="translate(493.39,526.40) scale(1.0309,1)" font-size="14.3" fill="#000" stroke="#000" stroke-width="0.3">Γ</text>
<line x1="555.3" y1="508.9" x2="555.3" y2="513.1" stroke="#262626" stroke-width="1"/>
<text transform="translate(550.88,526.40) scale(1.1360,1)" font-size="14.3" fill="#000" stroke="#000" stroke-width="0.3">Z</text>
<line x1="594.7" y1="508.9" x2="594.7" y2="513.1" stroke="#262626" stroke-width="1"/>
<text transform="translate(591.08,526.40) scale(0.7883,1)" font-size="14.3" fill="#000" stroke="#000" stroke-width="0.3">P</text>
<line x1="620.1" y1="508.9" x2="620.1" y2="513.1" stroke="#262626" stroke-width="1"/>
<text transform="translate(614.22,526.40) scale(1.0891,1)" font-size="14.3" fill="#000" stroke="#000" stroke-width="0.3">N</text>
<line x1="649.5" y1="508.9" x2="649.5" y2="513.1" stroke="#262626" stroke-width="1"/>
<text transform="translate(640.21,526.40) scale(1.0878,1)" font-size="14.3" fill="#000" stroke="#000" stroke-width="0.3">Z1</text>
<line x1="678.8" y1="508.9" x2="678.8" y2="513.1" stroke="#262626" stroke-width="1"/>
<text transform="translate(672.98,526.40) scale(0.9513,1)" font-size="14.3" fill="#000" stroke="#000" stroke-width="0.3">M</text>
<text transform="translate(341.80,440.69) rotate(-90) scale(1.1200,1)" font-size="14" stroke="#000" stroke-width="0.3">Energy (eV)</text></svg></div></body></html>
